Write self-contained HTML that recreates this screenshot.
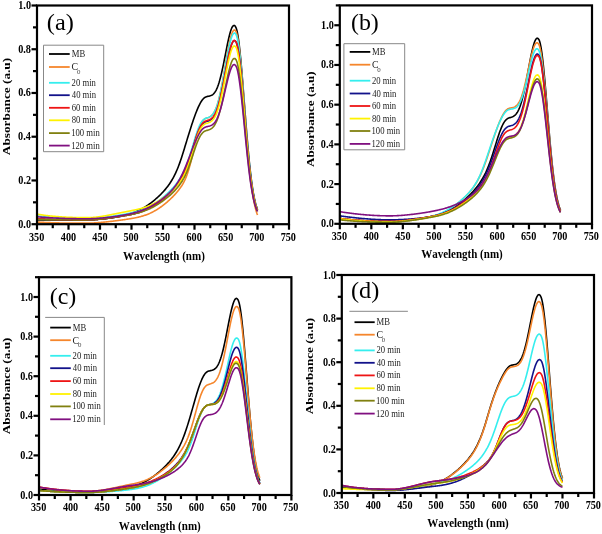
<!DOCTYPE html>
<html><head><meta charset="utf-8"><style>html,body{margin:0;padding:0;background:#fff;}body{width:602px;height:534px;overflow:hidden;}</style></head><body>
<svg width="602" height="534" viewBox="0 0 602 534" style="display:block;filter:blur(0.3px);font-family:'Liberation Serif',serif;font-kerning:none">
<rect width="602" height="534" fill="#fff"/>
<path d="M37,219.83 37.63,219.83 38.26,219.83 38.89,219.83 39.52,219.83 40.15,219.83 40.78,219.83 41.41,219.83 42.04,219.83 42.67,219.84 43.3,219.84 43.93,219.84 44.56,219.84 45.19,219.84 45.82,219.84 46.45,219.84 47.08,219.84 47.71,219.84 48.34,219.84 48.97,219.84 49.6,219.84 50.23,219.84 50.86,219.85 51.49,219.85 52.12,219.85 52.75,219.85 53.38,219.85 54.01,219.85 54.64,219.85 55.27,219.85 55.9,219.85 56.53,219.85 57.16,219.85 57.79,219.85 58.42,219.85 59.05,219.85 59.68,219.85 60.31,219.85 60.94,219.85 61.57,219.85 62.2,219.85 62.83,219.85 63.46,219.85 64.09,219.85 64.72,219.85 65.35,219.85 65.98,219.85 66.61,219.85 67.24,219.85 67.87,219.85 68.5,219.85 69.13,219.85 69.76,219.85 70.39,219.85 71.02,219.85 71.65,219.85 72.28,219.85 72.91,219.85 73.54,219.85 74.17,219.85 74.8,219.85 75.43,219.85 76.06,219.85 76.69,219.85 77.32,219.85 77.95,219.85 78.58,219.85 79.21,219.85 79.84,219.85 80.47,219.85 81.1,219.84 81.73,219.84 82.36,219.84 82.99,219.84 83.62,219.84 84.25,219.84 84.88,219.84 85.51,219.83 86.14,219.83 86.77,219.83 87.4,219.83 88.03,219.82 88.66,219.81 89.29,219.8 89.92,219.79 90.55,219.77 91.18,219.75 91.81,219.73 92.44,219.7 93.07,219.68 93.7,219.65 94.33,219.61 94.96,219.58 95.59,219.54 96.22,219.5 96.85,219.45 97.48,219.41 98.11,219.36 98.74,219.31 99.37,219.25 100,219.2 100.63,219.14 101.26,219.08 101.89,219.02 102.52,218.96 103.15,218.89 103.78,218.82 104.41,218.75 105.04,218.68 105.67,218.6 106.3,218.53 106.93,218.45 107.56,218.37 108.19,218.29 108.82,218.2 109.45,218.11 110.08,218.02 110.71,217.93 111.34,217.84 111.97,217.74 112.6,217.65 113.23,217.54 113.86,217.44 114.49,217.34 115.12,217.23 115.75,217.12 116.38,217 117.01,216.89 117.64,216.77 118.27,216.65 118.9,216.52 119.53,216.4 120.16,216.27 120.79,216.13 121.42,216 122.05,215.85 122.68,215.71 123.31,215.56 123.94,215.41 124.57,215.26 125.2,215.1 125.83,214.93 126.46,214.77 127.09,214.6 127.72,214.42 128.35,214.24 128.98,214.05 129.61,213.86 130.24,213.67 130.87,213.47 131.5,213.26 132.13,213.05 132.76,212.84 133.39,212.61 134.02,212.38 134.65,212.14 135.28,211.89 135.91,211.64 136.54,211.37 137.17,211.1 137.8,210.82 138.43,210.53 139.06,210.24 139.69,209.93 140.32,209.62 140.95,209.29 141.58,208.96 142.21,208.62 142.84,208.26 143.47,207.9 144.1,207.53 144.73,207.15 145.36,206.76 145.99,206.36 146.62,205.95 147.25,205.54 147.88,205.11 148.51,204.67 149.14,204.23 149.77,203.77 150.4,203.31 151.03,202.83 151.66,202.35 152.29,201.85 152.92,201.35 153.55,200.84 154.18,200.32 154.81,199.79 155.44,199.25 156.07,198.71 156.7,198.15 157.33,197.58 157.96,197 158.59,196.42 159.22,195.82 159.85,195.21 160.48,194.59 161.11,193.96 161.74,193.31 162.37,192.65 163,191.98 163.63,191.29 164.26,190.59 164.89,189.87 165.52,189.12 166.15,188.36 166.78,187.58 167.41,186.77 168.04,185.93 168.67,185.07 169.3,184.18 169.93,183.25 170.56,182.29 171.19,181.3 171.82,180.26 172.45,179.18 173.08,178.06 173.71,176.89 174.34,175.67 174.97,174.39 175.6,173.07 176.23,171.68 176.86,170.24 177.49,168.74 178.12,167.18 178.75,165.55 179.38,163.86 180.01,162.11 180.64,160.3 181.27,158.42 181.9,156.48 182.53,154.49 183.16,152.48 183.79,150.45 184.42,148.4 185.05,146.34 185.68,144.27 186.31,142.19 186.94,140.12 187.57,138.06 188.2,136 188.83,133.96 189.46,131.93 190.09,129.93 190.72,127.95 191.35,126 191.98,124.07 192.61,122.18 193.24,120.33 193.87,118.51 194.5,116.74 195.13,115.01 195.76,113.33 196.39,111.7 197.02,110.13 197.65,108.63 198.28,107.19 198.91,105.82 199.54,104.53 200.17,103.33 200.8,102.21 201.43,101.18 202.06,100.25 202.69,99.42 203.32,98.7 203.95,98.09 204.58,97.59 205.21,97.2 205.84,96.92 206.47,96.71 207.1,96.54 207.73,96.39 208.36,96.26 208.99,96.13 209.62,95.98 210.25,95.81 210.88,95.6 211.51,95.32 212.14,94.98 212.77,94.55 213.4,94.01 214.03,93.35 214.66,92.57 215.29,91.64 215.92,90.55 216.55,89.3 217.18,87.87 217.81,86.27 218.44,84.48 219.07,82.5 219.7,80.35 220.33,78.02 220.96,75.51 221.59,72.85 222.22,70.04 222.85,67.11 223.48,64.06 224.11,60.93 224.74,57.75 225.37,54.53 226,51.32 226.63,48.14 227.26,45.02 227.89,42.02 228.52,39.15 229.15,36.46 229.78,33.99 230.41,31.76 231.04,29.82 231.67,28.2 232.3,26.92 232.93,26.02 233.56,25.51 234.19,25.42 234.82,25.76 235.45,26.55 236.08,27.79 236.71,29.67 237.34,32.37 237.97,35.86 238.6,40.12 239.23,45.09 239.86,50.72 240.49,56.95 241.12,63.69 241.75,70.88 242.38,78.41 243.01,86.22 243.64,94.21 244.27,102.29 244.9,110.38 245.53,118.41 246.16,126.3 246.79,133.99 247.42,141.43 248.05,148.56 248.68,155.34 249.31,161.74 249.94,167.75 250.57,173.34 251.2,178.52 251.83,183.27 252.46,187.61 253.09,191.55 253.72,195.1 254.35,198.28 254.98,201.12 255.61,203.63 256.24,205.84 256.87,207.78 257.5,209.47" fill="none" stroke="#000000" stroke-width="1.6" stroke-linejoin="round"/>
<path d="M37,222.01 37.63,222.05 38.26,222.09 38.89,222.13 39.52,222.17 40.15,222.21 40.78,222.24 41.41,222.28 42.04,222.31 42.67,222.34 43.3,222.38 43.93,222.41 44.56,222.44 45.19,222.47 45.82,222.5 46.45,222.52 47.08,222.55 47.71,222.58 48.34,222.6 48.97,222.63 49.6,222.65 50.23,222.67 50.86,222.69 51.49,222.72 52.12,222.74 52.75,222.76 53.38,222.78 54.01,222.79 54.64,222.81 55.27,222.83 55.9,222.85 56.53,222.86 57.16,222.88 57.79,222.89 58.42,222.9 59.05,222.92 59.68,222.93 60.31,222.94 60.94,222.95 61.57,222.97 62.2,222.98 62.83,222.99 63.46,223 64.09,223.01 64.72,223.01 65.35,223.02 65.98,223.03 66.61,223.04 67.24,223.04 67.87,223.05 68.5,223.06 69.13,223.06 69.76,223.07 70.39,223.07 71.02,223.08 71.65,223.08 72.28,223.08 72.91,223.09 73.54,223.09 74.17,223.09 74.8,223.1 75.43,223.1 76.06,223.1 76.69,223.1 77.32,223.1 77.95,223.11 78.58,223.11 79.21,223.11 79.84,223.11 80.47,223.11 81.1,223.11 81.73,223.11 82.36,223.11 82.99,223.11 83.62,223.11 84.25,223.11 84.88,223.11 85.51,223.11 86.14,223.11 86.77,223.11 87.4,223.11 88.03,223.1 88.66,223.1 89.29,223.09 89.92,223.08 90.55,223.06 91.18,223.04 91.81,223.02 92.44,223 93.07,222.97 93.7,222.94 94.33,222.91 94.96,222.87 95.59,222.84 96.22,222.8 96.85,222.76 97.48,222.71 98.11,222.67 98.74,222.62 99.37,222.57 100,222.52 100.63,222.47 101.26,222.41 101.89,222.35 102.52,222.3 103.15,222.24 103.78,222.17 104.41,222.11 105.04,222.05 105.67,221.98 106.3,221.92 106.93,221.85 107.56,221.78 108.19,221.71 108.82,221.64 109.45,221.57 110.08,221.49 110.71,221.42 111.34,221.35 111.97,221.27 112.6,221.2 113.23,221.12 113.86,221.04 114.49,220.96 115.12,220.88 115.75,220.8 116.38,220.72 117.01,220.64 117.64,220.56 118.27,220.48 118.9,220.39 119.53,220.31 120.16,220.22 120.79,220.14 121.42,220.05 122.05,219.97 122.68,219.88 123.31,219.79 123.94,219.7 124.57,219.61 125.2,219.51 125.83,219.42 126.46,219.33 127.09,219.23 127.72,219.13 128.35,219.03 128.98,218.93 129.61,218.83 130.24,218.73 130.87,218.62 131.5,218.51 132.13,218.4 132.76,218.29 133.39,218.18 134.02,218.06 134.65,217.94 135.28,217.81 135.91,217.69 136.54,217.55 137.17,217.42 137.8,217.27 138.43,217.13 139.06,216.98 139.69,216.82 140.32,216.66 140.95,216.49 141.58,216.31 142.21,216.13 142.84,215.94 143.47,215.75 144.1,215.55 144.73,215.34 145.36,215.12 145.99,214.89 146.62,214.66 147.25,214.42 147.88,214.17 148.51,213.91 149.14,213.64 149.77,213.37 150.4,213.08 151.03,212.79 151.66,212.48 152.29,212.17 152.92,211.85 153.55,211.52 154.18,211.17 154.81,210.82 155.44,210.46 156.07,210.09 156.7,209.71 157.33,209.32 157.96,208.92 158.59,208.51 159.22,208.09 159.85,207.66 160.48,207.22 161.11,206.77 161.74,206.31 162.37,205.84 163,205.37 163.63,204.88 164.26,204.39 164.89,203.88 165.52,203.37 166.15,202.84 166.78,202.31 167.41,201.77 168.04,201.22 168.67,200.65 169.3,200.08 169.93,199.5 170.56,198.91 171.19,198.3 171.82,197.69 172.45,197.06 173.08,196.42 173.71,195.76 174.34,195.09 174.97,194.41 175.6,193.71 176.23,192.99 176.86,192.25 177.49,191.5 178.12,190.72 178.75,189.91 179.38,189.08 180.01,188.23 180.64,187.35 181.27,186.43 181.9,185.49 182.53,184.49 183.16,183.41 183.79,182.25 184.42,181 185.05,179.66 185.68,178.21 186.31,176.65 186.94,174.99 187.57,173.2 188.2,171.29 188.83,169.27 189.46,167.12 190.09,164.85 190.72,162.47 191.35,159.99 191.98,157.42 192.61,154.77 193.24,152.06 193.87,149.32 194.5,146.57 195.13,143.84 195.76,141.15 196.39,138.54 197.02,136.03 197.65,133.65 198.28,131.42 198.91,129.35 199.54,127.47 200.17,125.77 200.8,124.27 201.43,122.97 202.06,121.85 202.69,120.91 203.32,120.14 203.95,119.51 204.58,119.02 205.21,118.65 205.84,118.37 206.47,118.13 207.1,117.91 207.73,117.69 208.36,117.45 208.99,117.19 209.62,116.88 210.25,116.52 210.88,116.1 211.51,115.59 212.14,114.98 212.77,114.26 213.4,113.41 214.03,112.42 214.66,111.28 215.29,109.97 215.92,108.48 216.55,106.81 217.18,104.95 217.81,102.89 218.44,100.64 219.07,98.19 219.7,95.54 220.33,92.7 220.96,89.69 221.59,86.51 222.22,83.18 222.85,79.71 223.48,76.14 224.11,72.49 224.74,68.77 225.37,65.04 226,61.3 226.63,57.62 227.26,54.01 227.89,50.51 228.52,47.17 229.15,44.03 229.78,41.11 230.41,38.46 231.04,36.12 231.67,34.11 232.3,32.47 232.93,31.23 233.56,30.4 234.19,30.02 234.82,30.09 235.45,30.64 236.08,31.66 236.71,33.36 237.34,35.9 237.97,39.27 238.6,43.44 239.23,48.36 239.86,53.96 240.49,60.19 241.12,66.96 241.75,74.19 242.38,81.79 243.01,89.68 243.64,97.77 244.27,105.96 244.9,114.17 245.53,122.32 246.16,130.34 246.79,138.16 247.42,145.72 248.05,152.97 248.68,159.87 249.31,166.39 249.94,172.51 250.57,178.21 251.2,183.48 251.83,188.32 252.46,192.74 253.09,196.75 253.72,200.37 254.35,203.61 254.98,206.5 255.61,209.06 256.24,211.31 256.87,213.28 257.5,215.01" fill="none" stroke="#F5862C" stroke-width="1.6" stroke-linejoin="round"/>
<path d="M37,215.89 37.63,215.96 38.26,216.04 38.89,216.11 39.52,216.18 40.15,216.25 40.78,216.32 41.41,216.38 42.04,216.45 42.67,216.51 43.3,216.58 43.93,216.64 44.56,216.7 45.19,216.76 45.82,216.82 46.45,216.87 47.08,216.93 47.71,216.99 48.34,217.04 48.97,217.09 49.6,217.14 50.23,217.2 50.86,217.24 51.49,217.29 52.12,217.34 52.75,217.39 53.38,217.43 54.01,217.48 54.64,217.52 55.27,217.56 55.9,217.6 56.53,217.64 57.16,217.68 57.79,217.72 58.42,217.76 59.05,217.79 59.68,217.83 60.31,217.86 60.94,217.89 61.57,217.93 62.2,217.96 62.83,217.99 63.46,218.02 64.09,218.05 64.72,218.07 65.35,218.1 65.98,218.13 66.61,218.15 67.24,218.17 67.87,218.2 68.5,218.22 69.13,218.24 69.76,218.26 70.39,218.28 71.02,218.3 71.65,218.32 72.28,218.33 72.91,218.35 73.54,218.37 74.17,218.38 74.8,218.39 75.43,218.41 76.06,218.42 76.69,218.43 77.32,218.44 77.95,218.45 78.58,218.46 79.21,218.47 79.84,218.48 80.47,218.48 81.1,218.49 81.73,218.5 82.36,218.5 82.99,218.51 83.62,218.51 84.25,218.51 84.88,218.51 85.51,218.51 86.14,218.51 86.77,218.51 87.4,218.51 88.03,218.51 88.66,218.5 89.29,218.49 89.92,218.48 90.55,218.46 91.18,218.44 91.81,218.41 92.44,218.38 93.07,218.35 93.7,218.32 94.33,218.28 94.96,218.24 95.59,218.19 96.22,218.15 96.85,218.1 97.48,218.05 98.11,217.99 98.74,217.93 99.37,217.88 100,217.81 100.63,217.75 101.26,217.68 101.89,217.62 102.52,217.55 103.15,217.48 103.78,217.4 104.41,217.33 105.04,217.25 105.67,217.17 106.3,217.09 106.93,217.01 107.56,216.93 108.19,216.84 108.82,216.76 109.45,216.67 110.08,216.58 110.71,216.49 111.34,216.4 111.97,216.31 112.6,216.22 113.23,216.12 113.86,216.03 114.49,215.93 115.12,215.83 115.75,215.73 116.38,215.63 117.01,215.53 117.64,215.43 118.27,215.33 118.9,215.22 119.53,215.12 120.16,215.01 120.79,214.9 121.42,214.79 122.05,214.68 122.68,214.57 123.31,214.46 123.94,214.34 124.57,214.22 125.2,214.11 125.83,213.99 126.46,213.87 127.09,213.74 127.72,213.62 128.35,213.49 128.98,213.36 129.61,213.23 130.24,213.1 130.87,212.96 131.5,212.83 132.13,212.69 132.76,212.54 133.39,212.4 134.02,212.24 134.65,212.09 135.28,211.92 135.91,211.76 136.54,211.58 137.17,211.41 137.8,211.22 138.43,211.03 139.06,210.84 139.69,210.63 140.32,210.42 140.95,210.21 141.58,209.98 142.21,209.75 142.84,209.52 143.47,209.27 144.1,209.02 144.73,208.75 145.36,208.48 145.99,208.21 146.62,207.92 147.25,207.62 147.88,207.32 148.51,207.01 149.14,206.68 149.77,206.35 150.4,206.01 151.03,205.67 151.66,205.31 152.29,204.94 152.92,204.56 153.55,204.18 154.18,203.79 154.81,203.38 155.44,202.97 156.07,202.55 156.7,202.12 157.33,201.68 157.96,201.24 158.59,200.78 159.22,200.32 159.85,199.84 160.48,199.36 161.11,198.87 161.74,198.37 162.37,197.86 163,197.35 163.63,196.82 164.26,196.29 164.89,195.75 165.52,195.2 166.15,194.64 166.78,194.07 167.41,193.48 168.04,192.89 168.67,192.29 169.3,191.68 169.93,191.05 170.56,190.41 171.19,189.75 171.82,189.08 172.45,188.4 173.08,187.7 173.71,186.97 174.34,186.23 174.97,185.47 175.6,184.68 176.23,183.87 176.86,183.03 177.49,182.16 178.12,181.27 178.75,180.34 179.38,179.38 180.01,178.38 180.64,177.35 181.27,176.28 181.9,175.17 182.53,174.01 183.16,172.78 183.79,171.49 184.42,170.13 185.05,168.69 185.68,167.18 186.31,165.6 186.94,163.95 187.57,162.22 188.2,160.42 188.83,158.55 189.46,156.62 190.09,154.63 190.72,152.59 191.35,150.51 191.98,148.4 192.61,146.28 193.24,144.14 193.87,142.02 194.5,139.92 195.13,137.85 195.76,135.84 196.39,133.9 197.02,132.04 197.65,130.28 198.28,128.63 198.91,127.08 199.54,125.67 200.17,124.38 200.8,123.22 201.43,122.19 202.06,121.3 202.69,120.53 203.32,119.88 203.95,119.34 204.58,118.9 205.21,118.56 205.84,118.3 206.47,118.07 207.1,117.86 207.73,117.64 208.36,117.41 208.99,117.15 209.62,116.85 210.25,116.5 210.88,116.08 211.51,115.58 212.14,114.99 212.77,114.29 213.4,113.46 214.03,112.5 214.66,111.39 215.29,110.12 215.92,108.68 216.55,107.07 217.18,105.27 217.81,103.28 218.44,101.1 219.07,98.74 219.7,96.18 220.33,93.45 220.96,90.54 221.59,87.48 222.22,84.27 222.85,80.94 223.48,77.5 224.11,73.99 224.74,70.41 225.37,66.82 226,63.23 226.63,59.68 227.26,56.21 227.89,52.85 228.52,49.64 229.15,46.61 229.78,43.8 230.41,41.25 231.04,38.99 231.67,37.06 232.3,35.47 232.93,34.27 233.56,33.46 234.19,33.08 234.82,33.14 235.45,33.65 236.08,34.62 236.71,36.22 237.34,38.64 237.97,41.86 238.6,45.84 239.23,50.53 239.86,55.88 240.49,61.82 241.12,68.29 241.75,75.2 242.38,82.47 243.01,90 243.64,97.73 244.27,105.56 244.9,113.4 245.53,121.19 246.16,128.86 246.79,136.33 247.42,143.56 248.05,150.49 248.68,157.09 249.31,163.32 249.94,169.17 250.57,174.61 251.2,179.65 251.83,184.28 252.46,188.51 253.09,192.34 253.72,195.8 254.35,198.89 254.98,201.65 255.61,204.1 256.24,206.25 256.87,208.14 257.5,209.79" fill="none" stroke="#35EEEE" stroke-width="1.6" stroke-linejoin="round"/>
<path d="M37,218.73 37.63,218.77 38.26,218.81 38.89,218.85 39.52,218.89 40.15,218.93 40.78,218.96 41.41,219 42.04,219.03 42.67,219.07 43.3,219.1 43.93,219.13 44.56,219.16 45.19,219.19 45.82,219.22 46.45,219.25 47.08,219.27 47.71,219.3 48.34,219.32 48.97,219.35 49.6,219.37 50.23,219.39 50.86,219.42 51.49,219.44 52.12,219.46 52.75,219.48 53.38,219.5 54.01,219.52 54.64,219.53 55.27,219.55 55.9,219.57 56.53,219.58 57.16,219.6 57.79,219.61 58.42,219.63 59.05,219.64 59.68,219.65 60.31,219.67 60.94,219.68 61.57,219.69 62.2,219.7 62.83,219.71 63.46,219.72 64.09,219.73 64.72,219.74 65.35,219.75 65.98,219.75 66.61,219.76 67.24,219.77 67.87,219.77 68.5,219.78 69.13,219.79 69.76,219.79 70.39,219.8 71.02,219.8 71.65,219.8 72.28,219.81 72.91,219.81 73.54,219.81 74.17,219.82 74.8,219.82 75.43,219.82 76.06,219.82 76.69,219.83 77.32,219.83 77.95,219.83 78.58,219.83 79.21,219.83 79.84,219.83 80.47,219.83 81.1,219.83 81.73,219.83 82.36,219.83 82.99,219.83 83.62,219.83 84.25,219.83 84.88,219.83 85.51,219.83 86.14,219.83 86.77,219.83 87.4,219.83 88.03,219.82 88.66,219.82 89.29,219.81 89.92,219.79 90.55,219.77 91.18,219.75 91.81,219.73 92.44,219.7 93.07,219.67 93.7,219.63 94.33,219.6 94.96,219.56 95.59,219.52 96.22,219.47 96.85,219.42 97.48,219.37 98.11,219.32 98.74,219.26 99.37,219.21 100,219.15 100.63,219.09 101.26,219.02 101.89,218.96 102.52,218.89 103.15,218.82 103.78,218.75 104.41,218.68 105.04,218.6 105.67,218.53 106.3,218.45 106.93,218.37 107.56,218.29 108.19,218.21 108.82,218.13 109.45,218.04 110.08,217.96 110.71,217.87 111.34,217.78 111.97,217.69 112.6,217.6 113.23,217.51 113.86,217.42 114.49,217.33 115.12,217.23 115.75,217.14 116.38,217.04 117.01,216.94 117.64,216.85 118.27,216.75 118.9,216.65 119.53,216.54 120.16,216.44 120.79,216.34 121.42,216.23 122.05,216.13 122.68,216.02 123.31,215.91 123.94,215.8 124.57,215.69 125.2,215.58 125.83,215.46 126.46,215.35 127.09,215.23 127.72,215.11 128.35,214.99 128.98,214.87 129.61,214.74 130.24,214.62 130.87,214.49 131.5,214.36 132.13,214.22 132.76,214.09 133.39,213.94 134.02,213.8 134.65,213.64 135.28,213.49 135.91,213.32 136.54,213.15 137.17,212.98 137.8,212.8 138.43,212.61 139.06,212.42 139.69,212.22 140.32,212.01 140.95,211.79 141.58,211.57 142.21,211.34 142.84,211.11 143.47,210.86 144.1,210.61 144.73,210.35 145.36,210.08 145.99,209.8 146.62,209.51 147.25,209.22 147.88,208.91 148.51,208.6 149.14,208.28 149.77,207.95 150.4,207.61 151.03,207.26 151.66,206.9 152.29,206.54 152.92,206.16 153.55,205.78 154.18,205.39 154.81,204.99 155.44,204.58 156.07,204.16 156.7,203.73 157.33,203.29 157.96,202.85 158.59,202.39 159.22,201.93 159.85,201.46 160.48,200.98 161.11,200.5 161.74,200 162.37,199.5 163,198.99 163.63,198.47 164.26,197.94 164.89,197.4 165.52,196.85 166.15,196.3 166.78,195.73 167.41,195.16 168.04,194.58 168.67,193.98 169.3,193.38 169.93,192.76 170.56,192.13 171.19,191.48 171.82,190.83 172.45,190.15 173.08,189.46 173.71,188.75 174.34,188.03 174.97,187.28 175.6,186.51 176.23,185.72 176.86,184.9 177.49,184.06 178.12,183.18 178.75,182.28 179.38,181.35 180.01,180.38 180.64,179.38 181.27,178.34 181.9,177.26 182.53,176.13 183.16,174.94 183.79,173.69 184.42,172.37 185.05,170.97 185.68,169.51 186.31,167.97 186.94,166.36 187.57,164.68 188.2,162.93 188.83,161.11 189.46,159.23 190.09,157.29 190.72,155.3 191.35,153.27 191.98,151.21 192.61,149.13 193.24,147.05 193.87,144.97 194.5,142.91 195.13,140.89 195.76,138.93 196.39,137.03 197.02,135.21 197.65,133.48 198.28,131.86 198.91,130.35 199.54,128.96 200.17,127.7 200.8,126.57 201.43,125.57 202.06,124.69 202.69,123.94 203.32,123.31 203.95,122.79 204.58,122.36 205.21,122.03 205.84,121.78 206.47,121.57 207.1,121.36 207.73,121.15 208.36,120.93 208.99,120.69 209.62,120.41 210.25,120.08 210.88,119.68 211.51,119.21 212.14,118.65 212.77,117.99 213.4,117.2 214.03,116.29 214.66,115.24 215.29,114.03 215.92,112.66 216.55,111.13 217.18,109.41 217.81,107.52 218.44,105.45 219.07,103.19 219.7,100.75 220.33,98.15 220.96,95.37 221.59,92.45 222.22,89.39 222.85,86.2 223.48,82.92 224.11,79.56 224.74,76.15 225.37,72.71 226,69.28 226.63,65.89 227.26,62.58 227.89,59.37 228.52,56.3 229.15,53.4 229.78,50.72 230.41,48.29 231.04,46.13 231.67,44.29 232.3,42.78 232.93,41.63 233.56,40.87 234.19,40.52 234.82,40.58 235.45,41.08 236.08,42.01 236.71,43.56 237.34,45.89 237.97,48.99 238.6,52.81 239.23,57.31 239.86,62.45 240.49,68.17 241.12,74.37 241.75,81.01 242.38,87.98 243.01,95.22 243.64,102.64 244.27,110.15 244.9,117.68 245.53,125.16 246.16,132.52 246.79,139.69 247.42,146.62 248.05,153.28 248.68,159.61 249.31,165.59 249.94,171.2 250.57,176.43 251.2,181.27 251.83,185.71 252.46,189.76 253.09,193.44 253.72,196.76 254.35,199.73 254.98,202.38 255.61,204.73 256.24,206.8 256.87,208.61 257.5,210.19" fill="none" stroke="#12128A" stroke-width="1.6" stroke-linejoin="round"/>
<path d="M37,218.73 37.63,218.77 38.26,218.81 38.89,218.85 39.52,218.89 40.15,218.93 40.78,218.96 41.41,219 42.04,219.03 42.67,219.07 43.3,219.1 43.93,219.13 44.56,219.16 45.19,219.19 45.82,219.22 46.45,219.25 47.08,219.27 47.71,219.3 48.34,219.32 48.97,219.35 49.6,219.37 50.23,219.39 50.86,219.42 51.49,219.44 52.12,219.46 52.75,219.48 53.38,219.5 54.01,219.52 54.64,219.53 55.27,219.55 55.9,219.57 56.53,219.58 57.16,219.6 57.79,219.61 58.42,219.63 59.05,219.64 59.68,219.65 60.31,219.67 60.94,219.68 61.57,219.69 62.2,219.7 62.83,219.71 63.46,219.72 64.09,219.73 64.72,219.74 65.35,219.75 65.98,219.75 66.61,219.76 67.24,219.77 67.87,219.77 68.5,219.78 69.13,219.79 69.76,219.79 70.39,219.8 71.02,219.8 71.65,219.8 72.28,219.81 72.91,219.81 73.54,219.81 74.17,219.82 74.8,219.82 75.43,219.82 76.06,219.82 76.69,219.83 77.32,219.83 77.95,219.83 78.58,219.83 79.21,219.83 79.84,219.83 80.47,219.83 81.1,219.83 81.73,219.83 82.36,219.83 82.99,219.83 83.62,219.83 84.25,219.83 84.88,219.83 85.51,219.83 86.14,219.83 86.77,219.83 87.4,219.83 88.03,219.82 88.66,219.82 89.29,219.81 89.92,219.79 90.55,219.77 91.18,219.75 91.81,219.73 92.44,219.7 93.07,219.67 93.7,219.63 94.33,219.6 94.96,219.56 95.59,219.51 96.22,219.47 96.85,219.42 97.48,219.37 98.11,219.32 98.74,219.26 99.37,219.2 100,219.14 100.63,219.08 101.26,219.02 101.89,218.95 102.52,218.89 103.15,218.82 103.78,218.74 104.41,218.67 105.04,218.6 105.67,218.52 106.3,218.44 106.93,218.36 107.56,218.28 108.19,218.2 108.82,218.12 109.45,218.03 110.08,217.95 110.71,217.86 111.34,217.77 111.97,217.68 112.6,217.59 113.23,217.5 113.86,217.41 114.49,217.32 115.12,217.22 115.75,217.13 116.38,217.03 117.01,216.93 117.64,216.84 118.27,216.74 118.9,216.64 119.53,216.53 120.16,216.43 120.79,216.33 121.42,216.22 122.05,216.12 122.68,216.01 123.31,215.9 123.94,215.79 124.57,215.68 125.2,215.57 125.83,215.46 126.46,215.34 127.09,215.22 127.72,215.11 128.35,214.99 128.98,214.86 129.61,214.74 130.24,214.62 130.87,214.49 131.5,214.36 132.13,214.23 132.76,214.09 133.39,213.95 134.02,213.8 134.65,213.65 135.28,213.49 135.91,213.33 136.54,213.16 137.17,212.99 137.8,212.81 138.43,212.62 139.06,212.43 139.69,212.23 140.32,212.03 140.95,211.81 141.58,211.59 142.21,211.37 142.84,211.13 143.47,210.89 144.1,210.63 144.73,210.38 145.36,210.11 145.99,209.83 146.62,209.55 147.25,209.25 147.88,208.95 148.51,208.64 149.14,208.32 149.77,207.99 150.4,207.66 151.03,207.31 151.66,206.96 152.29,206.59 152.92,206.22 153.55,205.84 154.18,205.45 154.81,205.05 155.44,204.64 156.07,204.22 156.7,203.79 157.33,203.36 157.96,202.92 158.59,202.47 159.22,202.01 159.85,201.54 160.48,201.06 161.11,200.57 161.74,200.08 162.37,199.58 163,199.07 163.63,198.55 164.26,198.02 164.89,197.49 165.52,196.94 166.15,196.39 166.78,195.83 167.41,195.26 168.04,194.67 168.67,194.08 169.3,193.47 169.93,192.86 170.56,192.23 171.19,191.58 171.82,190.93 172.45,190.25 173.08,189.56 173.71,188.86 174.34,188.13 174.97,187.38 175.6,186.61 176.23,185.82 176.86,185 177.49,184.15 178.12,183.28 178.75,182.38 179.38,181.44 180.01,180.47 180.64,179.46 181.27,178.42 181.9,177.34 182.53,176.21 183.16,175.01 183.79,173.75 184.42,172.41 185.05,171.01 185.68,169.53 186.31,167.98 186.94,166.35 187.57,164.65 188.2,162.87 188.83,161.03 189.46,159.12 190.09,157.15 190.72,155.13 191.35,153.07 191.98,150.97 192.61,148.85 193.24,146.73 193.87,144.61 194.5,142.51 195.13,140.45 195.76,138.44 196.39,136.5 197.02,134.64 197.65,132.88 198.28,131.22 198.91,129.68 199.54,128.27 200.17,126.98 200.8,125.82 201.43,124.8 202.06,123.91 202.69,123.14 203.32,122.5 203.95,121.97 204.58,121.54 205.21,121.21 205.84,120.95 206.47,120.74 207.1,120.54 207.73,120.33 208.36,120.12 208.99,119.88 209.62,119.61 210.25,119.29 210.88,118.9 211.51,118.44 212.14,117.9 212.77,117.24 213.4,116.48 214.03,115.58 214.66,114.55 215.29,113.36 215.92,112.01 216.55,110.49 217.18,108.8 217.81,106.93 218.44,104.88 219.07,102.65 219.7,100.24 220.33,97.65 220.96,94.91 221.59,92.01 222.22,88.97 222.85,85.81 223.48,82.55 224.11,79.22 224.74,75.83 225.37,72.42 226,69.02 226.63,65.65 227.26,62.36 227.89,59.17 228.52,56.13 229.15,53.26 229.78,50.6 230.41,48.18 231.04,46.05 231.67,44.22 232.3,42.73 232.93,41.6 233.56,40.85 234.19,40.51 234.82,40.59 235.45,41.1 236.08,42.05 236.71,43.61 237.34,45.95 237.97,49.04 238.6,52.87 239.23,57.38 239.86,62.53 240.49,68.24 241.12,74.45 241.75,81.08 242.38,88.06 243.01,95.29 243.64,102.71 244.27,110.22 244.9,117.74 245.53,125.22 246.16,132.57 246.79,139.74 247.42,146.67 248.05,153.32 248.68,159.65 249.31,165.63 249.94,171.24 250.57,176.46 251.2,181.29 251.83,185.73 252.46,189.78 253.09,193.46 253.72,196.78 254.35,199.75 254.98,202.39 255.61,204.74 256.24,206.8 256.87,208.61 257.5,210.19" fill="none" stroke="#EE1515" stroke-width="1.6" stroke-linejoin="round"/>
<path d="M37,214.14 37.63,214.24 38.26,214.34 38.89,214.44 39.52,214.54 40.15,214.64 40.78,214.73 41.41,214.82 42.04,214.91 42.67,215 43.3,215.09 43.93,215.17 44.56,215.25 45.19,215.34 45.82,215.42 46.45,215.49 47.08,215.57 47.71,215.64 48.34,215.72 48.97,215.79 49.6,215.86 50.23,215.93 50.86,215.99 51.49,216.06 52.12,216.12 52.75,216.18 53.38,216.24 54.01,216.3 54.64,216.36 55.27,216.42 55.9,216.47 56.53,216.52 57.16,216.57 57.79,216.62 58.42,216.67 59.05,216.72 59.68,216.77 60.31,216.81 60.94,216.85 61.57,216.89 62.2,216.94 62.83,216.97 63.46,217.01 64.09,217.05 64.72,217.08 65.35,217.12 65.98,217.15 66.61,217.18 67.24,217.21 67.87,217.24 68.5,217.27 69.13,217.3 69.76,217.32 70.39,217.35 71.02,217.37 71.65,217.39 72.28,217.42 72.91,217.44 73.54,217.45 74.17,217.47 74.8,217.49 75.43,217.51 76.06,217.52 76.69,217.54 77.32,217.55 77.95,217.56 78.58,217.57 79.21,217.58 79.84,217.59 80.47,217.6 81.1,217.61 81.73,217.62 82.36,217.62 82.99,217.63 83.62,217.63 84.25,217.63 84.88,217.64 85.51,217.64 86.14,217.64 86.77,217.64 87.4,217.64 88.03,217.63 88.66,217.63 89.29,217.61 89.92,217.59 90.55,217.56 91.18,217.53 91.81,217.49 92.44,217.45 93.07,217.41 93.7,217.35 94.33,217.3 94.96,217.24 95.59,217.18 96.22,217.11 96.85,217.04 97.48,216.96 98.11,216.88 98.74,216.8 99.37,216.72 100,216.63 100.63,216.54 101.26,216.44 101.89,216.35 102.52,216.25 103.15,216.14 103.78,216.04 104.41,215.93 105.04,215.82 105.67,215.71 106.3,215.6 106.93,215.49 107.56,215.37 108.19,215.26 108.82,215.14 109.45,215.02 110.08,214.9 110.71,214.78 111.34,214.66 111.97,214.53 112.6,214.41 113.23,214.28 113.86,214.16 114.49,214.03 115.12,213.91 115.75,213.78 116.38,213.65 117.01,213.53 117.64,213.4 118.27,213.27 118.9,213.14 119.53,213.02 120.16,212.89 120.79,212.76 121.42,212.64 122.05,212.51 122.68,212.38 123.31,212.26 123.94,212.13 124.57,212.01 125.2,211.88 125.83,211.75 126.46,211.63 127.09,211.5 127.72,211.38 128.35,211.26 128.98,211.13 129.61,211.01 130.24,210.89 130.87,210.76 131.5,210.64 132.13,210.52 132.76,210.39 133.39,210.27 134.02,210.14 134.65,210 135.28,209.87 135.91,209.73 136.54,209.59 137.17,209.45 137.8,209.3 138.43,209.15 139.06,208.99 139.69,208.83 140.32,208.66 140.95,208.49 141.58,208.31 142.21,208.13 142.84,207.94 143.47,207.75 144.1,207.55 144.73,207.34 145.36,207.13 145.99,206.91 146.62,206.69 147.25,206.45 147.88,206.21 148.51,205.96 149.14,205.71 149.77,205.45 150.4,205.18 151.03,204.9 151.66,204.61 152.29,204.32 152.92,204.02 153.55,203.71 154.18,203.39 154.81,203.06 155.44,202.73 156.07,202.39 156.7,202.04 157.33,201.68 157.96,201.32 158.59,200.94 159.22,200.56 159.85,200.17 160.48,199.77 161.11,199.37 161.74,198.96 162.37,198.54 163,198.11 163.63,197.67 164.26,197.22 164.89,196.77 165.52,196.31 166.15,195.84 166.78,195.36 167.41,194.87 168.04,194.37 168.67,193.86 169.3,193.33 169.93,192.8 170.56,192.25 171.19,191.7 171.82,191.12 172.45,190.53 173.08,189.93 173.71,189.31 174.34,188.67 174.97,188 175.6,187.32 176.23,186.62 176.86,185.89 177.49,185.13 178.12,184.35 178.75,183.53 179.38,182.69 180.01,181.81 180.64,180.89 181.27,179.94 181.9,178.95 182.53,177.91 183.16,176.81 183.79,175.64 184.42,174.39 185.05,173.07 185.68,171.67 186.31,170.2 186.94,168.64 187.57,167 188.2,165.29 188.83,163.5 189.46,161.64 190.09,159.71 190.72,157.72 191.35,155.69 191.98,153.61 192.61,151.51 193.24,149.39 193.87,147.27 194.5,145.16 195.13,143.09 195.76,141.07 196.39,139.12 197.02,137.25 197.65,135.47 198.28,133.81 198.91,132.26 199.54,130.84 200.17,129.54 200.8,128.39 201.43,127.37 202.06,126.48 202.69,125.72 203.32,125.08 203.95,124.56 204.58,124.14 205.21,123.81 205.84,123.56 206.47,123.36 207.1,123.16 207.73,122.97 208.36,122.76 208.99,122.53 209.62,122.27 210.25,121.97 210.88,121.6 211.51,121.16 212.14,120.63 212.77,120.01 213.4,119.27 214.03,118.41 214.66,117.42 215.29,116.28 215.92,114.98 216.55,113.52 217.18,111.89 217.81,110.09 218.44,108.11 219.07,105.95 219.7,103.63 220.33,101.14 220.96,98.48 221.59,95.69 222.22,92.75 222.85,89.71 223.48,86.56 224.11,83.34 224.74,80.07 225.37,76.77 226,73.49 226.63,70.23 227.26,67.05 227.89,63.98 228.52,61.03 229.15,58.26 229.78,55.69 230.41,53.36 231.04,51.3 231.67,49.54 232.3,48.1 232.93,47.01 233.56,46.3 234.19,45.98 234.82,46.06 235.45,46.56 236.08,47.48 236.71,49 237.34,51.27 237.97,54.28 238.6,57.99 239.23,62.37 239.86,67.36 240.49,72.9 241.12,78.92 241.75,85.35 242.38,92.11 243.01,99.12 243.64,106.31 244.27,113.59 244.9,120.89 245.53,128.13 246.16,135.26 246.79,142.21 247.42,148.92 248.05,155.37 248.68,161.5 249.31,167.3 249.94,172.73 250.57,177.79 251.2,182.48 251.83,186.78 252.46,190.71 253.09,194.27 253.72,197.48 254.35,200.36 254.98,202.93 255.61,205.2 256.24,207.2 256.87,208.96 257.5,210.49" fill="none" stroke="#FFF200" stroke-width="1.6" stroke-linejoin="round"/>
<path d="M37,219.39 37.63,219.41 38.26,219.42 38.89,219.44 39.52,219.45 40.15,219.47 40.78,219.48 41.41,219.5 42.04,219.51 42.67,219.52 43.3,219.54 43.93,219.55 44.56,219.56 45.19,219.57 45.82,219.59 46.45,219.6 47.08,219.61 47.71,219.62 48.34,219.63 48.97,219.64 49.6,219.65 50.23,219.66 50.86,219.67 51.49,219.68 52.12,219.68 52.75,219.69 53.38,219.7 54.01,219.71 54.64,219.71 55.27,219.72 55.9,219.73 56.53,219.73 57.16,219.74 57.79,219.75 58.42,219.75 59.05,219.76 59.68,219.76 60.31,219.77 60.94,219.77 61.57,219.78 62.2,219.78 62.83,219.79 63.46,219.79 64.09,219.79 64.72,219.8 65.35,219.8 65.98,219.8 66.61,219.81 67.24,219.81 67.87,219.81 68.5,219.81 69.13,219.82 69.76,219.82 70.39,219.82 71.02,219.82 71.65,219.82 72.28,219.82 72.91,219.83 73.54,219.83 74.17,219.83 74.8,219.83 75.43,219.83 76.06,219.83 76.69,219.83 77.32,219.83 77.95,219.83 78.58,219.83 79.21,219.83 79.84,219.83 80.47,219.83 81.1,219.83 81.73,219.83 82.36,219.83 82.99,219.83 83.62,219.83 84.25,219.83 84.88,219.83 85.51,219.83 86.14,219.83 86.77,219.83 87.4,219.83 88.03,219.82 88.66,219.82 89.29,219.8 89.92,219.79 90.55,219.77 91.18,219.75 91.81,219.72 92.44,219.69 93.07,219.66 93.7,219.62 94.33,219.58 94.96,219.54 95.59,219.5 96.22,219.45 96.85,219.4 97.48,219.34 98.11,219.29 98.74,219.23 99.37,219.17 100,219.1 100.63,219.04 101.26,218.97 101.89,218.9 102.52,218.83 103.15,218.76 103.78,218.68 104.41,218.61 105.04,218.53 105.67,218.45 106.3,218.37 106.93,218.28 107.56,218.2 108.19,218.11 108.82,218.03 109.45,217.94 110.08,217.85 110.71,217.76 111.34,217.67 111.97,217.58 112.6,217.49 113.23,217.39 113.86,217.3 114.49,217.2 115.12,217.11 115.75,217.01 116.38,216.91 117.01,216.82 117.64,216.72 118.27,216.62 118.9,216.52 119.53,216.42 120.16,216.32 120.79,216.21 121.42,216.11 122.05,216.01 122.68,215.9 123.31,215.8 123.94,215.69 124.57,215.59 125.2,215.48 125.83,215.37 126.46,215.26 127.09,215.15 127.72,215.04 128.35,214.93 128.98,214.82 129.61,214.71 130.24,214.59 130.87,214.48 131.5,214.36 132.13,214.24 132.76,214.12 133.39,213.99 134.02,213.86 134.65,213.72 135.28,213.58 135.91,213.44 136.54,213.29 137.17,213.14 137.8,212.98 138.43,212.81 139.06,212.64 139.69,212.47 140.32,212.29 140.95,212.1 141.58,211.9 142.21,211.7 142.84,211.5 143.47,211.28 144.1,211.06 144.73,210.83 145.36,210.6 145.99,210.35 146.62,210.1 147.25,209.84 147.88,209.58 148.51,209.3 149.14,209.02 149.77,208.73 150.4,208.44 151.03,208.13 151.66,207.82 152.29,207.5 152.92,207.17 153.55,206.83 154.18,206.49 154.81,206.14 155.44,205.78 156.07,205.41 156.7,205.03 157.33,204.65 157.96,204.26 158.59,203.86 159.22,203.45 159.85,203.04 160.48,202.62 161.11,202.19 161.74,201.75 162.37,201.31 163,200.86 163.63,200.4 164.26,199.94 164.89,199.46 165.52,198.98 166.15,198.49 166.78,197.99 167.41,197.48 168.04,196.97 168.67,196.44 169.3,195.9 169.93,195.35 170.56,194.79 171.19,194.22 171.82,193.64 172.45,193.04 173.08,192.42 173.71,191.79 174.34,191.15 174.97,190.48 175.6,189.79 176.23,189.08 176.86,188.35 177.49,187.6 178.12,186.82 178.75,186.01 179.38,185.17 180.01,184.3 180.64,183.4 181.27,182.46 181.9,181.49 182.53,180.48 183.16,179.4 183.79,178.27 184.42,177.07 185.05,175.81 185.68,174.48 186.31,173.08 186.94,171.62 187.57,170.09 188.2,168.49 188.83,166.83 189.46,165.12 190.09,163.34 190.72,161.53 191.35,159.67 191.98,157.78 192.61,155.88 193.24,153.96 193.87,152.06 194.5,150.17 195.13,148.31 195.76,146.5 196.39,144.76 197.02,143.08 197.65,141.5 198.28,140 198.91,138.62 199.54,137.34 200.17,136.18 200.8,135.14 201.43,134.22 202.06,133.41 202.69,132.73 203.32,132.14 203.95,131.67 204.58,131.28 205.21,130.98 205.84,130.75 206.47,130.56 207.1,130.38 207.73,130.2 208.36,130 208.99,129.79 209.62,129.55 210.25,129.26 210.88,128.91 211.51,128.5 212.14,128.01 212.77,127.42 213.4,126.74 214.03,125.93 214.66,125 215.29,123.93 215.92,122.72 216.55,121.36 217.18,119.84 217.81,118.16 218.44,116.31 219.07,114.31 219.7,112.14 220.33,109.82 220.96,107.35 221.59,104.74 222.22,102.01 222.85,99.17 223.48,96.24 224.11,93.24 224.74,90.2 225.37,87.13 226,84.07 226.63,81.04 227.26,78.08 227.89,75.22 228.52,72.48 229.15,69.9 229.78,67.51 230.41,65.34 231.04,63.41 231.67,61.77 232.3,60.43 232.93,59.42 233.56,58.75 234.19,58.44 234.82,58.52 235.45,58.98 236.08,59.83 236.71,61.23 237.34,63.34 237.97,66.13 238.6,69.57 239.23,73.64 239.86,78.26 240.49,83.41 241.12,89 241.75,94.96 242.38,101.24 243.01,107.75 243.64,114.43 244.27,121.18 244.9,127.96 245.53,134.69 246.16,141.3 246.79,147.75 247.42,153.99 248.05,159.97 248.68,165.67 249.31,171.05 249.94,176.1 250.57,180.8 251.2,185.15 251.83,189.14 252.46,192.79 253.09,196.1 253.72,199.08 254.35,201.76 254.98,204.14 255.61,206.25 256.24,208.11 256.87,209.74 257.5,211.16" fill="none" stroke="#808010" stroke-width="1.6" stroke-linejoin="round"/>
<path d="M37,216.76 37.63,216.82 38.26,216.88 38.89,216.93 39.52,216.98 40.15,217.04 40.78,217.09 41.41,217.14 42.04,217.19 42.67,217.24 43.3,217.28 43.93,217.33 44.56,217.38 45.19,217.42 45.82,217.47 46.45,217.51 47.08,217.55 47.71,217.59 48.34,217.63 48.97,217.67 49.6,217.71 50.23,217.75 50.86,217.79 51.49,217.83 52.12,217.86 52.75,217.9 53.38,217.93 54.01,217.96 54.64,218 55.27,218.03 55.9,218.06 56.53,218.09 57.16,218.12 57.79,218.15 58.42,218.17 59.05,218.2 59.68,218.23 60.31,218.25 60.94,218.28 61.57,218.3 62.2,218.33 62.83,218.35 63.46,218.37 64.09,218.39 64.72,218.41 65.35,218.43 65.98,218.45 66.61,218.47 67.24,218.49 67.87,218.5 68.5,218.52 69.13,218.54 69.76,218.55 70.39,218.57 71.02,218.58 71.65,218.59 72.28,218.61 72.91,218.62 73.54,218.63 74.17,218.64 74.8,218.65 75.43,218.66 76.06,218.67 76.69,218.68 77.32,218.69 77.95,218.69 78.58,218.7 79.21,218.71 79.84,218.71 80.47,218.72 81.1,218.72 81.73,218.72 82.36,218.73 82.99,218.73 83.62,218.73 84.25,218.73 84.88,218.73 85.51,218.74 86.14,218.73 86.77,218.73 87.4,218.73 88.03,218.73 88.66,218.72 89.29,218.71 89.92,218.7 90.55,218.69 91.18,218.67 91.81,218.65 92.44,218.62 93.07,218.6 93.7,218.57 94.33,218.54 94.96,218.51 95.59,218.47 96.22,218.43 96.85,218.39 97.48,218.35 98.11,218.31 98.74,218.26 99.37,218.21 100,218.16 100.63,218.11 101.26,218.06 101.89,218 102.52,217.94 103.15,217.88 103.78,217.82 104.41,217.76 105.04,217.69 105.67,217.63 106.3,217.56 106.93,217.49 107.56,217.42 108.19,217.35 108.82,217.28 109.45,217.2 110.08,217.13 110.71,217.05 111.34,216.97 111.97,216.89 112.6,216.81 113.23,216.72 113.86,216.64 114.49,216.55 115.12,216.46 115.75,216.37 116.38,216.28 117.01,216.19 117.64,216.09 118.27,216 118.9,215.9 119.53,215.8 120.16,215.7 120.79,215.59 121.42,215.49 122.05,215.38 122.68,215.27 123.31,215.16 123.94,215.04 124.57,214.93 125.2,214.81 125.83,214.69 126.46,214.57 127.09,214.44 127.72,214.31 128.35,214.18 128.98,214.05 129.61,213.91 130.24,213.77 130.87,213.63 131.5,213.48 132.13,213.33 132.76,213.18 133.39,213.02 134.02,212.86 134.65,212.7 135.28,212.52 135.91,212.35 136.54,212.16 137.17,211.98 137.8,211.78 138.43,211.58 139.06,211.38 139.69,211.17 140.32,210.95 140.95,210.72 141.58,210.49 142.21,210.26 142.84,210.01 143.47,209.76 144.1,209.5 144.73,209.24 145.36,208.97 145.99,208.69 146.62,208.4 147.25,208.11 147.88,207.81 148.51,207.5 149.14,207.19 149.77,206.86 150.4,206.53 151.03,206.2 151.66,205.85 152.29,205.5 152.92,205.14 153.55,204.78 154.18,204.41 154.81,204.03 155.44,203.64 156.07,203.25 156.7,202.84 157.33,202.44 157.96,202.02 158.59,201.6 159.22,201.17 159.85,200.73 160.48,200.29 161.11,199.83 161.74,199.37 162.37,198.9 163,198.43 163.63,197.94 164.26,197.44 164.89,196.93 165.52,196.41 166.15,195.88 166.78,195.34 167.41,194.78 168.04,194.2 168.67,193.62 169.3,193.01 169.93,192.38 170.56,191.74 171.19,191.07 171.82,190.38 172.45,189.67 173.08,188.93 173.71,188.16 174.34,187.36 174.97,186.53 175.6,185.66 176.23,184.76 176.86,183.82 177.49,182.84 178.12,181.83 178.75,180.77 179.38,179.66 180.01,178.52 180.64,177.33 181.27,176.09 181.9,174.81 182.53,173.48 183.16,172.11 183.79,170.71 184.42,169.27 185.05,167.79 185.68,166.28 186.31,164.73 186.94,163.16 187.57,161.57 188.2,159.95 188.83,158.32 189.46,156.68 190.09,155.03 190.72,153.37 191.35,151.72 191.98,150.07 192.61,148.44 193.24,146.82 193.87,145.23 194.5,143.67 195.13,142.15 195.76,140.67 196.39,139.24 197.02,137.87 197.65,136.56 198.28,135.32 198.91,134.15 199.54,133.06 200.17,132.05 200.8,131.13 201.43,130.29 202.06,129.55 202.69,128.89 203.32,128.33 203.95,127.86 204.58,127.47 205.21,127.17 205.84,126.95 206.47,126.77 207.1,126.62 207.73,126.48 208.36,126.34 208.99,126.19 209.62,126.02 210.25,125.82 210.88,125.59 211.51,125.29 212.14,124.93 212.77,124.49 213.4,123.97 214.03,123.34 214.66,122.6 215.29,121.73 215.92,120.74 216.55,119.61 217.18,118.33 217.81,116.91 218.44,115.33 219.07,113.6 219.7,111.73 220.33,109.71 220.96,107.55 221.59,105.26 222.22,102.85 222.85,100.34 223.48,97.75 224.11,95.09 224.74,92.38 225.37,89.65 226,86.92 226.63,84.22 227.26,81.58 227.89,79.03 228.52,76.59 229.15,74.3 229.78,72.19 230.41,70.28 231.04,68.6 231.67,67.19 232.3,66.05 232.93,65.22 233.56,64.71 234.19,64.55 234.82,64.74 235.45,65.29 236.08,66.21 236.71,67.64 237.34,69.74 237.97,72.49 238.6,75.85 239.23,79.8 239.86,84.28 240.49,89.24 241.12,94.62 241.75,100.36 242.38,106.39 243.01,112.64 243.64,119.03 244.27,125.51 244.9,132 245.53,138.43 246.16,144.76 246.79,150.94 247.42,156.9 248.05,162.62 248.68,168.06 249.31,173.21 249.94,178.03 250.57,182.52 251.2,186.67 251.83,190.49 252.46,193.98 253.09,197.14 253.72,199.99 254.35,202.54 254.98,204.82 255.61,206.83 256.24,208.61 256.87,210.17 257.5,211.53" fill="none" stroke="#801080" stroke-width="1.6" stroke-linejoin="round"/>
<line x1="43.5" y1="45.2" x2="103.7" y2="45.2" stroke="#888" stroke-width="1"/>
<line x1="103.7" y1="45.2" x2="103.7" y2="151.7" stroke="#888" stroke-width="1"/>
<line x1="43.5" y1="151.7" x2="103.7" y2="151.7" stroke="#888" stroke-width="1"/>
<line x1="43.5" y1="45.2" x2="43.5" y2="151.7" stroke="#888" stroke-width="1"/>
<line x1="49" y1="54" x2="69.7" y2="54" stroke="#000000" stroke-width="1.8"/>
<text transform="translate(71.75,57) scale(0.9200,1)" font-size="9.400" font-weight="normal" fill="#222">MB</text>
<line x1="49" y1="67" x2="69.7" y2="67" stroke="#F5862C" stroke-width="1.8"/>
<text transform="translate(71.6,70.3) scale(0.9618,1)" font-size="10.200" font-weight="normal" fill="#222">C</text>
<text transform="translate(77.04,73.84) scale(1.1543,1)" font-size="5.928" font-weight="normal" fill="#444">0</text>
<line x1="49" y1="82.8" x2="69.7" y2="82.8" stroke="#35EEEE" stroke-width="1.8"/>
<text transform="translate(71.62,85.8) scale(0.9200,1)" font-size="9.400" font-weight="normal" fill="#222">20 min</text>
<line x1="49" y1="95.2" x2="69.7" y2="95.2" stroke="#12128A" stroke-width="1.8"/>
<text transform="translate(71.83,98.2) scale(0.9200,1)" font-size="9.400" font-weight="normal" fill="#222">40 min</text>
<line x1="49" y1="107.8" x2="69.7" y2="107.8" stroke="#EE1515" stroke-width="1.8"/>
<text transform="translate(71.63,110.8) scale(0.9200,1)" font-size="9.400" font-weight="normal" fill="#222">60 min</text>
<line x1="49" y1="120.3" x2="69.7" y2="120.3" stroke="#FFF200" stroke-width="1.8"/>
<text transform="translate(71.67,123.3) scale(0.9200,1)" font-size="9.400" font-weight="normal" fill="#222">80 min</text>
<line x1="49" y1="133.1" x2="69.7" y2="133.1" stroke="#808010" stroke-width="1.8"/>
<text transform="translate(71.24,136.1) scale(0.9200,1)" font-size="9.400" font-weight="normal" fill="#222">100 min</text>
<line x1="49" y1="145.6" x2="69.7" y2="145.6" stroke="#801080" stroke-width="1.8"/>
<text transform="translate(71.24,148.6) scale(0.9200,1)" font-size="9.400" font-weight="normal" fill="#222">120 min</text>
<rect x="37" y="5.5" width="252" height="218.7" fill="none" stroke="#000" stroke-width="2.2"/>
<line x1="37" y1="224.2" x2="37" y2="229.7" stroke="#000" stroke-width="2.2"/>
<text transform="translate(28.96,240.5) scale(0.8300,1)" font-size="12.300" font-weight="bold" fill="#000">350</text>
<line x1="52.75" y1="224.2" x2="52.75" y2="228.2" stroke="#000" stroke-width="2.2"/>
<line x1="68.5" y1="224.2" x2="68.5" y2="229.7" stroke="#000" stroke-width="2.2"/>
<text transform="translate(60.83,240.5) scale(0.8300,1)" font-size="12.300" font-weight="bold" fill="#000">400</text>
<line x1="84.25" y1="224.2" x2="84.25" y2="228.2" stroke="#000" stroke-width="2.2"/>
<line x1="100" y1="224.2" x2="100" y2="229.7" stroke="#000" stroke-width="2.2"/>
<text transform="translate(92.33,240.5) scale(0.8300,1)" font-size="12.300" font-weight="bold" fill="#000">450</text>
<line x1="115.75" y1="224.2" x2="115.75" y2="228.2" stroke="#000" stroke-width="2.2"/>
<line x1="131.5" y1="224.2" x2="131.5" y2="229.7" stroke="#000" stroke-width="2.2"/>
<text transform="translate(123.42,240.5) scale(0.8300,1)" font-size="12.300" font-weight="bold" fill="#000">500</text>
<line x1="147.25" y1="224.2" x2="147.25" y2="228.2" stroke="#000" stroke-width="2.2"/>
<line x1="163" y1="224.2" x2="163" y2="229.7" stroke="#000" stroke-width="2.2"/>
<text transform="translate(154.92,240.5) scale(0.8300,1)" font-size="12.300" font-weight="bold" fill="#000">550</text>
<line x1="178.75" y1="224.2" x2="178.75" y2="228.2" stroke="#000" stroke-width="2.2"/>
<line x1="194.5" y1="224.2" x2="194.5" y2="229.7" stroke="#000" stroke-width="2.2"/>
<text transform="translate(186.51,240.5) scale(0.8300,1)" font-size="12.300" font-weight="bold" fill="#000">600</text>
<line x1="210.25" y1="224.2" x2="210.25" y2="228.2" stroke="#000" stroke-width="2.2"/>
<line x1="226" y1="224.2" x2="226" y2="229.7" stroke="#000" stroke-width="2.2"/>
<text transform="translate(218.01,240.5) scale(0.8300,1)" font-size="12.300" font-weight="bold" fill="#000">650</text>
<line x1="241.75" y1="224.2" x2="241.75" y2="228.2" stroke="#000" stroke-width="2.2"/>
<line x1="257.5" y1="224.2" x2="257.5" y2="229.7" stroke="#000" stroke-width="2.2"/>
<text transform="translate(249.16,240.5) scale(0.8300,1)" font-size="12.300" font-weight="bold" fill="#000">700</text>
<line x1="273.25" y1="224.2" x2="273.25" y2="228.2" stroke="#000" stroke-width="2.2"/>
<line x1="289" y1="224.2" x2="289" y2="229.7" stroke="#000" stroke-width="2.2"/>
<text transform="translate(280.66,240.5) scale(0.8300,1)" font-size="12.300" font-weight="bold" fill="#000">750</text>
<line x1="31.5" y1="224.2" x2="37" y2="224.2" stroke="#000" stroke-width="2.2"/>
<text transform="translate(18.23,227.7) scale(0.8300,1)" font-size="12.300" font-weight="bold" fill="#000">0.0</text>
<line x1="33" y1="202.33" x2="37" y2="202.33" stroke="#000" stroke-width="2.2"/>
<line x1="31.5" y1="180.46" x2="37" y2="180.46" stroke="#000" stroke-width="2.2"/>
<text transform="translate(18.28,183.96) scale(0.8300,1)" font-size="12.300" font-weight="bold" fill="#000">0.2</text>
<line x1="33" y1="158.59" x2="37" y2="158.59" stroke="#000" stroke-width="2.2"/>
<line x1="31.5" y1="136.72" x2="37" y2="136.72" stroke="#000" stroke-width="2.2"/>
<text transform="translate(18.03,140.22) scale(0.8300,1)" font-size="12.300" font-weight="bold" fill="#000">0.4</text>
<line x1="33" y1="114.85" x2="37" y2="114.85" stroke="#000" stroke-width="2.2"/>
<line x1="31.5" y1="92.98" x2="37" y2="92.98" stroke="#000" stroke-width="2.2"/>
<text transform="translate(18.14,96.48) scale(0.8300,1)" font-size="12.300" font-weight="bold" fill="#000">0.6</text>
<line x1="33" y1="71.11" x2="37" y2="71.11" stroke="#000" stroke-width="2.2"/>
<line x1="31.5" y1="49.24" x2="37" y2="49.24" stroke="#000" stroke-width="2.2"/>
<text transform="translate(18.18,52.74) scale(0.8300,1)" font-size="12.300" font-weight="bold" fill="#000">0.8</text>
<line x1="33" y1="27.37" x2="37" y2="27.37" stroke="#000" stroke-width="2.2"/>
<line x1="31.5" y1="5.5" x2="37" y2="5.5" stroke="#000" stroke-width="2.2"/>
<text transform="translate(18.23,9) scale(0.8300,1)" font-size="12.300" font-weight="bold" fill="#000">1.0</text>
<text transform="translate(46.83,30.32) scale(1.0421,1)" font-size="23.381" font-weight="normal" fill="#000">(a)</text>
<text transform="translate(123.04,260) scale(0.8709,1)" font-size="12.672" font-weight="bold" fill="#000">Wavelength (nm)</text>
<text transform="translate(9.9,155.13) rotate(-90) scale(1.0053,0.8000)" font-size="13.200" font-weight="bold" fill="#000">Absorbance (a.u)</text>
<path d="M339.8,218.44 340.43,218.52 341.06,218.6 341.69,218.67 342.32,218.75 342.95,218.82 343.58,218.9 344.21,218.97 344.84,219.04 345.47,219.11 346.11,219.18 346.74,219.24 347.37,219.31 348,219.38 348.63,219.44 349.26,219.5 349.89,219.57 350.52,219.63 351.15,219.69 351.78,219.74 352.41,219.8 353.04,219.86 353.67,219.91 354.3,219.97 354.93,220.02 355.56,220.07 356.19,220.12 356.82,220.17 357.45,220.22 358.08,220.27 358.72,220.32 359.35,220.36 359.98,220.41 360.61,220.45 361.24,220.5 361.87,220.54 362.5,220.58 363.13,220.62 363.76,220.66 364.39,220.69 365.02,220.73 365.65,220.77 366.28,220.8 366.91,220.84 367.54,220.87 368.17,220.9 368.8,220.93 369.43,220.96 370.06,220.99 370.69,221.02 371.32,221.04 371.96,221.07 372.59,221.1 373.22,221.12 373.85,221.14 374.48,221.16 375.11,221.19 375.74,221.21 376.37,221.23 377,221.24 377.63,221.26 378.26,221.28 378.89,221.29 379.52,221.31 380.15,221.32 380.78,221.33 381.41,221.35 382.04,221.36 382.67,221.37 383.3,221.38 383.94,221.39 384.57,221.39 385.2,221.4 385.83,221.4 386.46,221.41 387.09,221.41 387.72,221.42 388.35,221.42 388.98,221.42 389.61,221.42 390.24,221.42 390.87,221.41 391.5,221.41 392.13,221.4 392.76,221.38 393.39,221.37 394.02,221.35 394.65,221.32 395.28,221.3 395.91,221.27 396.55,221.23 397.18,221.2 397.81,221.16 398.44,221.12 399.07,221.08 399.7,221.03 400.33,220.98 400.96,220.93 401.59,220.88 402.22,220.82 402.85,220.77 403.48,220.71 404.11,220.65 404.74,220.58 405.37,220.52 406,220.45 406.63,220.38 407.26,220.31 407.89,220.24 408.52,220.17 409.15,220.09 409.79,220.02 410.42,219.94 411.05,219.86 411.68,219.78 412.31,219.69 412.94,219.61 413.57,219.52 414.2,219.44 414.83,219.35 415.46,219.26 416.09,219.17 416.72,219.08 417.35,218.99 417.98,218.89 418.61,218.79 419.24,218.7 419.87,218.6 420.5,218.5 421.13,218.4 421.76,218.3 422.4,218.19 423.03,218.09 423.66,217.98 424.29,217.87 424.92,217.76 425.55,217.65 426.18,217.53 426.81,217.42 427.44,217.3 428.07,217.18 428.7,217.06 429.33,216.93 429.96,216.81 430.59,216.68 431.22,216.55 431.85,216.42 432.48,216.28 433.11,216.14 433.74,216 434.38,215.86 435.01,215.71 435.64,215.56 436.27,215.4 436.9,215.23 437.53,215.06 438.16,214.88 438.79,214.69 439.42,214.5 440.05,214.3 440.68,214.09 441.31,213.88 441.94,213.65 442.57,213.42 443.2,213.18 443.83,212.94 444.46,212.68 445.09,212.42 445.72,212.14 446.35,211.86 446.99,211.57 447.62,211.27 448.25,210.96 448.88,210.64 449.51,210.31 450.14,209.98 450.77,209.63 451.4,209.28 452.03,208.91 452.66,208.54 453.29,208.15 453.92,207.76 454.55,207.35 455.18,206.94 455.81,206.52 456.44,206.09 457.07,205.65 457.7,205.2 458.33,204.74 458.96,204.28 459.6,203.8 460.23,203.31 460.86,202.82 461.49,202.32 462.12,201.81 462.75,201.29 463.38,200.76 464.01,200.23 464.64,199.68 465.27,199.13 465.9,198.57 466.53,198 467.16,197.42 467.79,196.83 468.42,196.23 469.05,195.62 469.68,195 470.31,194.37 470.94,193.73 471.57,193.07 472.21,192.41 472.84,191.73 473.47,191.03 474.1,190.32 474.73,189.59 475.36,188.84 475.99,188.08 476.62,187.29 477.25,186.47 477.88,185.64 478.51,184.78 479.14,183.89 479.77,182.97 480.4,182.01 481.03,181.03 481.66,180.01 482.29,178.95 482.92,177.86 483.55,176.72 484.18,175.55 484.81,174.33 485.45,173.06 486.08,171.73 486.71,170.34 487.34,168.88 487.97,167.36 488.6,165.78 489.23,164.14 489.86,162.43 490.49,160.66 491.12,158.83 491.75,156.95 492.38,155.02 493.01,153.05 493.64,151.05 494.27,149.02 494.9,146.97 495.53,144.91 496.16,142.86 496.79,140.83 497.43,138.83 498.06,136.86 498.69,134.95 499.32,133.11 499.95,131.35 500.58,129.67 501.21,128.09 501.84,126.62 502.47,125.25 503.1,124.01 503.73,122.89 504.36,121.89 504.99,121.01 505.62,120.25 506.25,119.61 506.88,119.07 507.51,118.64 508.14,118.3 508.77,118.04 509.4,117.83 510.03,117.63 510.67,117.43 511.3,117.22 511.93,117 512.56,116.73 513.19,116.43 513.82,116.06 514.45,115.62 515.08,115.09 515.71,114.46 516.34,113.71 516.97,112.83 517.6,111.82 518.23,110.65 518.86,109.33 519.49,107.83 520.12,106.16 520.75,104.31 521.38,102.27 522.01,100.06 522.64,97.66 523.28,95.09 523.91,92.36 524.54,89.47 525.17,86.45 525.8,83.3 526.43,80.05 527.06,76.72 527.69,73.34 528.32,69.93 528.95,66.53 529.58,63.17 530.21,59.88 530.84,56.7 531.47,53.66 532.1,50.8 532.73,48.15 533.36,45.74 533.99,43.62 534.62,41.8 535.25,40.32 535.89,39.21 536.52,38.49 537.15,38.17 537.78,38.28 538.41,38.82 539.04,39.8 539.67,41.4 540.3,43.79 540.93,46.94 541.56,50.83 542.19,55.41 542.82,60.62 543.45,66.41 544.08,72.71 544.71,79.43 545.34,86.49 545.97,93.82 546.6,101.32 547.23,108.92 547.87,116.54 548.5,124.11 549.13,131.55 549.76,138.8 550.39,145.81 551.02,152.54 551.65,158.94 552.28,164.99 552.91,170.67 553.54,175.95 554.17,180.84 554.8,185.33 555.43,189.43 556.06,193.15 556.69,196.5 557.32,199.51 557.95,202.19 558.58,204.56 559.21,206.65 559.84,208.48 560.48,210.08" fill="none" stroke="#000000" stroke-width="1.6" stroke-linejoin="round"/>
<path d="M339.8,218.44 340.43,218.52 341.06,218.6 341.69,218.69 342.32,218.77 342.95,218.85 343.58,218.92 344.21,219 344.84,219.08 345.47,219.15 346.11,219.23 346.74,219.3 347.37,219.37 348,219.44 348.63,219.51 349.26,219.58 349.89,219.65 350.52,219.72 351.15,219.78 351.78,219.85 352.41,219.91 353.04,219.97 353.67,220.04 354.3,220.1 354.93,220.16 355.56,220.22 356.19,220.27 356.82,220.33 357.45,220.39 358.08,220.44 358.72,220.5 359.35,220.55 359.98,220.6 360.61,220.65 361.24,220.7 361.87,220.75 362.5,220.8 363.13,220.84 363.76,220.89 364.39,220.93 365.02,220.98 365.65,221.02 366.28,221.06 366.91,221.1 367.54,221.14 368.17,221.18 368.8,221.21 369.43,221.25 370.06,221.28 370.69,221.32 371.32,221.35 371.96,221.38 372.59,221.41 373.22,221.44 373.85,221.47 374.48,221.5 375.11,221.53 375.74,221.55 376.37,221.57 377,221.6 377.63,221.62 378.26,221.64 378.89,221.66 379.52,221.68 380.15,221.7 380.78,221.71 381.41,221.73 382.04,221.74 382.67,221.75 383.3,221.77 383.94,221.78 384.57,221.79 385.2,221.79 385.83,221.8 386.46,221.81 387.09,221.81 387.72,221.81 388.35,221.82 388.98,221.82 389.61,221.82 390.24,221.81 390.87,221.81 391.5,221.8 392.13,221.79 392.76,221.78 393.39,221.76 394.02,221.75 394.65,221.72 395.28,221.7 395.91,221.67 396.55,221.64 397.18,221.61 397.81,221.58 398.44,221.54 399.07,221.5 399.7,221.46 400.33,221.42 400.96,221.37 401.59,221.32 402.22,221.27 402.85,221.22 403.48,221.17 404.11,221.11 404.74,221.05 405.37,220.99 406,220.93 406.63,220.86 407.26,220.8 407.89,220.73 408.52,220.66 409.15,220.59 409.79,220.51 410.42,220.44 411.05,220.36 411.68,220.28 412.31,220.2 412.94,220.12 413.57,220.03 414.2,219.95 414.83,219.86 415.46,219.77 416.09,219.68 416.72,219.58 417.35,219.49 417.98,219.39 418.61,219.29 419.24,219.18 419.87,219.08 420.5,218.97 421.13,218.86 421.76,218.75 422.4,218.63 423.03,218.51 423.66,218.39 424.29,218.27 424.92,218.15 425.55,218.02 426.18,217.89 426.81,217.75 427.44,217.61 428.07,217.47 428.7,217.33 429.33,217.18 429.96,217.03 430.59,216.87 431.22,216.71 431.85,216.55 432.48,216.38 433.11,216.21 433.74,216.04 434.38,215.86 435.01,215.67 435.64,215.48 436.27,215.28 436.9,215.07 437.53,214.86 438.16,214.64 438.79,214.41 439.42,214.17 440.05,213.92 440.68,213.66 441.31,213.4 441.94,213.13 442.57,212.85 443.2,212.55 443.83,212.25 444.46,211.95 445.09,211.63 445.72,211.3 446.35,210.97 446.99,210.62 447.62,210.27 448.25,209.9 448.88,209.53 449.51,209.15 450.14,208.75 450.77,208.35 451.4,207.94 452.03,207.52 452.66,207.1 453.29,206.66 453.92,206.21 454.55,205.76 455.18,205.29 455.81,204.82 456.44,204.34 457.07,203.85 457.7,203.35 458.33,202.84 458.96,202.33 459.6,201.8 460.23,201.27 460.86,200.72 461.49,200.17 462.12,199.61 462.75,199.04 463.38,198.46 464.01,197.87 464.64,197.26 465.27,196.65 465.9,196.02 466.53,195.38 467.16,194.73 467.79,194.06 468.42,193.38 469.05,192.68 469.68,191.96 470.31,191.22 470.94,190.46 471.57,189.67 472.21,188.86 472.84,188.03 473.47,187.16 474.1,186.26 474.73,185.33 475.36,184.37 475.99,183.37 476.62,182.32 477.25,181.24 477.88,180.11 478.51,178.94 479.14,177.71 479.77,176.44 480.4,175.11 481.03,173.73 481.66,172.3 482.29,170.8 482.92,169.26 483.55,167.65 484.18,165.99 484.81,164.28 485.45,162.52 486.08,160.72 486.71,158.9 487.34,157.05 487.97,155.18 488.6,153.29 489.23,151.39 489.86,149.47 490.49,147.56 491.12,145.64 491.75,143.72 492.38,141.81 493.01,139.91 493.64,138.03 494.27,136.16 494.9,134.32 495.53,132.51 496.16,130.72 496.79,128.97 497.43,127.26 498.06,125.59 498.69,123.98 499.32,122.41 499.95,120.9 500.58,119.46 501.21,118.08 501.84,116.78 502.47,115.55 503.1,114.41 503.73,113.36 504.36,112.39 504.99,111.53 505.62,110.76 506.25,110.09 506.88,109.53 507.51,109.07 508.14,108.72 508.77,108.46 509.4,108.27 510.03,108.11 510.67,107.97 511.3,107.85 511.93,107.72 512.56,107.59 513.19,107.42 513.82,107.22 514.45,106.96 515.08,106.64 515.71,106.24 516.34,105.74 516.97,105.13 517.6,104.4 518.23,103.54 518.86,102.53 519.49,101.38 520.12,100.06 520.75,98.58 521.38,96.94 522.01,95.13 522.64,93.14 523.28,91 523.91,88.7 524.54,86.26 525.17,83.68 525.8,80.99 526.43,78.2 527.06,75.33 527.69,72.41 528.32,69.46 528.95,66.52 529.58,63.6 530.21,60.75 530.84,57.99 531.47,55.37 532.1,52.9 532.73,50.63 533.36,48.59 533.99,46.81 534.62,45.32 535.25,44.14 535.89,43.31 536.52,42.83 537.15,42.74 537.78,43.04 538.41,43.75 539.04,44.88 539.67,46.58 540.3,49.03 540.93,52.21 541.56,56.08 542.19,60.61 542.82,65.73 543.45,71.4 544.08,77.55 544.71,84.09 545.34,90.96 545.97,98.07 546.6,105.35 547.23,112.71 547.87,120.09 548.5,127.41 549.13,134.6 549.76,141.61 550.39,148.38 551.02,154.88 551.65,161.06 552.28,166.89 552.91,172.37 553.54,177.47 554.17,182.18 554.8,186.52 555.43,190.47 556.06,194.06 556.69,197.3 557.32,200.19 557.95,202.78 558.58,205.07 559.21,207.09 559.84,208.85 560.48,210.4" fill="none" stroke="#F5862C" stroke-width="1.6" stroke-linejoin="round"/>
<path d="M339.8,218.84 340.43,218.91 341.06,218.99 341.69,219.07 342.32,219.14 342.95,219.21 343.58,219.29 344.21,219.36 344.84,219.43 345.47,219.5 346.11,219.56 346.74,219.63 347.37,219.7 348,219.76 348.63,219.83 349.26,219.89 349.89,219.95 350.52,220.01 351.15,220.07 351.78,220.13 352.41,220.19 353.04,220.24 353.67,220.3 354.3,220.35 354.93,220.41 355.56,220.46 356.19,220.51 356.82,220.56 357.45,220.61 358.08,220.66 358.72,220.7 359.35,220.75 359.98,220.8 360.61,220.84 361.24,220.88 361.87,220.93 362.5,220.97 363.13,221.01 363.76,221.05 364.39,221.08 365.02,221.12 365.65,221.16 366.28,221.19 366.91,221.23 367.54,221.26 368.17,221.29 368.8,221.32 369.43,221.35 370.06,221.38 370.69,221.41 371.32,221.44 371.96,221.47 372.59,221.49 373.22,221.52 373.85,221.54 374.48,221.56 375.11,221.59 375.74,221.61 376.37,221.63 377,221.64 377.63,221.66 378.26,221.68 378.89,221.7 379.52,221.71 380.15,221.72 380.78,221.74 381.41,221.75 382.04,221.76 382.67,221.77 383.3,221.78 383.94,221.79 384.57,221.8 385.2,221.8 385.83,221.81 386.46,221.81 387.09,221.81 387.72,221.82 388.35,221.82 388.98,221.82 389.61,221.82 390.24,221.81 390.87,221.81 391.5,221.8 392.13,221.79 392.76,221.78 393.39,221.76 394.02,221.74 394.65,221.71 395.28,221.69 395.91,221.66 396.55,221.63 397.18,221.59 397.81,221.55 398.44,221.51 399.07,221.47 399.7,221.42 400.33,221.37 400.96,221.32 401.59,221.27 402.22,221.21 402.85,221.16 403.48,221.1 404.11,221.03 404.74,220.97 405.37,220.9 406,220.83 406.63,220.76 407.26,220.69 407.89,220.62 408.52,220.54 409.15,220.46 409.79,220.38 410.42,220.3 411.05,220.21 411.68,220.13 412.31,220.04 412.94,219.95 413.57,219.85 414.2,219.76 414.83,219.66 415.46,219.56 416.09,219.46 416.72,219.36 417.35,219.26 417.98,219.15 418.61,219.04 419.24,218.93 419.87,218.82 420.5,218.7 421.13,218.59 421.76,218.47 422.4,218.34 423.03,218.22 423.66,218.09 424.29,217.96 424.92,217.83 425.55,217.69 426.18,217.55 426.81,217.41 427.44,217.27 428.07,217.12 428.7,216.97 429.33,216.82 429.96,216.66 430.59,216.5 431.22,216.34 431.85,216.17 432.48,216 433.11,215.82 433.74,215.64 434.38,215.46 435.01,215.27 435.64,215.08 436.27,214.88 436.9,214.67 437.53,214.45 438.16,214.23 438.79,213.99 439.42,213.75 440.05,213.5 440.68,213.25 441.31,212.98 441.94,212.71 442.57,212.43 443.2,212.14 443.83,211.84 444.46,211.53 445.09,211.22 445.72,210.89 446.35,210.56 446.99,210.22 447.62,209.87 448.25,209.51 448.88,209.14 449.51,208.76 450.14,208.37 450.77,207.98 451.4,207.58 452.03,207.16 452.66,206.74 453.29,206.31 453.92,205.87 454.55,205.43 455.18,204.97 455.81,204.51 456.44,204.04 457.07,203.56 457.7,203.07 458.33,202.57 458.96,202.07 459.6,201.55 460.23,201.03 460.86,200.5 461.49,199.96 462.12,199.41 462.75,198.84 463.38,198.27 464.01,197.69 464.64,197.09 465.27,196.49 465.9,195.87 466.53,195.23 467.16,194.58 467.79,193.92 468.42,193.23 469.05,192.53 469.68,191.8 470.31,191.05 470.94,190.28 471.57,189.49 472.21,188.66 472.84,187.8 473.47,186.92 474.1,185.99 474.73,185.03 475.36,184.04 475.99,183 476.62,181.91 477.25,180.78 477.88,179.61 478.51,178.38 479.14,177.1 479.77,175.77 480.4,174.38 481.03,172.94 481.66,171.43 482.29,169.88 482.92,168.26 483.55,166.59 484.18,164.86 484.81,163.07 485.45,161.25 486.08,159.4 486.71,157.54 487.34,155.67 487.97,153.79 488.6,151.91 489.23,150.03 489.86,148.16 490.49,146.3 491.12,144.45 491.75,142.61 492.38,140.8 493.01,139.01 493.64,137.24 494.27,135.5 494.9,133.79 495.53,132.1 496.16,130.46 496.79,128.85 497.43,127.27 498.06,125.74 498.69,124.25 499.32,122.81 499.95,121.42 500.58,120.08 501.21,118.8 501.84,117.58 502.47,116.43 503.1,115.36 503.73,114.35 504.36,113.44 504.99,112.6 505.62,111.86 506.25,111.21 506.88,110.66 507.51,110.21 508.14,109.87 508.77,109.62 509.4,109.44 510.03,109.29 510.67,109.17 511.3,109.07 511.93,108.97 512.56,108.86 513.19,108.73 513.82,108.57 514.45,108.36 515.08,108.08 515.71,107.74 516.34,107.3 516.97,106.77 517.6,106.12 518.23,105.35 518.86,104.44 519.49,103.39 520.12,102.18 520.75,100.83 521.38,99.31 522.01,97.63 522.64,95.79 523.28,93.8 523.91,91.65 524.54,89.37 525.17,86.96 525.8,84.44 526.43,81.83 527.06,79.14 527.69,76.39 528.32,73.62 528.95,70.86 529.58,68.12 530.21,65.44 530.84,62.85 531.47,60.38 532.1,58.07 532.73,55.95 533.36,54.04 533.99,52.38 534.62,51 535.25,49.91 535.89,49.16 536.52,48.75 537.15,48.71 537.78,49.04 538.41,49.77 539.04,50.89 539.67,52.57 540.3,54.96 540.93,58.05 541.56,61.81 542.19,66.2 542.82,71.16 543.45,76.65 544.08,82.59 544.71,88.91 545.34,95.54 545.97,102.41 546.6,109.43 547.23,116.54 547.87,123.65 548.5,130.71 549.13,137.65 549.76,144.41 550.39,150.94 551.02,157.2 551.65,163.16 552.28,168.79 552.91,174.07 553.54,178.98 554.17,183.53 554.8,187.71 555.43,191.52 556.06,194.98 556.69,198.1 557.32,200.89 557.95,203.38 558.58,205.59 559.21,207.54 559.84,209.24 560.48,210.73" fill="none" stroke="#35EEEE" stroke-width="1.6" stroke-linejoin="round"/>
<path d="M339.8,215.86 340.43,215.94 341.06,216.03 341.69,216.12 342.32,216.2 342.95,216.28 343.58,216.37 344.21,216.45 344.84,216.53 345.47,216.61 346.11,216.69 346.74,216.77 347.37,216.85 348,216.93 348.63,217.01 349.26,217.09 349.89,217.16 350.52,217.24 351.15,217.31 351.78,217.39 352.41,217.46 353.04,217.53 353.67,217.6 354.3,217.67 354.93,217.74 355.56,217.81 356.19,217.88 356.82,217.94 357.45,218.01 358.08,218.07 358.72,218.14 359.35,218.2 359.98,218.26 360.61,218.32 361.24,218.38 361.87,218.44 362.5,218.5 363.13,218.56 363.76,218.61 364.39,218.67 365.02,218.72 365.65,218.77 366.28,218.82 366.91,218.87 367.54,218.92 368.17,218.97 368.8,219.02 369.43,219.06 370.06,219.11 370.69,219.15 371.32,219.19 371.96,219.23 372.59,219.27 373.22,219.31 373.85,219.35 374.48,219.39 375.11,219.42 375.74,219.45 376.37,219.49 377,219.52 377.63,219.55 378.26,219.57 378.89,219.6 379.52,219.63 380.15,219.65 380.78,219.67 381.41,219.69 382.04,219.71 382.67,219.73 383.3,219.75 383.94,219.76 384.57,219.78 385.2,219.79 385.83,219.8 386.46,219.81 387.09,219.82 387.72,219.82 388.35,219.83 388.98,219.83 389.61,219.83 390.24,219.83 390.87,219.83 391.5,219.82 392.13,219.82 392.76,219.81 393.39,219.8 394.02,219.79 394.65,219.78 395.28,219.76 395.91,219.75 396.55,219.73 397.18,219.71 397.81,219.69 398.44,219.67 399.07,219.65 399.7,219.62 400.33,219.6 400.96,219.57 401.59,219.54 402.22,219.51 402.85,219.48 403.48,219.45 404.11,219.42 404.74,219.38 405.37,219.35 406,219.31 406.63,219.27 407.26,219.23 407.89,219.19 408.52,219.15 409.15,219.11 409.79,219.06 410.42,219.02 411.05,218.97 411.68,218.92 412.31,218.87 412.94,218.82 413.57,218.77 414.2,218.71 414.83,218.66 415.46,218.6 416.09,218.54 416.72,218.48 417.35,218.42 417.98,218.36 418.61,218.3 419.24,218.23 419.87,218.16 420.5,218.09 421.13,218.02 421.76,217.94 422.4,217.87 423.03,217.79 423.66,217.7 424.29,217.62 424.92,217.53 425.55,217.44 426.18,217.35 426.81,217.26 427.44,217.16 428.07,217.06 428.7,216.96 429.33,216.85 429.96,216.74 430.59,216.62 431.22,216.51 431.85,216.38 432.48,216.26 433.11,216.13 433.74,216 434.38,215.86 435.01,215.72 435.64,215.57 436.27,215.41 436.9,215.25 437.53,215.09 438.16,214.92 438.79,214.74 439.42,214.55 440.05,214.36 440.68,214.16 441.31,213.96 441.94,213.74 442.57,213.52 443.2,213.3 443.83,213.06 444.46,212.82 445.09,212.57 445.72,212.31 446.35,212.04 446.99,211.77 447.62,211.48 448.25,211.19 448.88,210.89 449.51,210.58 450.14,210.26 450.77,209.94 451.4,209.6 452.03,209.26 452.66,208.91 453.29,208.55 453.92,208.18 454.55,207.8 455.18,207.42 455.81,207.02 456.44,206.62 457.07,206.21 457.7,205.79 458.33,205.37 458.96,204.93 459.6,204.49 460.23,204.04 460.86,203.58 461.49,203.12 462.12,202.64 462.75,202.16 463.38,201.67 464.01,201.17 464.64,200.67 465.27,200.16 465.9,199.64 466.53,199.11 467.16,198.57 467.79,198.02 468.42,197.47 469.05,196.9 469.68,196.32 470.31,195.74 470.94,195.14 471.57,194.53 472.21,193.9 472.84,193.26 473.47,192.61 474.1,191.94 474.73,191.25 475.36,190.55 475.99,189.82 476.62,189.07 477.25,188.3 477.88,187.51 478.51,186.68 479.14,185.83 479.77,184.95 480.4,184.04 481.03,183.09 481.66,182.11 482.29,181.1 482.92,180.05 483.55,178.95 484.18,177.82 484.81,176.65 485.45,175.43 486.08,174.16 486.71,172.84 487.34,171.47 487.97,170.05 488.6,168.57 489.23,167.05 489.86,165.48 490.49,163.86 491.12,162.2 491.75,160.51 492.38,158.77 493.01,157.02 493.64,155.24 494.27,153.44 494.9,151.64 495.53,149.84 496.16,148.05 496.79,146.28 497.43,144.54 498.06,142.83 498.69,141.18 499.32,139.58 499.95,138.06 500.58,136.6 501.21,135.23 501.84,133.95 502.47,132.76 503.1,131.67 503.73,130.68 504.36,129.8 504.99,129.01 505.62,128.34 506.25,127.76 506.88,127.27 507.51,126.88 508.14,126.57 508.77,126.34 509.4,126.14 510.03,125.96 510.67,125.78 511.3,125.6 511.93,125.4 512.56,125.16 513.19,124.89 513.82,124.56 514.45,124.17 515.08,123.69 515.71,123.13 516.34,122.46 516.97,121.67 517.6,120.76 518.23,119.71 518.86,118.51 519.49,117.16 520.12,115.65 520.75,113.98 521.38,112.14 522.01,110.13 522.64,107.97 523.28,105.64 523.91,103.16 524.54,100.55 525.17,97.8 525.8,94.95 526.43,92 527.06,88.98 527.69,85.92 528.32,82.83 528.95,79.74 529.58,76.69 530.21,73.71 530.84,70.82 531.47,68.06 532.1,65.47 532.73,63.06 533.36,60.88 533.99,58.96 534.62,57.32 535.25,55.98 535.89,54.98 536.52,54.33 537.15,54.05 537.78,54.16 538.41,54.66 539.04,55.57 539.67,57.03 540.3,59.22 540.93,62.1 541.56,65.65 542.19,69.83 542.82,74.6 543.45,79.88 544.08,85.62 544.71,91.76 545.34,98.2 545.97,104.89 546.6,111.73 547.23,118.67 547.87,125.62 548.5,132.52 549.13,139.3 549.76,145.92 550.39,152.32 551.02,158.45 551.65,164.29 552.28,169.81 552.91,174.99 553.54,179.81 554.17,184.27 554.8,188.36 555.43,192.1 556.06,195.49 556.69,198.55 557.32,201.3 557.95,203.74 558.58,205.9 559.21,207.81 559.84,209.48 560.48,210.94" fill="none" stroke="#12128A" stroke-width="1.6" stroke-linejoin="round"/>
<path d="M339.8,218.44 340.43,218.52 341.06,218.6 341.69,218.68 342.32,218.76 342.95,218.83 343.58,218.91 344.21,218.98 344.84,219.05 345.47,219.13 346.11,219.2 346.74,219.26 347.37,219.33 348,219.4 348.63,219.46 349.26,219.53 349.89,219.59 350.52,219.65 351.15,219.71 351.78,219.77 352.41,219.83 353.04,219.89 353.67,219.94 354.3,220 354.93,220.05 355.56,220.1 356.19,220.15 356.82,220.2 357.45,220.25 358.08,220.3 358.72,220.35 359.35,220.39 359.98,220.44 360.61,220.48 361.24,220.52 361.87,220.56 362.5,220.6 363.13,220.64 363.76,220.68 364.39,220.72 365.02,220.76 365.65,220.79 366.28,220.82 366.91,220.86 367.54,220.89 368.17,220.92 368.8,220.95 369.43,220.98 370.06,221.01 370.69,221.03 371.32,221.06 371.96,221.09 372.59,221.11 373.22,221.13 373.85,221.15 374.48,221.18 375.11,221.2 375.74,221.22 376.37,221.23 377,221.25 377.63,221.27 378.26,221.28 378.89,221.3 379.52,221.31 380.15,221.33 380.78,221.34 381.41,221.35 382.04,221.36 382.67,221.37 383.3,221.38 383.94,221.39 384.57,221.39 385.2,221.4 385.83,221.4 386.46,221.41 387.09,221.41 387.72,221.42 388.35,221.42 388.98,221.42 389.61,221.42 390.24,221.42 390.87,221.41 391.5,221.41 392.13,221.4 392.76,221.38 393.39,221.36 394.02,221.34 394.65,221.31 395.28,221.29 395.91,221.25 396.55,221.22 397.18,221.18 397.81,221.14 398.44,221.09 399.07,221.05 399.7,221 400.33,220.95 400.96,220.89 401.59,220.83 402.22,220.77 402.85,220.71 403.48,220.65 404.11,220.58 404.74,220.51 405.37,220.44 406,220.37 406.63,220.3 407.26,220.22 407.89,220.15 408.52,220.07 409.15,219.99 409.79,219.91 410.42,219.82 411.05,219.74 411.68,219.65 412.31,219.57 412.94,219.48 413.57,219.39 414.2,219.3 414.83,219.21 415.46,219.11 416.09,219.02 416.72,218.92 417.35,218.83 417.98,218.73 418.61,218.64 419.24,218.54 419.87,218.44 420.5,218.34 421.13,218.24 421.76,218.13 422.4,218.03 423.03,217.93 423.66,217.82 424.29,217.72 424.92,217.61 425.55,217.5 426.18,217.39 426.81,217.28 427.44,217.17 428.07,217.06 428.7,216.94 429.33,216.83 429.96,216.71 430.59,216.6 431.22,216.48 431.85,216.36 432.48,216.23 433.11,216.11 433.74,215.99 434.38,215.86 435.01,215.73 435.64,215.59 436.27,215.45 436.9,215.31 437.53,215.16 438.16,215 438.79,214.84 439.42,214.67 440.05,214.49 440.68,214.31 441.31,214.12 441.94,213.93 442.57,213.73 443.2,213.52 443.83,213.3 444.46,213.08 445.09,212.85 445.72,212.61 446.35,212.36 446.99,212.11 447.62,211.85 448.25,211.58 448.88,211.3 449.51,211.01 450.14,210.72 450.77,210.41 451.4,210.1 452.03,209.78 452.66,209.45 453.29,209.12 453.92,208.77 454.55,208.42 455.18,208.05 455.81,207.68 456.44,207.3 457.07,206.92 457.7,206.52 458.33,206.12 458.96,205.7 459.6,205.28 460.23,204.86 460.86,204.42 461.49,203.98 462.12,203.53 462.75,203.07 463.38,202.6 464.01,202.13 464.64,201.64 465.27,201.16 465.9,200.66 466.53,200.15 467.16,199.64 467.79,199.12 468.42,198.59 469.05,198.06 469.68,197.51 470.31,196.95 470.94,196.39 471.57,195.82 472.21,195.23 472.84,194.63 473.47,194.02 474.1,193.4 474.73,192.77 475.36,192.11 475.99,191.45 476.62,190.76 477.25,190.06 477.88,189.34 478.51,188.59 479.14,187.82 479.77,187.03 480.4,186.22 481.03,185.37 481.66,184.5 482.29,183.6 482.92,182.66 483.55,181.69 484.18,180.69 484.81,179.66 485.45,178.57 486.08,177.44 486.71,176.25 487.34,175.01 487.97,173.7 488.6,172.34 489.23,170.92 489.86,169.45 490.49,167.91 491.12,166.33 491.75,164.69 492.38,163 493.01,161.28 493.64,159.52 494.27,157.74 494.9,155.93 495.53,154.12 496.16,152.31 496.79,150.51 497.43,148.74 498.06,147 498.69,145.31 499.32,143.68 499.95,142.12 500.58,140.63 501.21,139.24 501.84,137.94 502.47,136.74 503.1,135.65 503.73,134.67 504.36,133.79 504.99,133.03 505.62,132.36 506.25,131.8 506.88,131.34 507.51,130.96 508.14,130.66 508.77,130.43 509.4,130.23 510.03,130.04 510.67,129.85 511.3,129.64 511.93,129.42 512.56,129.15 513.19,128.85 513.82,128.48 514.45,128.04 515.08,127.52 515.71,126.9 516.34,126.17 516.97,125.33 517.6,124.35 518.23,123.23 518.86,121.97 519.49,120.55 520.12,118.97 520.75,117.22 521.38,115.3 522.01,113.22 522.64,110.97 523.28,108.57 523.91,106.01 524.54,103.32 525.17,100.5 525.8,97.56 526.43,94.54 527.06,91.44 527.69,88.3 528.32,85.14 528.95,81.98 529.58,78.86 530.21,75.8 530.84,72.85 531.47,70.02 532.1,67.36 532.73,64.89 533.36,62.64 533.99,60.66 534.62,58.95 535.25,57.56 535.89,56.5 536.52,55.79 537.15,55.46 537.78,55.51 538.41,55.96 539.04,56.81 539.67,58.22 540.3,60.35 540.93,63.18 541.56,66.68 542.19,70.81 542.82,75.53 543.45,80.76 544.08,86.45 544.71,92.53 545.34,98.93 545.97,105.56 546.6,112.36 547.23,119.25 547.87,126.16 548.5,133.01 549.13,139.76 549.76,146.34 550.39,152.7 551.02,158.8 551.65,164.61 552.28,170.09 552.91,175.24 553.54,180.03 554.17,184.47 554.8,188.54 555.43,192.26 556.06,195.64 556.69,198.68 557.32,201.4 557.95,203.83 558.58,205.99 559.21,207.88 559.84,209.54 560.48,210.99" fill="none" stroke="#EE1515" stroke-width="1.6" stroke-linejoin="round"/>
<path d="M339.8,218.84 340.43,218.92 341.06,219 341.69,219.08 342.32,219.15 342.95,219.23 343.58,219.3 344.21,219.38 344.84,219.45 345.47,219.52 346.11,219.59 346.74,219.66 347.37,219.73 348,219.79 348.63,219.86 349.26,219.92 349.89,219.99 350.52,220.05 351.15,220.11 351.78,220.17 352.41,220.23 353.04,220.28 353.67,220.34 354.3,220.39 354.93,220.45 355.56,220.5 356.19,220.55 356.82,220.6 357.45,220.65 358.08,220.7 358.72,220.74 359.35,220.79 359.98,220.83 360.61,220.88 361.24,220.92 361.87,220.96 362.5,221 363.13,221.04 363.76,221.08 364.39,221.12 365.02,221.15 365.65,221.19 366.28,221.22 366.91,221.25 367.54,221.29 368.17,221.32 368.8,221.35 369.43,221.38 370.06,221.4 370.69,221.43 371.32,221.46 371.96,221.48 372.59,221.51 373.22,221.53 373.85,221.55 374.48,221.57 375.11,221.59 375.74,221.61 376.37,221.63 377,221.65 377.63,221.67 378.26,221.68 378.89,221.7 379.52,221.71 380.15,221.72 380.78,221.74 381.41,221.75 382.04,221.76 382.67,221.77 383.3,221.78 383.94,221.78 384.57,221.79 385.2,221.8 385.83,221.8 386.46,221.81 387.09,221.81 387.72,221.81 388.35,221.81 388.98,221.82 389.61,221.82 390.24,221.81 390.87,221.81 391.5,221.8 392.13,221.79 392.76,221.78 393.39,221.76 394.02,221.74 394.65,221.71 395.28,221.68 395.91,221.65 396.55,221.62 397.18,221.58 397.81,221.54 398.44,221.49 399.07,221.44 399.7,221.39 400.33,221.34 400.96,221.29 401.59,221.23 402.22,221.17 402.85,221.11 403.48,221.04 404.11,220.98 404.74,220.91 405.37,220.84 406,220.77 406.63,220.69 407.26,220.62 407.89,220.54 408.52,220.46 409.15,220.38 409.79,220.3 410.42,220.22 411.05,220.13 411.68,220.05 412.31,219.96 412.94,219.87 413.57,219.78 414.2,219.69 414.83,219.6 415.46,219.5 416.09,219.41 416.72,219.32 417.35,219.22 417.98,219.12 418.61,219.02 419.24,218.93 419.87,218.83 420.5,218.73 421.13,218.62 421.76,218.52 422.4,218.42 423.03,218.31 423.66,218.21 424.29,218.1 424.92,217.99 425.55,217.89 426.18,217.78 426.81,217.67 427.44,217.56 428.07,217.44 428.7,217.33 429.33,217.22 429.96,217.1 430.59,216.98 431.22,216.87 431.85,216.75 432.48,216.63 433.11,216.5 433.74,216.38 434.38,216.26 435.01,216.13 435.64,215.99 436.27,215.86 436.9,215.71 437.53,215.57 438.16,215.41 438.79,215.25 439.42,215.09 440.05,214.92 440.68,214.74 441.31,214.56 441.94,214.37 442.57,214.17 443.2,213.97 443.83,213.76 444.46,213.54 445.09,213.32 445.72,213.09 446.35,212.85 446.99,212.61 447.62,212.35 448.25,212.09 448.88,211.83 449.51,211.55 450.14,211.27 450.77,210.98 451.4,210.69 452.03,210.38 452.66,210.07 453.29,209.75 453.92,209.43 454.55,209.09 455.18,208.75 455.81,208.41 456.44,208.05 457.07,207.69 457.7,207.32 458.33,206.94 458.96,206.56 459.6,206.17 460.23,205.77 460.86,205.37 461.49,204.96 462.12,204.54 462.75,204.12 463.38,203.68 464.01,203.25 464.64,202.8 465.27,202.35 465.9,201.89 466.53,201.42 467.16,200.95 467.79,200.47 468.42,199.98 469.05,199.48 469.68,198.97 470.31,198.45 470.94,197.92 471.57,197.38 472.21,196.82 472.84,196.26 473.47,195.68 474.1,195.08 474.73,194.47 475.36,193.84 475.99,193.2 476.62,192.53 477.25,191.84 477.88,191.13 478.51,190.39 479.14,189.63 479.77,188.84 480.4,188.02 481.03,187.18 481.66,186.3 482.29,185.38 482.92,184.44 483.55,183.46 484.18,182.44 484.81,181.39 485.45,180.3 486.08,179.16 486.71,177.98 487.34,176.76 487.97,175.5 488.6,174.2 489.23,172.85 489.86,171.47 490.49,170.05 491.12,168.6 491.75,167.12 492.38,165.61 493.01,164.08 493.64,162.54 494.27,160.99 494.9,159.43 495.53,157.88 496.16,156.34 496.79,154.82 497.43,153.33 498.06,151.87 498.69,150.45 499.32,149.08 499.95,147.77 500.58,146.52 501.21,145.34 501.84,144.24 502.47,143.21 503.1,142.27 503.73,141.42 504.36,140.65 504.99,139.97 505.62,139.38 506.25,138.88 506.88,138.46 507.51,138.11 508.14,137.84 508.77,137.64 509.4,137.47 510.03,137.31 510.67,137.16 511.3,137 511.93,136.82 512.56,136.63 513.19,136.39 513.82,136.11 514.45,135.77 515.08,135.37 515.71,134.88 516.34,134.3 516.97,133.62 517.6,132.83 518.23,131.93 518.86,130.89 519.49,129.72 520.12,128.41 520.75,126.96 521.38,125.37 522.01,123.63 522.64,121.75 523.28,119.73 523.91,117.57 524.54,115.3 525.17,112.92 525.8,110.43 526.43,107.87 527.06,105.25 527.69,102.58 528.32,99.89 528.95,97.21 529.58,94.56 530.21,91.96 530.84,89.45 531.47,87.05 532.1,84.8 532.73,82.71 533.36,80.81 533.99,79.14 534.62,77.71 535.25,76.56 535.89,75.69 536.52,75.13 537.15,74.9 537.78,75 538.41,75.44 539.04,76.24 539.67,77.53 540.3,79.44 540.93,81.97 541.56,85.08 542.19,88.73 542.82,92.9 543.45,97.52 544.08,102.54 544.71,107.9 545.34,113.54 545.97,119.38 546.6,125.36 547.23,131.42 547.87,137.5 548.5,143.53 549.13,149.46 549.76,155.24 550.39,160.83 551.02,166.2 551.65,171.3 552.28,176.12 552.91,180.64 553.54,184.85 554.17,188.75 554.8,192.33 555.43,195.6 556.06,198.56 556.69,201.24 557.32,203.63 557.95,205.77 558.58,207.66 559.21,209.32 559.84,210.78 560.48,212.06" fill="none" stroke="#FFF200" stroke-width="1.6" stroke-linejoin="round"/>
<path d="M339.8,219.83 340.43,219.9 341.06,219.97 341.69,220.04 342.32,220.1 342.95,220.17 343.58,220.23 344.21,220.3 344.84,220.36 345.47,220.42 346.11,220.48 346.74,220.54 347.37,220.59 348,220.65 348.63,220.7 349.26,220.76 349.89,220.81 350.52,220.86 351.15,220.91 351.78,220.96 352.41,221.01 353.04,221.05 353.67,221.1 354.3,221.14 354.93,221.19 355.56,221.23 356.19,221.27 356.82,221.31 357.45,221.35 358.08,221.39 358.72,221.42 359.35,221.46 359.98,221.5 360.61,221.53 361.24,221.56 361.87,221.59 362.5,221.63 363.13,221.66 363.76,221.69 364.39,221.71 365.02,221.74 365.65,221.77 366.28,221.79 366.91,221.82 367.54,221.84 368.17,221.87 368.8,221.89 369.43,221.91 370.06,221.93 370.69,221.95 371.32,221.97 371.96,221.99 372.59,222 373.22,222.02 373.85,222.04 374.48,222.05 375.11,222.07 375.74,222.08 376.37,222.09 377,222.11 377.63,222.12 378.26,222.13 378.89,222.14 379.52,222.15 380.15,222.16 380.78,222.16 381.41,222.17 382.04,222.18 382.67,222.18 383.3,222.19 383.94,222.2 384.57,222.2 385.2,222.2 385.83,222.21 386.46,222.21 387.09,222.21 387.72,222.21 388.35,222.21 388.98,222.21 389.61,222.21 390.24,222.21 390.87,222.21 391.5,222.2 392.13,222.19 392.76,222.17 393.39,222.16 394.02,222.13 394.65,222.11 395.28,222.08 395.91,222.04 396.55,222.01 397.18,221.97 397.81,221.92 398.44,221.88 399.07,221.83 399.7,221.78 400.33,221.73 400.96,221.67 401.59,221.61 402.22,221.55 402.85,221.48 403.48,221.42 404.11,221.35 404.74,221.28 405.37,221.21 406,221.13 406.63,221.06 407.26,220.98 407.89,220.9 408.52,220.82 409.15,220.74 409.79,220.66 410.42,220.57 411.05,220.48 411.68,220.4 412.31,220.31 412.94,220.22 413.57,220.13 414.2,220.03 414.83,219.94 415.46,219.85 416.09,219.75 416.72,219.66 417.35,219.56 417.98,219.46 418.61,219.36 419.24,219.26 419.87,219.16 420.5,219.06 421.13,218.96 421.76,218.86 422.4,218.76 423.03,218.65 423.66,218.55 424.29,218.44 424.92,218.34 425.55,218.23 426.18,218.12 426.81,218.02 427.44,217.91 428.07,217.8 428.7,217.69 429.33,217.58 429.96,217.46 430.59,217.35 431.22,217.24 431.85,217.12 432.48,217.01 433.11,216.89 433.74,216.77 434.38,216.65 435.01,216.53 435.64,216.4 436.27,216.27 436.9,216.14 437.53,215.99 438.16,215.85 438.79,215.7 439.42,215.54 440.05,215.37 440.68,215.2 441.31,215.03 441.94,214.84 442.57,214.66 443.2,214.46 443.83,214.26 444.46,214.05 445.09,213.84 445.72,213.61 446.35,213.38 446.99,213.15 447.62,212.9 448.25,212.65 448.88,212.4 449.51,212.13 450.14,211.86 450.77,211.58 451.4,211.29 452.03,211 452.66,210.7 453.29,210.39 453.92,210.07 454.55,209.75 455.18,209.42 455.81,209.08 456.44,208.74 457.07,208.39 457.7,208.03 458.33,207.67 458.96,207.29 459.6,206.91 460.23,206.53 460.86,206.14 461.49,205.74 462.12,205.33 462.75,204.92 463.38,204.5 464.01,204.07 464.64,203.64 465.27,203.2 465.9,202.75 466.53,202.3 467.16,201.84 467.79,201.37 468.42,200.89 469.05,200.41 469.68,199.91 470.31,199.41 470.94,198.89 471.57,198.36 472.21,197.82 472.84,197.27 473.47,196.71 474.1,196.13 474.73,195.53 475.36,194.92 475.99,194.29 476.62,193.64 477.25,192.97 477.88,192.28 478.51,191.56 479.14,190.82 479.77,190.05 480.4,189.25 481.03,188.43 481.66,187.57 482.29,186.68 482.92,185.75 483.55,184.79 484.18,183.8 484.81,182.77 485.45,181.69 486.08,180.58 486.71,179.41 487.34,178.21 487.97,176.95 488.6,175.66 489.23,174.31 489.86,172.93 490.49,171.51 491.12,170.05 491.75,168.55 492.38,167.03 493.01,165.48 493.64,163.91 494.27,162.33 494.9,160.75 495.53,159.16 496.16,157.59 496.79,156.03 497.43,154.49 498.06,152.99 498.69,151.54 499.32,150.13 499.95,148.78 500.58,147.5 501.21,146.29 501.84,145.16 502.47,144.11 503.1,143.14 503.73,142.27 504.36,141.49 504.99,140.8 505.62,140.2 506.25,139.69 506.88,139.26 507.51,138.92 508.14,138.65 508.77,138.45 509.4,138.28 510.03,138.14 510.67,137.99 511.3,137.85 511.93,137.69 512.56,137.51 513.19,137.3 513.82,137.04 514.45,136.74 515.08,136.36 515.71,135.91 516.34,135.38 516.97,134.75 517.6,134.01 518.23,133.16 518.86,132.19 519.49,131.09 520.12,129.85 520.75,128.48 521.38,126.97 522.01,125.32 522.64,123.53 523.28,121.61 523.91,119.56 524.54,117.39 525.17,115.12 525.8,112.75 526.43,110.3 527.06,107.79 527.69,105.24 528.32,102.67 528.95,100.11 529.58,97.57 530.21,95.09 530.84,92.69 531.47,90.39 532.1,88.24 532.73,86.24 533.36,84.43 533.99,82.84 534.62,81.49 535.25,80.39 535.89,79.58 536.52,79.06 537.15,78.86 537.78,78.98 538.41,79.44 539.04,80.23 539.67,81.5 540.3,83.38 540.93,85.85 541.56,88.88 542.19,92.45 542.82,96.5 543.45,101 544.08,105.89 544.71,111.1 545.34,116.58 545.97,122.26 546.6,128.07 547.23,133.96 547.87,139.86 548.5,145.72 549.13,151.48 549.76,157.1 550.39,162.53 551.02,167.74 551.65,172.7 552.28,177.38 552.91,181.77 553.54,185.86 554.17,189.64 554.8,193.12 555.43,196.29 556.06,199.17 556.69,201.77 557.32,204.1 557.95,206.17 558.58,208 559.21,209.62 559.84,211.04 560.48,212.28" fill="none" stroke="#808010" stroke-width="1.6" stroke-linejoin="round"/>
<path d="M339.8,211.69 340.43,211.79 341.06,211.89 341.69,211.98 342.32,212.08 342.95,212.17 343.58,212.27 344.21,212.36 344.84,212.45 345.47,212.54 346.11,212.63 346.74,212.72 347.37,212.8 348,212.89 348.63,212.98 349.26,213.06 349.89,213.14 350.52,213.22 351.15,213.3 351.78,213.38 352.41,213.46 353.04,213.54 353.67,213.61 354.3,213.69 354.93,213.76 355.56,213.83 356.19,213.9 356.82,213.97 357.45,214.04 358.08,214.11 358.72,214.18 359.35,214.24 359.98,214.31 360.61,214.37 361.24,214.43 361.87,214.49 362.5,214.55 363.13,214.61 363.76,214.67 364.39,214.72 365.02,214.78 365.65,214.83 366.28,214.88 366.91,214.93 367.54,214.98 368.17,215.03 368.8,215.07 369.43,215.12 370.06,215.16 370.69,215.21 371.32,215.25 371.96,215.29 372.59,215.33 373.22,215.36 373.85,215.4 374.48,215.44 375.11,215.47 375.74,215.5 376.37,215.53 377,215.56 377.63,215.59 378.26,215.62 378.89,215.64 379.52,215.67 380.15,215.69 380.78,215.71 381.41,215.73 382.04,215.75 382.67,215.77 383.3,215.78 383.94,215.8 384.57,215.81 385.2,215.82 385.83,215.83 386.46,215.84 387.09,215.85 387.72,215.85 388.35,215.86 388.98,215.86 389.61,215.86 390.24,215.86 390.87,215.86 391.5,215.85 392.13,215.84 392.76,215.83 393.39,215.81 394.02,215.79 394.65,215.77 395.28,215.75 395.91,215.72 396.55,215.7 397.18,215.66 397.81,215.63 398.44,215.6 399.07,215.56 399.7,215.52 400.33,215.48 400.96,215.43 401.59,215.38 402.22,215.34 402.85,215.29 403.48,215.23 404.11,215.18 404.74,215.12 405.37,215.07 406,215.01 406.63,214.95 407.26,214.88 407.89,214.82 408.52,214.76 409.15,214.69 409.79,214.62 410.42,214.55 411.05,214.48 411.68,214.41 412.31,214.34 412.94,214.26 413.57,214.18 414.2,214.11 414.83,214.03 415.46,213.95 416.09,213.87 416.72,213.79 417.35,213.7 417.98,213.62 418.61,213.53 419.24,213.44 419.87,213.36 420.5,213.27 421.13,213.18 421.76,213.08 422.4,212.99 423.03,212.89 423.66,212.8 424.29,212.7 424.92,212.6 425.55,212.5 426.18,212.4 426.81,212.29 427.44,212.19 428.07,212.08 428.7,211.97 429.33,211.86 429.96,211.74 430.59,211.63 431.22,211.51 431.85,211.39 432.48,211.27 433.11,211.15 433.74,211.02 434.38,210.89 435.01,210.76 435.64,210.63 436.27,210.5 436.9,210.36 437.53,210.23 438.16,210.09 438.79,209.94 439.42,209.8 440.05,209.65 440.68,209.49 441.31,209.34 441.94,209.18 442.57,209.01 443.2,208.85 443.83,208.67 444.46,208.5 445.09,208.31 445.72,208.13 446.35,207.94 446.99,207.74 447.62,207.54 448.25,207.34 448.88,207.13 449.51,206.91 450.14,206.69 450.77,206.46 451.4,206.23 452.03,205.99 452.66,205.75 453.29,205.5 453.92,205.24 454.55,204.98 455.18,204.72 455.81,204.44 456.44,204.17 457.07,203.88 457.7,203.59 458.33,203.3 458.96,203 459.6,202.69 460.23,202.38 460.86,202.06 461.49,201.73 462.12,201.4 462.75,201.07 463.38,200.72 464.01,200.37 464.64,200.01 465.27,199.65 465.9,199.27 466.53,198.89 467.16,198.5 467.79,198.1 468.42,197.69 469.05,197.27 469.68,196.84 470.31,196.39 470.94,195.93 471.57,195.46 472.21,194.97 472.84,194.47 473.47,193.95 474.1,193.4 474.73,192.84 475.36,192.25 475.99,191.64 476.62,191.01 477.25,190.35 477.88,189.65 478.51,188.93 479.14,188.18 479.77,187.39 480.4,186.56 481.03,185.7 481.66,184.8 482.29,183.86 482.92,182.88 483.55,181.86 484.18,180.8 484.81,179.69 485.45,178.54 486.08,177.36 486.71,176.13 487.34,174.87 487.97,173.58 488.6,172.25 489.23,170.88 489.86,169.49 490.49,168.08 491.12,166.64 491.75,165.18 492.38,163.7 493.01,162.22 493.64,160.73 494.27,159.23 494.9,157.74 495.53,156.26 496.16,154.79 496.79,153.34 497.43,151.92 498.06,150.53 498.69,149.18 499.32,147.87 499.95,146.62 500.58,145.42 501.21,144.29 501.84,143.22 502.47,142.23 503.1,141.31 503.73,140.47 504.36,139.71 504.99,139.03 505.62,138.44 506.25,137.93 506.88,137.5 507.51,137.15 508.14,136.88 508.77,136.69 509.4,136.53 510.03,136.4 510.67,136.27 511.3,136.15 511.93,136.02 512.56,135.88 513.19,135.71 513.82,135.5 514.45,135.25 515.08,134.94 515.71,134.56 516.34,134.09 516.97,133.54 517.6,132.89 518.23,132.14 518.86,131.26 519.49,130.27 520.12,129.15 520.75,127.89 521.38,126.5 522.01,124.98 522.64,123.32 523.28,121.54 523.91,119.63 524.54,117.61 525.17,115.49 525.8,113.27 526.43,110.97 527.06,108.62 527.69,106.22 528.32,103.81 528.95,101.39 529.58,99.01 530.21,96.67 530.84,94.41 531.47,92.26 532.1,90.24 532.73,88.37 533.36,86.68 533.99,85.2 534.62,83.95 535.25,82.95 535.89,82.22 536.52,81.78 537.15,81.64 537.78,81.82 538.41,82.31 539.04,83.14 539.67,84.42 540.3,86.3 540.93,88.74 541.56,91.74 542.19,95.25 542.82,99.24 543.45,103.66 544.08,108.45 544.71,113.56 545.34,118.92 545.97,124.48 546.6,130.17 547.23,135.93 547.87,141.7 548.5,147.43 549.13,153.06 549.76,158.55 550.39,163.86 551.02,168.94 551.65,173.79 552.28,178.36 552.91,182.65 553.54,186.65 554.17,190.34 554.8,193.74 555.43,196.83 556.06,199.65 556.69,202.18 557.32,204.45 557.95,206.48 558.58,208.27 559.21,209.85 559.84,211.24 560.48,212.45" fill="none" stroke="#801080" stroke-width="1.6" stroke-linejoin="round"/>
<line x1="343.9" y1="43.7" x2="404.7" y2="43.7" stroke="#888" stroke-width="1"/>
<line x1="404.7" y1="43.7" x2="404.7" y2="149.8" stroke="#888" stroke-width="1"/>
<line x1="343.9" y1="149.8" x2="404.7" y2="149.8" stroke="#888" stroke-width="1"/>
<line x1="343.9" y1="43.7" x2="343.9" y2="149.8" stroke="#888" stroke-width="1"/>
<line x1="349.7" y1="51.9" x2="370.3" y2="51.9" stroke="#000000" stroke-width="1.8"/>
<text transform="translate(372.05,54.9) scale(0.9200,1)" font-size="9.400" font-weight="normal" fill="#222">MB</text>
<line x1="349.7" y1="64.7" x2="370.3" y2="64.7" stroke="#F5862C" stroke-width="1.8"/>
<text transform="translate(371.9,68) scale(0.9618,1)" font-size="10.200" font-weight="normal" fill="#222">C</text>
<text transform="translate(377.34,71.54) scale(1.1543,1)" font-size="5.928" font-weight="normal" fill="#444">0</text>
<line x1="349.7" y1="80.7" x2="370.3" y2="80.7" stroke="#35EEEE" stroke-width="1.8"/>
<text transform="translate(371.92,83.7) scale(0.9200,1)" font-size="9.400" font-weight="normal" fill="#222">20 min</text>
<line x1="349.7" y1="93.5" x2="370.3" y2="93.5" stroke="#12128A" stroke-width="1.8"/>
<text transform="translate(372.13,96.5) scale(0.9200,1)" font-size="9.400" font-weight="normal" fill="#222">40 min</text>
<line x1="349.7" y1="106" x2="370.3" y2="106" stroke="#EE1515" stroke-width="1.8"/>
<text transform="translate(371.93,109) scale(0.9200,1)" font-size="9.400" font-weight="normal" fill="#222">60 min</text>
<line x1="349.7" y1="118.6" x2="370.3" y2="118.6" stroke="#FFF200" stroke-width="1.8"/>
<text transform="translate(371.97,121.6) scale(0.9200,1)" font-size="9.400" font-weight="normal" fill="#222">80 min</text>
<line x1="349.7" y1="131" x2="370.3" y2="131" stroke="#808010" stroke-width="1.8"/>
<text transform="translate(371.54,134) scale(0.9200,1)" font-size="9.400" font-weight="normal" fill="#222">100 min</text>
<line x1="349.7" y1="143.9" x2="370.3" y2="143.9" stroke="#801080" stroke-width="1.8"/>
<text transform="translate(371.54,146.9) scale(0.9200,1)" font-size="9.400" font-weight="normal" fill="#222">120 min</text>
<rect x="339.8" y="5.4" width="252.2" height="218.4" fill="none" stroke="#000" stroke-width="2.2"/>
<line x1="339.8" y1="223.8" x2="339.8" y2="229.3" stroke="#000" stroke-width="2.2"/>
<text transform="translate(331.76,240.1) scale(0.8300,1)" font-size="12.300" font-weight="bold" fill="#000">350</text>
<line x1="355.56" y1="223.8" x2="355.56" y2="227.8" stroke="#000" stroke-width="2.2"/>
<line x1="371.32" y1="223.8" x2="371.32" y2="229.3" stroke="#000" stroke-width="2.2"/>
<text transform="translate(363.65,240.1) scale(0.8300,1)" font-size="12.300" font-weight="bold" fill="#000">400</text>
<line x1="387.09" y1="223.8" x2="387.09" y2="227.8" stroke="#000" stroke-width="2.2"/>
<line x1="402.85" y1="223.8" x2="402.85" y2="229.3" stroke="#000" stroke-width="2.2"/>
<text transform="translate(395.18,240.1) scale(0.8300,1)" font-size="12.300" font-weight="bold" fill="#000">450</text>
<line x1="418.61" y1="223.8" x2="418.61" y2="227.8" stroke="#000" stroke-width="2.2"/>
<line x1="434.38" y1="223.8" x2="434.38" y2="229.3" stroke="#000" stroke-width="2.2"/>
<text transform="translate(426.3,240.1) scale(0.8300,1)" font-size="12.300" font-weight="bold" fill="#000">500</text>
<line x1="450.14" y1="223.8" x2="450.14" y2="227.8" stroke="#000" stroke-width="2.2"/>
<line x1="465.9" y1="223.8" x2="465.9" y2="229.3" stroke="#000" stroke-width="2.2"/>
<text transform="translate(457.82,240.1) scale(0.8300,1)" font-size="12.300" font-weight="bold" fill="#000">550</text>
<line x1="481.66" y1="223.8" x2="481.66" y2="227.8" stroke="#000" stroke-width="2.2"/>
<line x1="497.43" y1="223.8" x2="497.43" y2="229.3" stroke="#000" stroke-width="2.2"/>
<text transform="translate(489.44,240.1) scale(0.8300,1)" font-size="12.300" font-weight="bold" fill="#000">600</text>
<line x1="513.19" y1="223.8" x2="513.19" y2="227.8" stroke="#000" stroke-width="2.2"/>
<line x1="528.95" y1="223.8" x2="528.95" y2="229.3" stroke="#000" stroke-width="2.2"/>
<text transform="translate(520.96,240.1) scale(0.8300,1)" font-size="12.300" font-weight="bold" fill="#000">650</text>
<line x1="544.71" y1="223.8" x2="544.71" y2="227.8" stroke="#000" stroke-width="2.2"/>
<line x1="560.48" y1="223.8" x2="560.48" y2="229.3" stroke="#000" stroke-width="2.2"/>
<text transform="translate(552.14,240.1) scale(0.8300,1)" font-size="12.300" font-weight="bold" fill="#000">700</text>
<line x1="576.24" y1="223.8" x2="576.24" y2="227.8" stroke="#000" stroke-width="2.2"/>
<line x1="592" y1="223.8" x2="592" y2="229.3" stroke="#000" stroke-width="2.2"/>
<text transform="translate(583.66,240.1) scale(0.8300,1)" font-size="12.300" font-weight="bold" fill="#000">750</text>
<line x1="334.3" y1="223.8" x2="339.8" y2="223.8" stroke="#000" stroke-width="2.2"/>
<text transform="translate(321.03,227.3) scale(0.8300,1)" font-size="12.300" font-weight="bold" fill="#000">0.0</text>
<line x1="335.8" y1="203.95" x2="339.8" y2="203.95" stroke="#000" stroke-width="2.2"/>
<line x1="334.3" y1="184.09" x2="339.8" y2="184.09" stroke="#000" stroke-width="2.2"/>
<text transform="translate(321.08,187.59) scale(0.8300,1)" font-size="12.300" font-weight="bold" fill="#000">0.2</text>
<line x1="335.8" y1="164.24" x2="339.8" y2="164.24" stroke="#000" stroke-width="2.2"/>
<line x1="334.3" y1="144.38" x2="339.8" y2="144.38" stroke="#000" stroke-width="2.2"/>
<text transform="translate(320.83,147.88) scale(0.8300,1)" font-size="12.300" font-weight="bold" fill="#000">0.4</text>
<line x1="335.8" y1="124.53" x2="339.8" y2="124.53" stroke="#000" stroke-width="2.2"/>
<line x1="334.3" y1="104.67" x2="339.8" y2="104.67" stroke="#000" stroke-width="2.2"/>
<text transform="translate(320.94,108.17) scale(0.8300,1)" font-size="12.300" font-weight="bold" fill="#000">0.6</text>
<line x1="335.8" y1="84.82" x2="339.8" y2="84.82" stroke="#000" stroke-width="2.2"/>
<line x1="334.3" y1="64.96" x2="339.8" y2="64.96" stroke="#000" stroke-width="2.2"/>
<text transform="translate(320.98,68.46) scale(0.8300,1)" font-size="12.300" font-weight="bold" fill="#000">0.8</text>
<line x1="335.8" y1="45.11" x2="339.8" y2="45.11" stroke="#000" stroke-width="2.2"/>
<line x1="334.3" y1="25.25" x2="339.8" y2="25.25" stroke="#000" stroke-width="2.2"/>
<text transform="translate(321.03,28.75) scale(0.8300,1)" font-size="12.300" font-weight="bold" fill="#000">1.0</text>
<line x1="335.8" y1="5.4" x2="339.8" y2="5.4" stroke="#000" stroke-width="2.2"/>
<text transform="translate(350.95,29.88) scale(1.0140,1)" font-size="23.601" font-weight="normal" fill="#000">(b)</text>
<text transform="translate(421.14,258.3) scale(0.8687,1)" font-size="12.672" font-weight="bold" fill="#000">Wavelength (nm)</text>
<text transform="translate(313.9,167.03) rotate(-90) scale(0.9897,0.8000)" font-size="13.200" font-weight="bold" fill="#000">Absorbance (a.u)</text>
<path d="M39,489.06 39.63,489.14 40.26,489.21 40.89,489.29 41.52,489.36 42.16,489.43 42.79,489.5 43.42,489.57 44.05,489.64 44.68,489.71 45.31,489.78 45.94,489.84 46.57,489.91 47.2,489.97 47.83,490.04 48.46,490.1 49.1,490.16 49.73,490.22 50.36,490.28 50.99,490.34 51.62,490.39 52.25,490.45 52.88,490.5 53.51,490.56 54.14,490.61 54.77,490.66 55.41,490.71 56.04,490.76 56.67,490.81 57.3,490.86 57.93,490.91 58.56,490.95 59.19,491 59.82,491.04 60.45,491.09 61.08,491.13 61.72,491.17 62.35,491.21 62.98,491.25 63.61,491.29 64.24,491.32 64.87,491.36 65.5,491.4 66.13,491.43 66.76,491.46 67.39,491.5 68.03,491.53 68.66,491.56 69.29,491.59 69.92,491.62 70.55,491.64 71.18,491.67 71.81,491.7 72.44,491.72 73.07,491.75 73.7,491.77 74.34,491.79 74.97,491.81 75.6,491.83 76.23,491.85 76.86,491.87 77.49,491.89 78.12,491.9 78.75,491.92 79.38,491.93 80.01,491.95 80.65,491.96 81.28,491.97 81.91,491.98 82.54,491.99 83.17,492 83.8,492.01 84.43,492.01 85.06,492.02 85.69,492.02 86.32,492.03 86.96,492.03 87.59,492.03 88.22,492.03 88.85,492.03 89.48,492.03 90.11,492.03 90.74,492.02 91.37,492.01 92,492 92.63,491.98 93.27,491.96 93.9,491.94 94.53,491.91 95.16,491.89 95.79,491.86 96.42,491.82 97.05,491.79 97.68,491.75 98.31,491.71 98.94,491.67 99.58,491.62 100.21,491.58 100.84,491.53 101.47,491.47 102.1,491.42 102.73,491.36 103.36,491.31 103.99,491.25 104.62,491.19 105.25,491.12 105.89,491.06 106.52,490.99 107.15,490.92 107.78,490.85 108.41,490.78 109.04,490.7 109.67,490.62 110.3,490.55 110.93,490.47 111.56,490.38 112.2,490.3 112.83,490.22 113.46,490.13 114.09,490.04 114.72,489.95 115.35,489.86 115.98,489.76 116.61,489.66 117.24,489.57 117.87,489.47 118.51,489.36 119.14,489.26 119.77,489.15 120.4,489.04 121.03,488.93 121.66,488.82 122.29,488.7 122.92,488.58 123.55,488.46 124.18,488.34 124.82,488.21 125.45,488.08 126.08,487.95 126.71,487.81 127.34,487.67 127.97,487.53 128.6,487.39 129.23,487.24 129.86,487.09 130.5,486.93 131.13,486.77 131.76,486.61 132.39,486.44 133.02,486.27 133.65,486.09 134.28,485.91 134.91,485.72 135.54,485.52 136.17,485.32 136.8,485.11 137.44,484.9 138.07,484.67 138.7,484.44 139.33,484.2 139.96,483.95 140.59,483.69 141.22,483.42 141.85,483.15 142.48,482.86 143.11,482.57 143.75,482.27 144.38,481.95 145.01,481.63 145.64,481.3 146.27,480.96 146.9,480.61 147.53,480.25 148.16,479.88 148.79,479.5 149.42,479.12 150.06,478.72 150.69,478.31 151.32,477.89 151.95,477.46 152.58,477.02 153.21,476.58 153.84,476.12 154.47,475.65 155.1,475.18 155.73,474.69 156.37,474.2 157,473.69 157.63,473.18 158.26,472.66 158.89,472.12 159.52,471.58 160.15,471.03 160.78,470.47 161.41,469.9 162.04,469.32 162.68,468.73 163.31,468.14 163.94,467.53 164.57,466.9 165.2,466.27 165.83,465.63 166.46,464.97 167.09,464.3 167.72,463.61 168.35,462.91 168.99,462.2 169.62,461.46 170.25,460.71 170.88,459.94 171.51,459.14 172.14,458.32 172.77,457.47 173.4,456.6 174.03,455.7 174.66,454.76 175.3,453.79 175.93,452.79 176.56,451.74 177.19,450.65 177.82,449.52 178.45,448.35 179.08,447.12 179.71,445.85 180.34,444.52 180.97,443.14 181.61,441.7 182.24,440.2 182.87,438.64 183.5,437.03 184.13,435.35 184.76,433.61 185.39,431.82 186.02,429.98 186.65,428.08 187.28,426.12 187.92,424.12 188.55,422.08 189.18,419.99 189.81,417.87 190.44,415.72 191.07,413.53 191.7,411.33 192.33,409.11 192.96,406.89 193.59,404.66 194.23,402.44 194.86,400.24 195.49,398.06 196.12,395.91 196.75,393.81 197.38,391.75 198.01,389.75 198.64,387.82 199.27,385.96 199.9,384.19 200.54,382.52 201.17,380.94 201.8,379.46 202.43,378.1 203.06,376.86 203.69,375.73 204.32,374.73 204.95,373.86 205.58,373.11 206.21,372.48 206.85,371.98 207.48,371.59 208.11,371.31 208.74,371.1 209.37,370.92 210,370.76 210.63,370.62 211.26,370.47 211.89,370.31 212.52,370.12 213.16,369.88 213.79,369.58 214.42,369.2 215.05,368.74 215.68,368.17 216.31,367.48 216.94,366.65 217.57,365.68 218.2,364.56 218.83,363.27 219.47,361.8 220.1,360.15 220.73,358.32 221.36,356.31 221.99,354.11 222.62,351.74 223.25,349.2 223.88,346.5 224.51,343.65 225.14,340.68 225.78,337.6 226.41,334.43 227.04,331.21 227.67,327.96 228.3,324.71 228.93,321.5 229.56,318.36 230.19,315.32 230.82,312.42 231.45,309.7 232.09,307.2 232.72,304.94 233.35,302.97 233.98,301.31 234.61,300 235.24,299.06 235.87,298.52 236.5,298.39 237.13,298.7 237.76,299.45 238.4,300.65 239.03,302.49 239.66,305.14 240.29,308.59 240.92,312.79 241.55,317.71 242.18,323.28 242.81,329.44 243.44,336.13 244.07,343.25 244.71,350.72 245.34,358.46 245.97,366.38 246.6,374.4 247.23,382.43 247.86,390.39 248.49,398.22 249.12,405.86 249.75,413.23 250.38,420.31 251.02,427.04 251.65,433.39 252.28,439.36 252.91,444.91 253.54,450.04 254.17,454.76 254.8,459.07 255.43,462.98 256.06,466.5 256.69,469.66 257.33,472.47 257.96,474.97 258.59,477.16 259.22,479.09 259.85,480.77" fill="none" stroke="#000000" stroke-width="1.6" stroke-linejoin="round"/>
<path d="M39,487.08 39.63,487.2 40.26,487.32 40.89,487.43 41.52,487.54 42.16,487.66 42.79,487.76 43.42,487.87 44.05,487.98 44.68,488.08 45.31,488.18 45.94,488.28 46.57,488.38 47.2,488.47 47.83,488.56 48.46,488.66 49.1,488.74 49.73,488.83 50.36,488.92 50.99,489 51.62,489.08 52.25,489.16 52.88,489.24 53.51,489.32 54.14,489.39 54.77,489.47 55.41,489.54 56.04,489.61 56.67,489.68 57.3,489.74 57.93,489.81 58.56,489.87 59.19,489.93 59.82,489.99 60.45,490.05 61.08,490.11 61.72,490.16 62.35,490.22 62.98,490.27 63.61,490.32 64.24,490.37 64.87,490.41 65.5,490.46 66.13,490.5 66.76,490.55 67.39,490.59 68.03,490.63 68.66,490.67 69.29,490.7 69.92,490.74 70.55,490.78 71.18,490.81 71.81,490.84 72.44,490.87 73.07,490.9 73.7,490.93 74.34,490.95 74.97,490.98 75.6,491 76.23,491.03 76.86,491.05 77.49,491.07 78.12,491.09 78.75,491.1 79.38,491.12 80.01,491.14 80.65,491.15 81.28,491.16 81.91,491.18 82.54,491.19 83.17,491.2 83.8,491.21 84.43,491.21 85.06,491.22 85.69,491.23 86.32,491.23 86.96,491.23 87.59,491.24 88.22,491.24 88.85,491.24 89.48,491.24 90.11,491.23 90.74,491.22 91.37,491.21 92,491.18 92.63,491.15 93.27,491.12 93.9,491.08 94.53,491.03 95.16,490.98 95.79,490.93 96.42,490.87 97.05,490.8 97.68,490.73 98.31,490.66 98.94,490.58 99.58,490.5 100.21,490.41 100.84,490.32 101.47,490.23 102.1,490.13 102.73,490.03 103.36,489.93 103.99,489.82 104.62,489.71 105.25,489.6 105.89,489.49 106.52,489.37 107.15,489.26 107.78,489.14 108.41,489.01 109.04,488.89 109.67,488.76 110.3,488.64 110.93,488.51 111.56,488.38 112.2,488.25 112.83,488.12 113.46,487.98 114.09,487.85 114.72,487.71 115.35,487.58 115.98,487.44 116.61,487.31 117.24,487.17 117.87,487.04 118.51,486.9 119.14,486.76 119.77,486.63 120.4,486.49 121.03,486.35 121.66,486.22 122.29,486.08 122.92,485.94 123.55,485.81 124.18,485.67 124.82,485.54 125.45,485.4 126.08,485.27 126.71,485.14 127.34,485 127.97,484.87 128.6,484.74 129.23,484.61 129.86,484.48 130.5,484.35 131.13,484.22 131.76,484.09 132.39,483.97 133.02,483.84 133.65,483.71 134.28,483.59 134.91,483.45 135.54,483.31 136.17,483.17 136.8,483.02 137.44,482.86 138.07,482.7 138.7,482.53 139.33,482.36 139.96,482.18 140.59,481.99 141.22,481.79 141.85,481.59 142.48,481.38 143.11,481.16 143.75,480.93 144.38,480.7 145.01,480.45 145.64,480.2 146.27,479.94 146.9,479.68 147.53,479.4 148.16,479.11 148.79,478.82 149.42,478.52 150.06,478.2 150.69,477.88 151.32,477.55 151.95,477.21 152.58,476.86 153.21,476.5 153.84,476.13 154.47,475.75 155.1,475.36 155.73,474.97 156.37,474.56 157,474.14 157.63,473.72 158.26,473.29 158.89,472.84 159.52,472.39 160.15,471.93 160.78,471.46 161.41,470.98 162.04,470.49 162.68,470 163.31,469.49 163.94,468.98 164.57,468.46 165.2,467.93 165.83,467.39 166.46,466.84 167.09,466.29 167.72,465.72 168.35,465.15 168.99,464.56 169.62,463.97 170.25,463.36 170.88,462.75 171.51,462.12 172.14,461.49 172.77,460.84 173.4,460.17 174.03,459.49 174.66,458.8 175.3,458.09 175.93,457.36 176.56,456.61 177.19,455.85 177.82,455.06 178.45,454.24 179.08,453.41 179.71,452.54 180.34,451.64 180.97,450.72 181.61,449.76 182.24,448.77 182.87,447.74 183.5,446.67 184.13,445.57 184.76,444.41 185.39,443.18 186.02,441.87 186.65,440.49 187.28,439.03 187.92,437.49 188.55,435.86 189.18,434.15 189.81,432.34 190.44,430.46 191.07,428.49 191.7,426.44 192.33,424.32 192.96,422.14 193.59,419.9 194.23,417.61 194.86,415.3 195.49,412.97 196.12,410.65 196.75,408.34 197.38,406.06 198.01,403.85 198.64,401.7 199.27,399.64 199.9,397.69 200.54,395.85 201.17,394.15 201.8,392.58 202.43,391.16 203.06,389.88 203.69,388.76 204.32,387.78 204.95,386.95 205.58,386.25 206.21,385.68 206.85,385.23 207.48,384.88 208.11,384.62 208.74,384.41 209.37,384.22 210,384.02 210.63,383.83 211.26,383.61 211.89,383.37 212.52,383.08 213.16,382.73 213.79,382.31 214.42,381.81 215.05,381.2 215.68,380.48 216.31,379.64 216.94,378.66 217.57,377.53 218.2,376.25 218.83,374.79 219.47,373.17 220.1,371.36 220.73,369.37 221.36,367.21 221.99,364.86 222.62,362.35 223.25,359.67 223.88,356.84 224.51,353.87 225.14,350.78 225.78,347.58 226.41,344.31 227.04,340.99 227.67,337.64 228.3,334.3 228.93,331 229.56,327.76 230.19,324.63 230.82,321.64 231.45,318.83 232.09,316.23 232.72,313.87 233.35,311.78 233.98,310.01 234.61,308.57 235.24,307.49 235.87,306.8 236.5,306.51 237.13,306.64 237.76,307.2 238.4,308.2 239.03,309.81 239.66,312.2 240.29,315.36 240.92,319.24 241.55,323.81 242.18,329.01 242.81,334.78 243.44,341.05 244.07,347.74 244.71,354.78 245.34,362.07 245.97,369.54 246.6,377.11 247.23,384.7 247.86,392.22 248.49,399.63 249.12,406.85 249.75,413.83 250.38,420.52 251.02,426.89 251.65,432.91 252.28,438.56 252.91,443.81 253.54,448.68 254.17,453.15 254.8,457.23 255.43,460.93 256.06,464.26 256.69,467.26 257.33,469.92 257.96,472.28 258.59,474.36 259.22,476.18 259.85,477.77" fill="none" stroke="#F5862C" stroke-width="1.6" stroke-linejoin="round"/>
<path d="M39,490.45 39.63,490.5 40.26,490.55 40.89,490.59 41.52,490.64 42.16,490.69 42.79,490.74 43.42,490.78 44.05,490.83 44.68,490.87 45.31,490.92 45.94,490.96 46.57,491 47.2,491.05 47.83,491.09 48.46,491.13 49.1,491.17 49.73,491.21 50.36,491.25 50.99,491.29 51.62,491.32 52.25,491.36 52.88,491.4 53.51,491.43 54.14,491.47 54.77,491.5 55.41,491.54 56.04,491.57 56.67,491.6 57.3,491.63 57.93,491.66 58.56,491.7 59.19,491.73 59.82,491.76 60.45,491.78 61.08,491.81 61.72,491.84 62.35,491.87 62.98,491.89 63.61,491.92 64.24,491.94 64.87,491.97 65.5,491.99 66.13,492.01 66.76,492.04 67.39,492.06 68.03,492.08 68.66,492.1 69.29,492.12 69.92,492.14 70.55,492.16 71.18,492.18 71.81,492.19 72.44,492.21 73.07,492.23 73.7,492.24 74.34,492.26 74.97,492.27 75.6,492.29 76.23,492.3 76.86,492.31 77.49,492.32 78.12,492.33 78.75,492.35 79.38,492.35 80.01,492.36 80.65,492.37 81.28,492.38 81.91,492.39 82.54,492.39 83.17,492.4 83.8,492.41 84.43,492.41 85.06,492.42 85.69,492.42 86.32,492.42 86.96,492.42 87.59,492.43 88.22,492.43 88.85,492.43 89.48,492.43 90.11,492.42 90.74,492.42 91.37,492.41 92,492.41 92.63,492.4 93.27,492.39 93.9,492.37 94.53,492.36 95.16,492.34 95.79,492.32 96.42,492.3 97.05,492.28 97.68,492.26 98.31,492.24 98.94,492.21 99.58,492.18 100.21,492.16 100.84,492.13 101.47,492.1 102.1,492.06 102.73,492.03 103.36,492 103.99,491.96 104.62,491.93 105.25,491.89 105.89,491.85 106.52,491.81 107.15,491.77 107.78,491.73 108.41,491.69 109.04,491.64 109.67,491.6 110.3,491.55 110.93,491.51 111.56,491.46 112.2,491.41 112.83,491.36 113.46,491.31 114.09,491.26 114.72,491.21 115.35,491.16 115.98,491.1 116.61,491.05 117.24,491 117.87,490.94 118.51,490.88 119.14,490.82 119.77,490.76 120.4,490.7 121.03,490.64 121.66,490.58 122.29,490.51 122.92,490.45 123.55,490.38 124.18,490.31 124.82,490.24 125.45,490.17 126.08,490.1 126.71,490.02 127.34,489.94 127.97,489.87 128.6,489.78 129.23,489.7 129.86,489.62 130.5,489.53 131.13,489.44 131.76,489.35 132.39,489.26 133.02,489.16 133.65,489.06 134.28,488.96 134.91,488.85 135.54,488.74 136.17,488.62 136.8,488.5 137.44,488.37 138.07,488.23 138.7,488.09 139.33,487.95 139.96,487.8 140.59,487.64 141.22,487.47 141.85,487.3 142.48,487.13 143.11,486.94 143.75,486.75 144.38,486.55 145.01,486.35 145.64,486.13 146.27,485.91 146.9,485.68 147.53,485.45 148.16,485.21 148.79,484.95 149.42,484.69 150.06,484.43 150.69,484.15 151.32,483.87 151.95,483.58 152.58,483.28 153.21,482.97 153.84,482.65 154.47,482.33 155.1,482 155.73,481.66 156.37,481.31 157,480.95 157.63,480.58 158.26,480.21 158.89,479.83 159.52,479.44 160.15,479.05 160.78,478.64 161.41,478.23 162.04,477.81 162.68,477.38 163.31,476.95 163.94,476.51 164.57,476.06 165.2,475.6 165.83,475.14 166.46,474.67 167.09,474.19 167.72,473.71 168.35,473.21 168.99,472.71 169.62,472.21 170.25,471.69 170.88,471.17 171.51,470.63 172.14,470.09 172.77,469.54 173.4,468.98 174.03,468.4 174.66,467.82 175.3,467.22 175.93,466.61 176.56,465.99 177.19,465.35 177.82,464.69 178.45,464.02 179.08,463.32 179.71,462.61 180.34,461.88 180.97,461.12 181.61,460.33 182.24,459.53 182.87,458.69 183.5,457.82 184.13,456.92 184.76,455.98 185.39,454.98 186.02,453.92 186.65,452.79 187.28,451.59 187.92,450.32 188.55,448.97 189.18,447.54 189.81,446.04 190.44,444.45 191.07,442.8 191.7,441.06 192.33,439.26 192.96,437.4 193.59,435.48 194.23,433.52 194.86,431.52 195.49,429.51 196.12,427.49 196.75,425.48 197.38,423.5 198.01,421.56 198.64,419.69 199.27,417.89 199.9,416.18 200.54,414.58 201.17,413.09 201.8,411.73 202.43,410.5 203.06,409.4 203.69,408.43 204.32,407.59 204.95,406.88 205.58,406.28 206.21,405.8 206.85,405.42 207.48,405.12 208.11,404.9 208.74,404.72 209.37,404.56 210,404.39 210.63,404.22 211.26,404.03 211.89,403.81 212.52,403.56 213.16,403.25 213.79,402.89 214.42,402.45 215.05,401.92 215.68,401.3 216.31,400.57 216.94,399.72 217.57,398.75 218.2,397.64 218.83,396.39 219.47,394.99 220.1,393.44 220.73,391.74 221.36,389.88 221.99,387.88 222.62,385.72 223.25,383.43 223.88,381.01 224.51,378.47 225.14,375.83 225.78,373.11 226.41,370.31 227.04,367.48 227.67,364.62 228.3,361.77 228.93,358.95 229.56,356.19 230.19,353.52 230.82,350.97 231.45,348.56 232.09,346.34 232.72,344.32 233.35,342.54 233.98,341.02 234.61,339.79 235.24,338.86 235.87,338.26 236.5,338 237.13,338.09 237.76,338.55 238.4,339.39 239.03,340.74 239.66,342.75 240.29,345.41 240.92,348.69 241.55,352.55 242.18,356.95 242.81,361.82 243.44,367.13 244.07,372.79 244.71,378.74 245.34,384.91 245.97,391.23 246.6,397.63 247.23,404.05 247.86,410.42 248.49,416.69 249.12,422.8 249.75,428.7 250.38,434.37 251.02,439.76 251.65,444.86 252.28,449.64 252.91,454.09 253.54,458.2 254.17,461.98 254.8,465.44 255.43,468.57 256.06,471.4 256.69,473.93 257.33,476.18 257.96,478.18 258.59,479.94 259.22,481.48 259.85,482.83" fill="none" stroke="#35EEEE" stroke-width="1.6" stroke-linejoin="round"/>
<path d="M39,490.45 39.63,490.5 40.26,490.56 40.89,490.62 41.52,490.68 42.16,490.73 42.79,490.78 43.42,490.84 44.05,490.89 44.68,490.94 45.31,490.99 45.94,491.04 46.57,491.08 47.2,491.13 47.83,491.17 48.46,491.22 49.1,491.26 49.73,491.31 50.36,491.35 50.99,491.39 51.62,491.43 52.25,491.47 52.88,491.5 53.51,491.54 54.14,491.58 54.77,491.61 55.41,491.65 56.04,491.68 56.67,491.71 57.3,491.74 57.93,491.77 58.56,491.8 59.19,491.83 59.82,491.86 60.45,491.89 61.08,491.92 61.72,491.94 62.35,491.97 62.98,491.99 63.61,492.01 64.24,492.04 64.87,492.06 65.5,492.08 66.13,492.1 66.76,492.12 67.39,492.14 68.03,492.16 68.66,492.18 69.29,492.19 69.92,492.21 70.55,492.23 71.18,492.24 71.81,492.26 72.44,492.27 73.07,492.28 73.7,492.3 74.34,492.31 74.97,492.32 75.6,492.33 76.23,492.34 76.86,492.35 77.49,492.36 78.12,492.37 78.75,492.37 79.38,492.38 80.01,492.39 80.65,492.39 81.28,492.4 81.91,492.4 82.54,492.41 83.17,492.41 83.8,492.42 84.43,492.42 85.06,492.42 85.69,492.42 86.32,492.43 86.96,492.43 87.59,492.43 88.22,492.43 88.85,492.43 89.48,492.43 90.11,492.42 90.74,492.42 91.37,492.41 92,492.39 92.63,492.38 93.27,492.36 93.9,492.34 94.53,492.31 95.16,492.28 95.79,492.25 96.42,492.22 97.05,492.18 97.68,492.14 98.31,492.1 98.94,492.06 99.58,492.01 100.21,491.97 100.84,491.92 101.47,491.86 102.1,491.81 102.73,491.75 103.36,491.7 103.99,491.64 104.62,491.58 105.25,491.51 105.89,491.45 106.52,491.38 107.15,491.32 107.78,491.25 108.41,491.18 109.04,491.1 109.67,491.03 110.3,490.96 110.93,490.88 111.56,490.81 112.2,490.73 112.83,490.65 113.46,490.57 114.09,490.49 114.72,490.41 115.35,490.32 115.98,490.24 116.61,490.16 117.24,490.07 117.87,489.98 118.51,489.9 119.14,489.81 119.77,489.72 120.4,489.63 121.03,489.54 121.66,489.44 122.29,489.35 122.92,489.26 123.55,489.16 124.18,489.07 124.82,488.97 125.45,488.87 126.08,488.77 126.71,488.67 127.34,488.57 127.97,488.47 128.6,488.36 129.23,488.26 129.86,488.15 130.5,488.04 131.13,487.93 131.76,487.82 132.39,487.71 133.02,487.59 133.65,487.48 134.28,487.36 134.91,487.23 135.54,487.11 136.17,486.97 136.8,486.83 137.44,486.69 138.07,486.54 138.7,486.39 139.33,486.23 139.96,486.07 140.59,485.89 141.22,485.72 141.85,485.53 142.48,485.35 143.11,485.15 143.75,484.95 144.38,484.74 145.01,484.52 145.64,484.3 146.27,484.07 146.9,483.83 147.53,483.59 148.16,483.34 148.79,483.08 149.42,482.82 150.06,482.55 150.69,482.27 151.32,481.98 151.95,481.68 152.58,481.38 153.21,481.07 153.84,480.76 154.47,480.44 155.1,480.1 155.73,479.77 156.37,479.42 157,479.07 157.63,478.71 158.26,478.35 158.89,477.97 159.52,477.59 160.15,477.21 160.78,476.81 161.41,476.41 162.04,476 162.68,475.59 163.31,475.17 163.94,474.74 164.57,474.31 165.2,473.86 165.83,473.41 166.46,472.95 167.09,472.49 167.72,472.01 168.35,471.53 168.99,471.04 169.62,470.53 170.25,470.02 170.88,469.49 171.51,468.95 172.14,468.4 172.77,467.84 173.4,467.26 174.03,466.66 174.66,466.05 175.3,465.41 175.93,464.76 176.56,464.08 177.19,463.38 177.82,462.66 178.45,461.91 179.08,461.13 179.71,460.32 180.34,459.48 180.97,458.6 181.61,457.69 182.24,456.74 182.87,455.76 183.5,454.74 184.13,453.68 184.76,452.57 185.39,451.41 186.02,450.19 186.65,448.93 187.28,447.6 187.92,446.23 188.55,444.79 189.18,443.31 189.81,441.77 190.44,440.19 191.07,438.56 191.7,436.9 192.33,435.2 192.96,433.47 193.59,431.72 194.23,429.95 194.86,428.19 195.49,426.42 196.12,424.68 196.75,422.95 197.38,421.26 198.01,419.62 198.64,418.03 199.27,416.51 199.9,415.06 200.54,413.7 201.17,412.42 201.8,411.24 202.43,410.16 203.06,409.18 203.69,408.3 204.32,407.54 204.95,406.87 205.58,406.31 206.21,405.84 206.85,405.47 207.48,405.19 208.11,404.98 208.74,404.82 209.37,404.68 210,404.55 210.63,404.42 211.26,404.28 211.89,404.13 212.52,403.95 213.16,403.73 213.79,403.46 214.42,403.12 215.05,402.72 215.68,402.23 216.31,401.65 216.94,400.97 217.57,400.17 218.2,399.25 218.83,398.2 219.47,397.02 220.1,395.71 220.73,394.25 221.36,392.65 221.99,390.92 222.62,389.05 223.25,387.06 223.88,384.94 224.51,382.71 225.14,380.39 225.78,377.99 226.41,375.53 227.04,373.03 227.67,370.5 228.3,367.98 228.93,365.48 229.56,363.04 230.19,360.68 230.82,358.43 231.45,356.31 232.09,354.35 232.72,352.59 233.35,351.04 233.98,349.73 234.61,348.68 235.24,347.91 235.87,347.44 236.5,347.29 237.13,347.47 237.76,347.98 238.4,348.83 239.03,350.16 239.66,352.11 240.29,354.65 240.92,357.76 241.55,361.41 242.18,365.56 242.81,370.15 243.44,375.14 244.07,380.45 244.71,386.03 245.34,391.82 245.97,397.74 246.6,403.73 247.23,409.74 247.86,415.7 248.49,421.56 249.12,427.27 249.75,432.79 250.38,438.09 251.02,443.12 251.65,447.88 252.28,452.35 252.91,456.51 253.54,460.35 254.17,463.88 254.8,467.11 255.43,470.04 256.06,472.68 256.69,475.04 257.33,477.15 257.96,479.01 258.59,480.66 259.22,482.1 259.85,483.36" fill="none" stroke="#12128A" stroke-width="1.6" stroke-linejoin="round"/>
<path d="M39,487.08 39.63,487.18 40.26,487.28 40.89,487.38 41.52,487.48 42.16,487.58 42.79,487.68 43.42,487.77 44.05,487.87 44.68,487.96 45.31,488.05 45.94,488.14 46.57,488.23 47.2,488.32 47.83,488.4 48.46,488.49 49.1,488.57 49.73,488.65 50.36,488.73 50.99,488.81 51.62,488.89 52.25,488.97 52.88,489.05 53.51,489.12 54.14,489.19 54.77,489.27 55.41,489.34 56.04,489.41 56.67,489.48 57.3,489.54 57.93,489.61 58.56,489.67 59.19,489.74 59.82,489.8 60.45,489.86 61.08,489.92 61.72,489.98 62.35,490.03 62.98,490.09 63.61,490.14 64.24,490.2 64.87,490.25 65.5,490.3 66.13,490.35 66.76,490.4 67.39,490.44 68.03,490.49 68.66,490.53 69.29,490.57 69.92,490.62 70.55,490.66 71.18,490.69 71.81,490.73 72.44,490.77 73.07,490.8 73.7,490.84 74.34,490.87 74.97,490.9 75.6,490.93 76.23,490.96 76.86,490.98 77.49,491.01 78.12,491.03 78.75,491.06 79.38,491.08 80.01,491.1 80.65,491.12 81.28,491.14 81.91,491.15 82.54,491.17 83.17,491.18 83.8,491.19 84.43,491.2 85.06,491.21 85.69,491.22 86.32,491.23 86.96,491.23 87.59,491.24 88.22,491.24 88.85,491.24 89.48,491.24 90.11,491.23 90.74,491.23 91.37,491.22 92,491.2 92.63,491.19 93.27,491.17 93.9,491.14 94.53,491.11 95.16,491.08 95.79,491.05 96.42,491.01 97.05,490.98 97.68,490.93 98.31,490.89 98.94,490.84 99.58,490.79 100.21,490.74 100.84,490.69 101.47,490.63 102.1,490.57 102.73,490.51 103.36,490.45 103.99,490.39 104.62,490.32 105.25,490.25 105.89,490.18 106.52,490.11 107.15,490.04 107.78,489.97 108.41,489.89 109.04,489.82 109.67,489.74 110.3,489.66 110.93,489.58 111.56,489.5 112.2,489.41 112.83,489.33 113.46,489.24 114.09,489.16 114.72,489.07 115.35,488.98 115.98,488.9 116.61,488.81 117.24,488.72 117.87,488.63 118.51,488.53 119.14,488.44 119.77,488.35 120.4,488.25 121.03,488.16 121.66,488.06 122.29,487.97 122.92,487.87 123.55,487.77 124.18,487.67 124.82,487.57 125.45,487.47 126.08,487.37 126.71,487.27 127.34,487.17 127.97,487.07 128.6,486.96 129.23,486.86 129.86,486.75 130.5,486.64 131.13,486.53 131.76,486.42 132.39,486.31 133.02,486.2 133.65,486.09 134.28,485.98 134.91,485.86 135.54,485.74 136.17,485.61 136.8,485.48 137.44,485.35 138.07,485.21 138.7,485.07 139.33,484.92 139.96,484.77 140.59,484.62 141.22,484.45 141.85,484.29 142.48,484.12 143.11,483.94 143.75,483.76 144.38,483.57 145.01,483.38 145.64,483.18 146.27,482.98 146.9,482.77 147.53,482.55 148.16,482.33 148.79,482.1 149.42,481.86 150.06,481.62 150.69,481.37 151.32,481.12 151.95,480.86 152.58,480.59 153.21,480.32 153.84,480.04 154.47,479.75 155.1,479.46 155.73,479.16 156.37,478.86 157,478.55 157.63,478.23 158.26,477.91 158.89,477.58 159.52,477.24 160.15,476.9 160.78,476.55 161.41,476.19 162.04,475.83 162.68,475.46 163.31,475.08 163.94,474.7 164.57,474.31 165.2,473.91 165.83,473.51 166.46,473.1 167.09,472.67 167.72,472.24 168.35,471.8 168.99,471.35 169.62,470.88 170.25,470.41 170.88,469.92 171.51,469.41 172.14,468.89 172.77,468.36 173.4,467.8 174.03,467.23 174.66,466.64 175.3,466.02 175.93,465.38 176.56,464.71 177.19,464.02 177.82,463.3 178.45,462.54 179.08,461.76 179.71,460.93 180.34,460.08 180.97,459.18 181.61,458.24 182.24,457.27 182.87,456.25 183.5,455.18 184.13,454.07 184.76,452.92 185.39,451.71 186.02,450.45 186.65,449.14 187.28,447.77 187.92,446.35 188.55,444.88 189.18,443.36 189.81,441.8 190.44,440.19 191.07,438.54 191.7,436.86 192.33,435.15 192.96,433.42 193.59,431.67 194.23,429.91 194.86,428.15 195.49,426.4 196.12,424.66 196.75,422.95 197.38,421.28 198.01,419.65 198.64,418.07 199.27,416.56 199.9,415.12 200.54,413.76 201.17,412.48 201.8,411.29 202.43,410.2 203.06,409.21 203.69,408.33 204.32,407.55 204.95,406.87 205.58,406.3 206.21,405.82 206.85,405.45 207.48,405.17 208.11,404.97 208.74,404.83 209.37,404.71 210,404.62 210.63,404.53 211.26,404.45 211.89,404.37 212.52,404.26 213.16,404.13 213.79,403.96 214.42,403.75 215.05,403.47 215.68,403.13 216.31,402.7 216.94,402.19 217.57,401.58 218.2,400.86 218.83,400.03 219.47,399.08 220.1,398.01 220.73,396.81 221.36,395.49 221.99,394.05 222.62,392.48 223.25,390.79 223.88,389 224.51,387.1 225.14,385.12 225.78,383.06 226.41,380.95 227.04,378.79 227.67,376.61 228.3,374.44 228.93,372.29 229.56,370.18 230.19,368.14 230.82,366.21 231.45,364.39 232.09,362.72 232.72,361.22 233.35,359.91 233.98,358.82 234.61,357.97 235.24,357.37 235.87,357.05 236.5,357.01 237.13,357.27 237.76,357.83 238.4,358.71 239.03,360.02 239.66,361.89 240.29,364.31 240.92,367.26 241.55,370.69 242.18,374.58 242.81,378.87 243.44,383.52 244.07,388.48 244.71,393.67 245.34,399.05 245.97,404.55 246.6,410.12 247.23,415.69 247.86,421.22 248.49,426.66 249.12,431.95 249.75,437.07 250.38,441.98 251.02,446.64 251.65,451.05 252.28,455.19 252.91,459.04 253.54,462.6 254.17,465.87 254.8,468.86 255.43,471.57 256.06,474.02 256.69,476.21 257.33,478.16 257.96,479.89 258.59,481.41 259.22,482.75 259.85,483.91" fill="none" stroke="#EE1515" stroke-width="1.6" stroke-linejoin="round"/>
<path d="M39,490.45 39.63,490.51 40.26,490.56 40.89,490.62 41.52,490.68 42.16,490.73 42.79,490.79 43.42,490.84 44.05,490.89 44.68,490.94 45.31,490.99 45.94,491.04 46.57,491.09 47.2,491.13 47.83,491.18 48.46,491.22 49.1,491.27 49.73,491.31 50.36,491.35 50.99,491.39 51.62,491.43 52.25,491.47 52.88,491.51 53.51,491.55 54.14,491.58 54.77,491.62 55.41,491.65 56.04,491.69 56.67,491.72 57.3,491.75 57.93,491.78 58.56,491.81 59.19,491.84 59.82,491.87 60.45,491.9 61.08,491.92 61.72,491.95 62.35,491.97 62.98,492 63.61,492.02 64.24,492.04 64.87,492.07 65.5,492.09 66.13,492.11 66.76,492.13 67.39,492.15 68.03,492.16 68.66,492.18 69.29,492.2 69.92,492.21 70.55,492.23 71.18,492.25 71.81,492.26 72.44,492.27 73.07,492.29 73.7,492.3 74.34,492.31 74.97,492.32 75.6,492.33 76.23,492.34 76.86,492.35 77.49,492.36 78.12,492.37 78.75,492.38 79.38,492.38 80.01,492.39 80.65,492.4 81.28,492.4 81.91,492.41 82.54,492.41 83.17,492.41 83.8,492.42 84.43,492.42 85.06,492.42 85.69,492.42 86.32,492.43 86.96,492.43 87.59,492.43 88.22,492.43 88.85,492.43 89.48,492.43 90.11,492.42 90.74,492.42 91.37,492.41 92,492.39 92.63,492.38 93.27,492.36 93.9,492.33 94.53,492.31 95.16,492.28 95.79,492.25 96.42,492.21 97.05,492.18 97.68,492.14 98.31,492.1 98.94,492.05 99.58,492 100.21,491.96 100.84,491.9 101.47,491.85 102.1,491.8 102.73,491.74 103.36,491.68 103.99,491.62 104.62,491.56 105.25,491.49 105.89,491.43 106.52,491.36 107.15,491.29 107.78,491.22 108.41,491.15 109.04,491.07 109.67,491 110.3,490.93 110.93,490.85 111.56,490.77 112.2,490.69 112.83,490.61 113.46,490.53 114.09,490.45 114.72,490.37 115.35,490.28 115.98,490.2 116.61,490.11 117.24,490.03 117.87,489.94 118.51,489.85 119.14,489.76 119.77,489.67 120.4,489.58 121.03,489.49 121.66,489.4 122.29,489.3 122.92,489.21 123.55,489.12 124.18,489.02 124.82,488.92 125.45,488.83 126.08,488.73 126.71,488.63 127.34,488.53 127.97,488.43 128.6,488.33 129.23,488.23 129.86,488.12 130.5,488.02 131.13,487.91 131.76,487.8 132.39,487.7 133.02,487.59 133.65,487.48 134.28,487.36 134.91,487.25 135.54,487.12 136.17,487 136.8,486.87 137.44,486.73 138.07,486.59 138.7,486.45 139.33,486.3 139.96,486.15 140.59,485.99 141.22,485.82 141.85,485.65 142.48,485.47 143.11,485.29 143.75,485.11 144.38,484.91 145.01,484.71 145.64,484.51 146.27,484.29 146.9,484.08 147.53,483.85 148.16,483.62 148.79,483.38 149.42,483.14 150.06,482.89 150.69,482.64 151.32,482.37 151.95,482.1 152.58,481.83 153.21,481.55 153.84,481.26 154.47,480.96 155.1,480.66 155.73,480.36 156.37,480.04 157,479.72 157.63,479.4 158.26,479.06 158.89,478.73 159.52,478.38 160.15,478.03 160.78,477.67 161.41,477.31 162.04,476.94 162.68,476.56 163.31,476.17 163.94,475.78 164.57,475.38 165.2,474.98 165.83,474.56 166.46,474.14 167.09,473.71 167.72,473.26 168.35,472.81 168.99,472.35 169.62,471.87 170.25,471.38 170.88,470.88 171.51,470.36 172.14,469.82 172.77,469.27 173.4,468.7 174.03,468.11 174.66,467.49 175.3,466.86 175.93,466.19 176.56,465.5 177.19,464.78 177.82,464.03 178.45,463.25 179.08,462.43 179.71,461.57 180.34,460.68 180.97,459.75 181.61,458.77 182.24,457.76 182.87,456.7 183.5,455.59 184.13,454.44 184.76,453.23 185.39,451.98 186.02,450.68 186.65,449.32 187.28,447.92 187.92,446.46 188.55,444.96 189.18,443.41 189.81,441.82 190.44,440.19 191.07,438.52 191.7,436.82 192.33,435.1 192.96,433.36 193.59,431.61 194.23,429.85 194.86,428.09 195.49,426.34 196.12,424.61 196.75,422.91 197.38,421.24 198.01,419.62 198.64,418.05 199.27,416.54 199.9,415.1 200.54,413.74 201.17,412.47 201.8,411.28 202.43,410.19 203.06,409.19 203.69,408.3 204.32,407.52 204.95,406.83 205.58,406.26 206.21,405.78 206.85,405.4 207.48,405.12 208.11,404.93 208.74,404.8 209.37,404.69 210,404.62 210.63,404.55 211.26,404.5 211.89,404.45 212.52,404.38 213.16,404.29 213.79,404.17 214.42,404.01 215.05,403.79 215.68,403.52 216.31,403.17 216.94,402.74 217.57,402.21 218.2,401.59 218.83,400.86 219.47,400.02 220.1,399.07 220.73,398 221.36,396.81 221.99,395.5 222.62,394.07 223.25,392.53 223.88,390.89 224.51,389.15 225.14,387.33 225.78,385.43 226.41,383.48 227.04,381.49 227.67,379.48 228.3,377.47 228.93,375.48 229.56,373.53 230.19,371.65 230.82,369.86 231.45,368.19 232.09,366.65 232.72,365.28 233.35,364.09 233.98,363.11 234.61,362.35 235.24,361.83 235.87,361.57 236.5,361.59 237.13,361.89 237.76,362.48 238.4,363.36 239.03,364.67 239.66,366.51 240.29,368.87 240.92,371.73 241.55,375.06 242.18,378.83 242.81,382.98 243.44,387.48 244.07,392.26 244.71,397.27 245.34,402.46 245.97,407.76 246.6,413.13 247.23,418.5 247.86,423.83 248.49,429.06 249.12,434.16 249.75,439.09 250.38,443.81 251.02,448.3 251.65,452.55 252.28,456.53 252.91,460.23 253.54,463.66 254.17,466.81 254.8,469.69 255.43,472.3 256.06,474.65 256.69,476.75 257.33,478.63 257.96,480.3 258.59,481.76 259.22,483.05 259.85,484.17" fill="none" stroke="#FFF200" stroke-width="1.6" stroke-linejoin="round"/>
<path d="M39,490.45 39.63,490.51 40.26,490.56 40.89,490.62 41.52,490.68 42.16,490.73 42.79,490.79 43.42,490.84 44.05,490.89 44.68,490.94 45.31,490.99 45.94,491.04 46.57,491.09 47.2,491.14 47.83,491.18 48.46,491.23 49.1,491.27 49.73,491.31 50.36,491.35 50.99,491.39 51.62,491.43 52.25,491.47 52.88,491.51 53.51,491.55 54.14,491.58 54.77,491.62 55.41,491.65 56.04,491.69 56.67,491.72 57.3,491.75 57.93,491.78 58.56,491.81 59.19,491.84 59.82,491.87 60.45,491.9 61.08,491.92 61.72,491.95 62.35,491.97 62.98,492 63.61,492.02 64.24,492.04 64.87,492.07 65.5,492.09 66.13,492.11 66.76,492.13 67.39,492.15 68.03,492.16 68.66,492.18 69.29,492.2 69.92,492.22 70.55,492.23 71.18,492.25 71.81,492.26 72.44,492.27 73.07,492.29 73.7,492.3 74.34,492.31 74.97,492.32 75.6,492.33 76.23,492.34 76.86,492.35 77.49,492.36 78.12,492.37 78.75,492.38 79.38,492.38 80.01,492.39 80.65,492.4 81.28,492.4 81.91,492.41 82.54,492.41 83.17,492.41 83.8,492.42 84.43,492.42 85.06,492.42 85.69,492.42 86.32,492.43 86.96,492.43 87.59,492.43 88.22,492.43 88.85,492.43 89.48,492.43 90.11,492.42 90.74,492.42 91.37,492.41 92,492.39 92.63,492.38 93.27,492.36 93.9,492.33 94.53,492.31 95.16,492.28 95.79,492.25 96.42,492.21 97.05,492.18 97.68,492.14 98.31,492.09 98.94,492.05 99.58,492 100.21,491.95 100.84,491.9 101.47,491.85 102.1,491.79 102.73,491.74 103.36,491.68 103.99,491.62 104.62,491.55 105.25,491.49 105.89,491.42 106.52,491.36 107.15,491.29 107.78,491.22 108.41,491.14 109.04,491.07 109.67,491 110.3,490.92 110.93,490.84 111.56,490.77 112.2,490.69 112.83,490.61 113.46,490.52 114.09,490.44 114.72,490.36 115.35,490.28 115.98,490.19 116.61,490.11 117.24,490.02 117.87,489.93 118.51,489.84 119.14,489.75 119.77,489.66 120.4,489.57 121.03,489.48 121.66,489.39 122.29,489.3 122.92,489.2 123.55,489.11 124.18,489.01 124.82,488.92 125.45,488.82 126.08,488.72 126.71,488.62 127.34,488.52 127.97,488.42 128.6,488.32 129.23,488.22 129.86,488.12 130.5,488.01 131.13,487.91 131.76,487.8 132.39,487.69 133.02,487.59 133.65,487.48 134.28,487.36 134.91,487.25 135.54,487.13 136.17,487 136.8,486.87 137.44,486.74 138.07,486.6 138.7,486.46 139.33,486.31 139.96,486.16 140.59,486 141.22,485.84 141.85,485.67 142.48,485.49 143.11,485.31 143.75,485.13 144.38,484.94 145.01,484.74 145.64,484.53 146.27,484.32 146.9,484.11 147.53,483.89 148.16,483.66 148.79,483.42 149.42,483.18 150.06,482.94 150.69,482.68 151.32,482.42 151.95,482.16 152.58,481.89 153.21,481.61 153.84,481.32 154.47,481.03 155.1,480.74 155.73,480.43 156.37,480.12 157,479.81 157.63,479.48 158.26,479.16 158.89,478.82 159.52,478.48 160.15,478.13 160.78,477.78 161.41,477.42 162.04,477.05 162.68,476.68 163.31,476.3 163.94,475.91 164.57,475.52 165.2,475.11 165.83,474.7 166.46,474.28 167.09,473.85 167.72,473.42 168.35,472.97 168.99,472.5 169.62,472.03 170.25,471.54 170.88,471.04 171.51,470.53 172.14,469.99 172.77,469.44 173.4,468.87 174.03,468.28 174.66,467.67 175.3,467.03 175.93,466.36 176.56,465.67 177.19,464.95 177.82,464.19 178.45,463.41 179.08,462.58 179.71,461.72 180.34,460.82 180.97,459.88 181.61,458.9 182.24,457.88 182.87,456.8 183.5,455.69 184.13,454.52 184.76,453.31 185.39,452.05 186.02,450.73 186.65,449.37 187.28,447.95 187.92,446.49 188.55,444.98 189.18,443.42 189.81,441.82 190.44,440.19 191.07,438.52 191.7,436.81 192.33,435.09 192.96,433.35 193.59,431.59 194.23,429.83 194.86,428.07 195.49,426.33 196.12,424.6 196.75,422.9 197.38,421.23 198.01,419.61 198.64,418.04 199.27,416.54 199.9,415.1 200.54,413.74 201.17,412.46 201.8,411.27 202.43,410.18 203.06,409.19 203.69,408.29 204.32,407.5 204.95,406.82 205.58,406.24 206.21,405.76 206.85,405.38 207.48,405.1 208.11,404.91 208.74,404.78 209.37,404.68 210,404.61 210.63,404.56 211.26,404.51 211.89,404.47 212.52,404.42 213.16,404.34 213.79,404.24 214.42,404.1 215.05,403.9 215.68,403.65 216.31,403.33 216.94,402.92 217.57,402.43 218.2,401.84 218.83,401.15 219.47,400.35 220.1,399.44 220.73,398.41 221.36,397.26 221.99,396 222.62,394.62 223.25,393.14 223.88,391.55 224.51,389.86 225.14,388.1 225.78,386.26 226.41,384.37 227.04,382.43 227.67,380.48 228.3,378.53 228.93,376.59 229.56,374.7 230.19,372.87 230.82,371.14 231.45,369.51 232.09,368.02 232.72,366.69 233.35,365.54 233.98,364.6 234.61,363.87 235.24,363.38 235.87,363.15 236.5,363.18 237.13,363.5 237.76,364.09 238.4,364.98 239.03,366.28 239.66,368.11 240.29,370.45 240.92,373.29 241.55,376.58 242.18,380.31 242.81,384.41 243.44,388.85 244.07,393.58 244.71,398.53 245.34,403.65 245.97,408.88 246.6,414.18 247.23,419.48 247.86,424.73 248.49,429.9 249.12,434.93 249.75,439.79 250.38,444.45 251.02,448.88 251.65,453.07 252.28,457 252.91,460.65 253.54,464.03 254.17,467.14 254.8,469.97 255.43,472.55 256.06,474.87 256.69,476.95 257.33,478.8 257.96,480.44 258.59,481.89 259.22,483.16 259.85,484.26" fill="none" stroke="#808010" stroke-width="1.6" stroke-linejoin="round"/>
<path d="M39,487.08 39.63,487.2 40.26,487.31 40.89,487.42 41.52,487.53 42.16,487.64 42.79,487.74 43.42,487.85 44.05,487.95 44.68,488.05 45.31,488.15 45.94,488.24 46.57,488.34 47.2,488.43 47.83,488.52 48.46,488.61 49.1,488.7 49.73,488.79 50.36,488.87 50.99,488.95 51.62,489.04 52.25,489.12 52.88,489.19 53.51,489.27 54.14,489.34 54.77,489.42 55.41,489.49 56.04,489.56 56.67,489.63 57.3,489.69 57.93,489.76 58.56,489.82 59.19,489.88 59.82,489.94 60.45,490 61.08,490.06 61.72,490.11 62.35,490.17 62.98,490.22 63.61,490.27 64.24,490.32 64.87,490.37 65.5,490.42 66.13,490.46 66.76,490.51 67.39,490.55 68.03,490.59 68.66,490.63 69.29,490.67 69.92,490.71 70.55,490.74 71.18,490.78 71.81,490.81 72.44,490.84 73.07,490.87 73.7,490.9 74.34,490.93 74.97,490.96 75.6,490.98 76.23,491.01 76.86,491.03 77.49,491.05 78.12,491.07 78.75,491.09 79.38,491.11 80.01,491.12 80.65,491.14 81.28,491.15 81.91,491.17 82.54,491.18 83.17,491.19 83.8,491.2 84.43,491.21 85.06,491.22 85.69,491.22 86.32,491.23 86.96,491.23 87.59,491.24 88.22,491.24 88.85,491.24 89.48,491.24 90.11,491.23 90.74,491.23 91.37,491.21 92,491.19 92.63,491.16 93.27,491.13 93.9,491.1 94.53,491.06 95.16,491.01 95.79,490.96 96.42,490.91 97.05,490.85 97.68,490.79 98.31,490.73 98.94,490.66 99.58,490.58 100.21,490.51 100.84,490.43 101.47,490.35 102.1,490.26 102.73,490.17 103.36,490.08 103.99,489.99 104.62,489.9 105.25,489.8 105.89,489.7 106.52,489.6 107.15,489.49 107.78,489.39 108.41,489.28 109.04,489.18 109.67,489.07 110.3,488.96 110.93,488.85 111.56,488.73 112.2,488.62 112.83,488.51 113.46,488.39 114.09,488.28 114.72,488.17 115.35,488.05 115.98,487.94 116.61,487.82 117.24,487.71 117.87,487.6 118.51,487.48 119.14,487.37 119.77,487.26 120.4,487.15 121.03,487.04 121.66,486.93 122.29,486.82 122.92,486.71 123.55,486.6 124.18,486.5 124.82,486.39 125.45,486.29 126.08,486.19 126.71,486.09 127.34,485.99 127.97,485.89 128.6,485.8 129.23,485.7 129.86,485.61 130.5,485.52 131.13,485.43 131.76,485.35 132.39,485.26 133.02,485.18 133.65,485.1 134.28,485.02 134.91,484.94 135.54,484.86 136.17,484.77 136.8,484.69 137.44,484.6 138.07,484.51 138.7,484.42 139.33,484.32 139.96,484.23 140.59,484.13 141.22,484.02 141.85,483.92 142.48,483.81 143.11,483.7 143.75,483.58 144.38,483.46 145.01,483.33 145.64,483.21 146.27,483.07 146.9,482.93 147.53,482.79 148.16,482.65 148.79,482.5 149.42,482.34 150.06,482.18 150.69,482.01 151.32,481.84 151.95,481.66 152.58,481.48 153.21,481.29 153.84,481.1 154.47,480.9 155.1,480.69 155.73,480.48 156.37,480.27 157,480.05 157.63,479.82 158.26,479.58 158.89,479.35 159.52,479.1 160.15,478.85 160.78,478.59 161.41,478.33 162.04,478.06 162.68,477.79 163.31,477.51 163.94,477.22 164.57,476.93 165.2,476.63 165.83,476.33 166.46,476.02 167.09,475.7 167.72,475.38 168.35,475.05 168.99,474.71 169.62,474.37 170.25,474.02 170.88,473.66 171.51,473.29 172.14,472.91 172.77,472.53 173.4,472.13 174.03,471.72 174.66,471.31 175.3,470.87 175.93,470.43 176.56,469.97 177.19,469.49 177.82,469 178.45,468.49 179.08,467.96 179.71,467.41 180.34,466.84 180.97,466.24 181.61,465.62 182.24,464.97 182.87,464.29 183.5,463.59 184.13,462.85 184.76,462.07 185.39,461.23 186.02,460.32 186.65,459.36 187.28,458.32 187.92,457.21 188.55,456.03 189.18,454.77 189.81,453.43 190.44,452.01 191.07,450.52 191.7,448.95 192.33,447.31 192.96,445.6 193.59,443.83 194.23,442.02 194.86,440.17 195.49,438.29 196.12,436.39 196.75,434.51 197.38,432.64 198.01,430.81 198.64,429.03 199.27,427.33 199.9,425.7 200.54,424.18 201.17,422.76 201.8,421.46 202.43,420.28 203.06,419.23 203.69,418.31 204.32,417.51 204.95,416.84 205.58,416.28 206.21,415.83 206.85,415.48 207.48,415.22 208.11,415.04 208.74,414.9 209.37,414.79 210,414.68 210.63,414.59 211.26,414.49 211.89,414.38 212.52,414.25 213.16,414.08 213.79,413.88 214.42,413.63 215.05,413.32 215.68,412.95 216.31,412.49 216.94,411.95 217.57,411.31 218.2,410.58 218.83,409.73 219.47,408.78 220.1,407.7 220.73,406.51 221.36,405.21 221.99,403.78 222.62,402.24 223.25,400.59 223.88,398.84 224.51,397 225.14,395.08 225.78,393.08 226.41,391.04 227.04,388.95 227.67,386.85 228.3,384.75 228.93,382.67 229.56,380.64 230.19,378.68 230.82,376.8 231.45,375.05 232.09,373.42 232.72,371.96 233.35,370.68 233.98,369.61 234.61,368.76 235.24,368.14 235.87,367.78 236.5,367.69 237.13,367.87 237.76,368.34 238.4,369.11 239.03,370.27 239.66,371.97 240.29,374.16 240.92,376.85 241.55,380 242.18,383.56 242.81,387.51 243.44,391.79 244.07,396.35 244.71,401.13 245.34,406.09 245.97,411.16 246.6,416.3 247.23,421.44 247.86,426.55 248.49,431.56 249.12,436.45 249.75,441.18 250.38,445.71 251.02,450.03 251.65,454.1 252.28,457.92 252.91,461.48 253.54,464.77 254.17,467.79 254.8,470.56 255.43,473.06 256.06,475.32 256.69,477.34 257.33,479.14 257.96,480.74 258.59,482.15 259.22,483.38 259.85,484.46" fill="none" stroke="#801080" stroke-width="1.6" stroke-linejoin="round"/>
<line x1="45.2" y1="317.4" x2="104.3" y2="317.4" stroke="#888" stroke-width="1"/>
<line x1="104.3" y1="317.4" x2="104.3" y2="425" stroke="#888" stroke-width="1"/>
<line x1="50.2" y1="327.6" x2="70.8" y2="327.6" stroke="#000000" stroke-width="1.8"/>
<text transform="translate(72.75,330.6) scale(0.9200,1)" font-size="9.400" font-weight="normal" fill="#222">MB</text>
<line x1="50.2" y1="340.2" x2="70.8" y2="340.2" stroke="#F5862C" stroke-width="1.8"/>
<text transform="translate(72.6,343.5) scale(0.9618,1)" font-size="10.200" font-weight="normal" fill="#222">C</text>
<text transform="translate(78.04,347.04) scale(1.1543,1)" font-size="5.928" font-weight="normal" fill="#444">0</text>
<line x1="50.2" y1="355.8" x2="70.8" y2="355.8" stroke="#35EEEE" stroke-width="1.8"/>
<text transform="translate(72.62,358.8) scale(0.9200,1)" font-size="9.400" font-weight="normal" fill="#222">20 min</text>
<line x1="50.2" y1="368.2" x2="70.8" y2="368.2" stroke="#12128A" stroke-width="1.8"/>
<text transform="translate(72.83,371.2) scale(0.9200,1)" font-size="9.400" font-weight="normal" fill="#222">40 min</text>
<line x1="50.2" y1="381.1" x2="70.8" y2="381.1" stroke="#EE1515" stroke-width="1.8"/>
<text transform="translate(72.63,384.1) scale(0.9200,1)" font-size="9.400" font-weight="normal" fill="#222">60 min</text>
<line x1="50.2" y1="394" x2="70.8" y2="394" stroke="#FFF200" stroke-width="1.8"/>
<text transform="translate(72.67,397) scale(0.9200,1)" font-size="9.400" font-weight="normal" fill="#222">80 min</text>
<line x1="50.2" y1="406.4" x2="70.8" y2="406.4" stroke="#808010" stroke-width="1.8"/>
<text transform="translate(72.24,409.4) scale(0.9200,1)" font-size="9.400" font-weight="normal" fill="#222">100 min</text>
<line x1="50.2" y1="419.3" x2="70.8" y2="419.3" stroke="#801080" stroke-width="1.8"/>
<text transform="translate(72.24,422.3) scale(0.9200,1)" font-size="9.400" font-weight="normal" fill="#222">120 min</text>
<rect x="39" y="277.2" width="252.4" height="217.8" fill="none" stroke="#000" stroke-width="2.2"/>
<line x1="39" y1="495" x2="39" y2="500.5" stroke="#000" stroke-width="2.2"/>
<text transform="translate(30.96,511.3) scale(0.8300,1)" font-size="12.300" font-weight="bold" fill="#000">350</text>
<line x1="54.77" y1="495" x2="54.77" y2="499" stroke="#000" stroke-width="2.2"/>
<line x1="70.55" y1="495" x2="70.55" y2="500.5" stroke="#000" stroke-width="2.2"/>
<text transform="translate(62.88,511.3) scale(0.8300,1)" font-size="12.300" font-weight="bold" fill="#000">400</text>
<line x1="86.32" y1="495" x2="86.32" y2="499" stroke="#000" stroke-width="2.2"/>
<line x1="102.1" y1="495" x2="102.1" y2="500.5" stroke="#000" stroke-width="2.2"/>
<text transform="translate(94.43,511.3) scale(0.8300,1)" font-size="12.300" font-weight="bold" fill="#000">450</text>
<line x1="117.87" y1="495" x2="117.87" y2="499" stroke="#000" stroke-width="2.2"/>
<line x1="133.65" y1="495" x2="133.65" y2="500.5" stroke="#000" stroke-width="2.2"/>
<text transform="translate(125.57,511.3) scale(0.8300,1)" font-size="12.300" font-weight="bold" fill="#000">500</text>
<line x1="149.42" y1="495" x2="149.42" y2="499" stroke="#000" stroke-width="2.2"/>
<line x1="165.2" y1="495" x2="165.2" y2="500.5" stroke="#000" stroke-width="2.2"/>
<text transform="translate(157.12,511.3) scale(0.8300,1)" font-size="12.300" font-weight="bold" fill="#000">550</text>
<line x1="180.97" y1="495" x2="180.97" y2="499" stroke="#000" stroke-width="2.2"/>
<line x1="196.75" y1="495" x2="196.75" y2="500.5" stroke="#000" stroke-width="2.2"/>
<text transform="translate(188.76,511.3) scale(0.8300,1)" font-size="12.300" font-weight="bold" fill="#000">600</text>
<line x1="212.52" y1="495" x2="212.52" y2="499" stroke="#000" stroke-width="2.2"/>
<line x1="228.3" y1="495" x2="228.3" y2="500.5" stroke="#000" stroke-width="2.2"/>
<text transform="translate(220.31,511.3) scale(0.8300,1)" font-size="12.300" font-weight="bold" fill="#000">650</text>
<line x1="244.07" y1="495" x2="244.07" y2="499" stroke="#000" stroke-width="2.2"/>
<line x1="259.85" y1="495" x2="259.85" y2="500.5" stroke="#000" stroke-width="2.2"/>
<text transform="translate(251.51,511.3) scale(0.8300,1)" font-size="12.300" font-weight="bold" fill="#000">700</text>
<line x1="275.62" y1="495" x2="275.62" y2="499" stroke="#000" stroke-width="2.2"/>
<line x1="291.4" y1="495" x2="291.4" y2="500.5" stroke="#000" stroke-width="2.2"/>
<text transform="translate(283.06,511.3) scale(0.8300,1)" font-size="12.300" font-weight="bold" fill="#000">750</text>
<line x1="33.5" y1="495" x2="39" y2="495" stroke="#000" stroke-width="2.2"/>
<text transform="translate(20.23,498.5) scale(0.8300,1)" font-size="12.300" font-weight="bold" fill="#000">0.0</text>
<line x1="35" y1="475.2" x2="39" y2="475.2" stroke="#000" stroke-width="2.2"/>
<line x1="33.5" y1="455.4" x2="39" y2="455.4" stroke="#000" stroke-width="2.2"/>
<text transform="translate(20.28,458.9) scale(0.8300,1)" font-size="12.300" font-weight="bold" fill="#000">0.2</text>
<line x1="35" y1="435.6" x2="39" y2="435.6" stroke="#000" stroke-width="2.2"/>
<line x1="33.5" y1="415.8" x2="39" y2="415.8" stroke="#000" stroke-width="2.2"/>
<text transform="translate(20.03,419.3) scale(0.8300,1)" font-size="12.300" font-weight="bold" fill="#000">0.4</text>
<line x1="35" y1="396" x2="39" y2="396" stroke="#000" stroke-width="2.2"/>
<line x1="33.5" y1="376.2" x2="39" y2="376.2" stroke="#000" stroke-width="2.2"/>
<text transform="translate(20.14,379.7) scale(0.8300,1)" font-size="12.300" font-weight="bold" fill="#000">0.6</text>
<line x1="35" y1="356.4" x2="39" y2="356.4" stroke="#000" stroke-width="2.2"/>
<line x1="33.5" y1="336.6" x2="39" y2="336.6" stroke="#000" stroke-width="2.2"/>
<text transform="translate(20.18,340.1) scale(0.8300,1)" font-size="12.300" font-weight="bold" fill="#000">0.8</text>
<line x1="35" y1="316.8" x2="39" y2="316.8" stroke="#000" stroke-width="2.2"/>
<line x1="33.5" y1="297" x2="39" y2="297" stroke="#000" stroke-width="2.2"/>
<text transform="translate(20.23,300.5) scale(0.8300,1)" font-size="12.300" font-weight="bold" fill="#000">1.0</text>
<line x1="35" y1="277.2" x2="39" y2="277.2" stroke="#000" stroke-width="2.2"/>
<text transform="translate(49.75,303.72) scale(1.0254,1)" font-size="23.381" font-weight="normal" fill="#000">(c)</text>
<text transform="translate(118.84,530.2) scale(0.8426,1)" font-size="13.130" font-weight="bold" fill="#000">Wavelength (nm)</text>
<text transform="translate(9.8,434.33) rotate(-90) scale(1.0001,0.8000)" font-size="13.200" font-weight="bold" fill="#000">Absorbance (a.u)</text>
<path d="M341.8,486.46 342.43,486.54 343.06,486.61 343.69,486.69 344.32,486.76 344.95,486.84 345.58,486.91 346.21,486.98 346.84,487.05 347.47,487.12 348.11,487.19 348.74,487.26 349.37,487.33 350,487.4 350.63,487.46 351.26,487.53 351.89,487.59 352.52,487.66 353.15,487.72 353.78,487.78 354.41,487.84 355.04,487.91 355.67,487.96 356.3,488.02 356.93,488.08 357.56,488.14 358.19,488.2 358.82,488.25 359.45,488.3 360.08,488.36 360.72,488.41 361.35,488.46 361.98,488.51 362.61,488.56 363.24,488.61 363.87,488.66 364.5,488.71 365.13,488.75 365.76,488.8 366.39,488.84 367.02,488.89 367.65,488.93 368.28,488.97 368.91,489.01 369.54,489.05 370.17,489.09 370.8,489.12 371.43,489.16 372.06,489.2 372.69,489.23 373.32,489.26 373.96,489.3 374.59,489.33 375.22,489.36 375.85,489.39 376.48,489.41 377.11,489.44 377.74,489.47 378.37,489.49 379,489.51 379.63,489.54 380.26,489.56 380.89,489.58 381.52,489.6 382.15,489.61 382.78,489.63 383.41,489.65 384.04,489.66 384.67,489.67 385.3,489.69 385.94,489.7 386.57,489.71 387.2,489.71 387.83,489.72 388.46,489.73 389.09,489.73 389.72,489.73 390.35,489.73 390.98,489.73 391.61,489.73 392.24,489.73 392.87,489.73 393.5,489.72 394.13,489.71 394.76,489.7 395.39,489.68 396.02,489.67 396.65,489.65 397.28,489.62 397.91,489.6 398.55,489.58 399.18,489.55 399.81,489.52 400.44,489.49 401.07,489.45 401.7,489.42 402.33,489.38 402.96,489.34 403.59,489.3 404.22,489.25 404.85,489.2 405.48,489.16 406.11,489.11 406.74,489.05 407.37,489 408,488.94 408.63,488.88 409.26,488.82 409.89,488.76 410.52,488.69 411.15,488.63 411.79,488.56 412.42,488.48 413.05,488.41 413.68,488.33 414.31,488.25 414.94,488.17 415.57,488.09 416.2,488 416.83,487.91 417.46,487.82 418.09,487.72 418.72,487.62 419.35,487.52 419.98,487.42 420.61,487.31 421.24,487.2 421.87,487.08 422.5,486.96 423.13,486.84 423.76,486.71 424.4,486.58 425.03,486.45 425.66,486.31 426.29,486.17 426.92,486.02 427.55,485.87 428.18,485.71 428.81,485.55 429.44,485.39 430.07,485.22 430.7,485.04 431.33,484.86 431.96,484.67 432.59,484.48 433.22,484.28 433.85,484.07 434.48,483.86 435.11,483.64 435.74,483.42 436.38,483.19 437.01,482.95 437.64,482.71 438.27,482.45 438.9,482.19 439.53,481.92 440.16,481.63 440.79,481.34 441.42,481.04 442.05,480.73 442.68,480.41 443.31,480.09 443.94,479.75 444.57,479.4 445.2,479.04 445.83,478.67 446.46,478.29 447.09,477.9 447.72,477.51 448.35,477.1 448.99,476.68 449.62,476.25 450.25,475.81 450.88,475.36 451.51,474.9 452.14,474.43 452.77,473.96 453.4,473.47 454.03,472.97 454.66,472.46 455.29,471.95 455.92,471.42 456.55,470.88 457.18,470.34 457.81,469.79 458.44,469.22 459.07,468.65 459.7,468.06 460.33,467.47 460.96,466.87 461.6,466.25 462.23,465.63 462.86,464.99 463.49,464.35 464.12,463.69 464.75,463.01 465.38,462.33 466.01,461.63 466.64,460.91 467.27,460.18 467.9,459.43 468.53,458.66 469.16,457.87 469.79,457.05 470.42,456.21 471.05,455.35 471.68,454.46 472.31,453.53 472.94,452.58 473.57,451.59 474.21,450.56 474.84,449.49 475.47,448.38 476.1,447.23 476.73,446.02 477.36,444.77 477.99,443.47 478.62,442.11 479.25,440.69 479.88,439.22 480.51,437.68 481.14,436.09 481.77,434.43 482.4,432.71 483.03,430.92 483.66,429.07 484.29,427.16 484.92,425.19 485.55,423.16 486.18,421.07 486.81,418.93 487.45,416.77 488.08,414.62 488.71,412.49 489.34,410.39 489.97,408.31 490.6,406.27 491.23,404.28 491.86,402.32 492.49,400.41 493.12,398.55 493.75,396.74 494.38,394.97 495.01,393.25 495.64,391.57 496.27,389.95 496.9,388.36 497.53,386.82 498.16,385.31 498.79,383.85 499.43,382.42 500.06,381.03 500.69,379.68 501.32,378.37 501.95,377.1 502.58,375.86 503.21,374.67 503.84,373.53 504.47,372.43 505.1,371.39 505.73,370.41 506.36,369.5 506.99,368.66 507.62,367.9 508.25,367.23 508.88,366.65 509.51,366.16 510.14,365.78 510.77,365.5 511.4,365.29 512.03,365.12 512.67,364.98 513.3,364.85 513.93,364.72 514.56,364.58 515.19,364.41 515.82,364.21 516.45,363.94 517.08,363.6 517.71,363.18 518.34,362.65 518.97,362.01 519.6,361.24 520.23,360.32 520.86,359.25 521.49,358.01 522.12,356.6 522.75,355.01 523.38,353.24 524.01,351.28 524.64,349.15 525.28,346.83 525.91,344.35 526.54,341.71 527.17,338.92 527.8,336.01 528.43,332.98 529.06,329.88 529.69,326.71 530.32,323.52 530.95,320.32 531.58,317.17 532.21,314.07 532.84,311.09 533.47,308.24 534.1,305.57 534.73,303.12 535.36,300.91 535.99,298.99 536.62,297.38 537.25,296.11 537.89,295.22 538.52,294.72 539.15,294.64 539.78,294.99 540.41,295.78 541.04,297.03 541.67,298.91 542.3,301.61 542.93,305.1 543.56,309.35 544.19,314.31 544.82,319.93 545.45,326.15 546.08,332.88 546.71,340.05 547.34,347.57 547.97,355.36 548.6,363.33 549.23,371.39 549.87,379.46 550.5,387.47 551.13,395.35 551.76,403.02 552.39,410.43 553.02,417.54 553.65,424.31 554.28,430.7 554.91,436.69 555.54,442.27 556.17,447.43 556.8,452.18 557.43,456.5 558.06,460.43 558.69,463.97 559.32,467.15 559.95,469.97 560.58,472.48 561.21,474.69 561.84,476.62 562.48,478.31" fill="none" stroke="#000000" stroke-width="1.6" stroke-linejoin="round"/>
<path d="M341.8,486.46 342.43,486.54 343.06,486.61 343.69,486.69 344.32,486.76 344.95,486.84 345.58,486.91 346.21,486.98 346.84,487.06 347.47,487.13 348.11,487.2 348.74,487.27 349.37,487.34 350,487.4 350.63,487.47 351.26,487.54 351.89,487.6 352.52,487.66 353.15,487.73 353.78,487.79 354.41,487.85 355.04,487.91 355.67,487.97 356.3,488.03 356.93,488.09 357.56,488.15 358.19,488.2 358.82,488.26 359.45,488.31 360.08,488.37 360.72,488.42 361.35,488.47 361.98,488.52 362.61,488.57 363.24,488.62 363.87,488.67 364.5,488.71 365.13,488.76 365.76,488.81 366.39,488.85 367.02,488.89 367.65,488.93 368.28,488.98 368.91,489.02 369.54,489.05 370.17,489.09 370.8,489.13 371.43,489.17 372.06,489.2 372.69,489.23 373.32,489.27 373.96,489.3 374.59,489.33 375.22,489.36 375.85,489.39 376.48,489.42 377.11,489.44 377.74,489.47 378.37,489.49 379,489.52 379.63,489.54 380.26,489.56 380.89,489.58 381.52,489.6 382.15,489.62 382.78,489.63 383.41,489.65 384.04,489.66 384.67,489.68 385.3,489.69 385.94,489.7 386.57,489.71 387.2,489.71 387.83,489.72 388.46,489.73 389.09,489.73 389.72,489.73 390.35,489.73 390.98,489.73 391.61,489.73 392.24,489.73 392.87,489.73 393.5,489.72 394.13,489.71 394.76,489.7 395.39,489.68 396.02,489.66 396.65,489.64 397.28,489.62 397.91,489.6 398.55,489.57 399.18,489.54 399.81,489.51 400.44,489.48 401.07,489.44 401.7,489.41 402.33,489.37 402.96,489.33 403.59,489.28 404.22,489.24 404.85,489.19 405.48,489.14 406.11,489.09 406.74,489.03 407.37,488.98 408,488.92 408.63,488.86 409.26,488.8 409.89,488.73 410.52,488.67 411.15,488.6 411.79,488.53 412.42,488.45 413.05,488.38 413.68,488.3 414.31,488.22 414.94,488.13 415.57,488.05 416.2,487.96 416.83,487.87 417.46,487.77 418.09,487.68 418.72,487.58 419.35,487.48 419.98,487.37 420.61,487.26 421.24,487.15 421.87,487.03 422.5,486.92 423.13,486.79 423.76,486.67 424.4,486.54 425.03,486.4 425.66,486.27 426.29,486.12 426.92,485.98 427.55,485.83 428.18,485.67 428.81,485.51 429.44,485.35 430.07,485.18 430.7,485 431.33,484.83 431.96,484.64 432.59,484.45 433.22,484.25 433.85,484.05 434.48,483.85 435.11,483.63 435.74,483.41 436.38,483.19 437.01,482.96 437.64,482.72 438.27,482.47 438.9,482.21 439.53,481.95 440.16,481.67 440.79,481.39 441.42,481.1 442.05,480.8 442.68,480.48 443.31,480.17 443.94,479.84 444.57,479.5 445.2,479.15 445.83,478.79 446.46,478.42 447.09,478.05 447.72,477.66 448.35,477.26 448.99,476.86 449.62,476.44 450.25,476.02 450.88,475.58 451.51,475.14 452.14,474.69 452.77,474.22 453.4,473.75 454.03,473.27 454.66,472.78 455.29,472.28 455.92,471.77 456.55,471.25 457.18,470.73 457.81,470.19 458.44,469.64 459.07,469.09 459.7,468.52 460.33,467.95 460.96,467.37 461.6,466.77 462.23,466.17 462.86,465.55 463.49,464.92 464.12,464.28 464.75,463.63 465.38,462.96 466.01,462.28 466.64,461.58 467.27,460.86 467.9,460.12 468.53,459.37 469.16,458.59 469.79,457.79 470.42,456.97 471.05,456.11 471.68,455.23 472.31,454.31 472.94,453.37 473.57,452.38 474.21,451.36 474.84,450.29 475.47,449.18 476.1,448.02 476.73,446.82 477.36,445.56 477.99,444.25 478.62,442.89 479.25,441.46 479.88,439.98 480.51,438.43 481.14,436.82 481.77,435.15 482.4,433.41 483.03,431.61 483.66,429.75 484.29,427.83 484.92,425.84 485.55,423.79 486.18,421.69 486.81,419.54 487.45,417.37 488.08,415.21 488.71,413.08 489.34,410.98 489.97,408.92 490.6,406.9 491.23,404.93 491.86,403.01 492.49,401.13 493.12,399.31 493.75,397.54 494.38,395.81 495.01,394.14 495.64,392.52 496.27,390.94 496.9,389.41 497.53,387.92 498.16,386.47 498.79,385.06 499.43,383.68 500.06,382.35 500.69,381.04 501.32,379.77 501.95,378.54 502.58,377.35 503.21,376.19 503.84,375.08 504.47,374.01 505.1,372.99 505.73,372.03 506.36,371.14 506.99,370.31 507.62,369.56 508.25,368.9 508.88,368.32 509.51,367.84 510.14,367.47 510.77,367.2 511.4,367 512.03,366.84 512.67,366.72 513.3,366.61 513.93,366.51 514.56,366.4 515.19,366.27 515.82,366.11 516.45,365.89 517.08,365.61 517.71,365.25 518.34,364.79 518.97,364.23 519.6,363.54 520.23,362.72 520.86,361.75 521.49,360.62 522.12,359.34 522.75,357.88 523.38,356.25 524.01,354.44 524.64,352.46 525.28,350.31 525.91,348 526.54,345.54 527.17,342.94 527.8,340.21 528.43,337.38 529.06,334.47 529.69,331.51 530.32,328.51 530.95,325.52 531.58,322.55 532.21,319.65 532.84,316.85 533.47,314.19 534.1,311.69 534.73,309.39 535.36,307.33 535.99,305.54 536.62,304.05 537.25,302.89 537.89,302.09 538.52,301.66 539.15,301.63 539.78,302.01 540.41,302.82 541.04,304.06 541.67,305.91 542.3,308.53 542.93,311.92 543.56,316.04 544.19,320.83 544.82,326.26 545.45,332.26 546.08,338.75 546.71,345.66 547.34,352.91 547.97,360.41 548.6,368.08 549.23,375.84 549.87,383.61 550.5,391.32 551.13,398.9 551.76,406.28 552.39,413.41 553.02,420.25 553.65,426.76 554.28,432.91 554.91,438.67 555.54,444.04 556.17,449 556.8,453.56 557.43,457.73 558.06,461.5 558.69,464.91 559.32,467.96 559.95,470.68 560.58,473.09 561.21,475.21 561.84,477.08 562.48,478.7" fill="none" stroke="#F5862C" stroke-width="1.6" stroke-linejoin="round"/>
<path d="M341.8,486.46 342.43,486.55 343.06,486.65 343.69,486.74 344.32,486.83 344.95,486.92 345.58,487 346.21,487.09 346.84,487.17 347.47,487.25 348.11,487.33 348.74,487.41 349.37,487.49 350,487.56 350.63,487.64 351.26,487.71 351.89,487.78 352.52,487.85 353.15,487.91 353.78,487.98 354.41,488.05 355.04,488.11 355.67,488.17 356.3,488.23 356.93,488.29 357.56,488.35 358.19,488.4 358.82,488.46 359.45,488.51 360.08,488.57 360.72,488.62 361.35,488.67 361.98,488.71 362.61,488.76 363.24,488.81 363.87,488.85 364.5,488.89 365.13,488.94 365.76,488.98 366.39,489.02 367.02,489.06 367.65,489.09 368.28,489.13 368.91,489.16 369.54,489.2 370.17,489.23 370.8,489.26 371.43,489.29 372.06,489.32 372.69,489.35 373.32,489.37 373.96,489.4 374.59,489.42 375.22,489.45 375.85,489.47 376.48,489.49 377.11,489.51 377.74,489.53 378.37,489.55 379,489.57 379.63,489.59 380.26,489.6 380.89,489.62 381.52,489.63 382.15,489.64 382.78,489.66 383.41,489.67 384.04,489.68 384.67,489.69 385.3,489.69 385.94,489.7 386.57,489.71 387.2,489.71 387.83,489.72 388.46,489.72 389.09,489.73 389.72,489.73 390.35,489.73 390.98,489.73 391.61,489.73 392.24,489.73 392.87,489.73 393.5,489.72 394.13,489.7 394.76,489.68 395.39,489.66 396.02,489.63 396.65,489.6 397.28,489.56 397.91,489.52 398.55,489.47 399.18,489.43 399.81,489.37 400.44,489.31 401.07,489.25 401.7,489.19 402.33,489.12 402.96,489.05 403.59,488.98 404.22,488.9 404.85,488.82 405.48,488.74 406.11,488.66 406.74,488.57 407.37,488.48 408,488.39 408.63,488.29 409.26,488.2 409.89,488.1 410.52,488 411.15,487.9 411.79,487.8 412.42,487.69 413.05,487.59 413.68,487.48 414.31,487.37 414.94,487.26 415.57,487.15 416.2,487.04 416.83,486.92 417.46,486.81 418.09,486.69 418.72,486.58 419.35,486.46 419.98,486.35 420.61,486.23 421.24,486.11 421.87,485.99 422.5,485.87 423.13,485.75 423.76,485.63 424.4,485.51 425.03,485.39 425.66,485.27 426.29,485.15 426.92,485.03 427.55,484.91 428.18,484.79 428.81,484.67 429.44,484.55 430.07,484.42 430.7,484.3 431.33,484.18 431.96,484.06 432.59,483.93 433.22,483.81 433.85,483.69 434.48,483.56 435.11,483.44 435.74,483.31 436.38,483.19 437.01,483.06 437.64,482.93 438.27,482.8 438.9,482.66 439.53,482.52 440.16,482.37 440.79,482.22 441.42,482.06 442.05,481.9 442.68,481.73 443.31,481.56 443.94,481.38 444.57,481.2 445.2,481.01 445.83,480.81 446.46,480.61 447.09,480.4 447.72,480.18 448.35,479.96 448.99,479.73 449.62,479.49 450.25,479.25 450.88,479 451.51,478.74 452.14,478.48 452.77,478.2 453.4,477.92 454.03,477.64 454.66,477.34 455.29,477.04 455.92,476.73 456.55,476.41 457.18,476.09 457.81,475.76 458.44,475.42 459.07,475.07 459.7,474.72 460.33,474.36 460.96,473.99 461.6,473.61 462.23,473.23 462.86,472.84 463.49,472.44 464.12,472.04 464.75,471.62 465.38,471.2 466.01,470.78 466.64,470.34 467.27,469.9 467.9,469.45 468.53,468.99 469.16,468.53 469.79,468.05 470.42,467.57 471.05,467.08 471.68,466.57 472.31,466.06 472.94,465.53 473.57,465 474.21,464.45 474.84,463.88 475.47,463.3 476.1,462.71 476.73,462.1 477.36,461.47 477.99,460.82 478.62,460.14 479.25,459.45 479.88,458.73 480.51,457.98 481.14,457.2 481.77,456.4 482.4,455.56 483.03,454.69 483.66,453.79 484.29,452.84 484.92,451.86 485.55,450.84 486.18,449.78 486.81,448.67 487.45,447.52 488.08,446.31 488.71,445.04 489.34,443.71 489.97,442.33 490.6,440.88 491.23,439.37 491.86,437.81 492.49,436.19 493.12,434.51 493.75,432.79 494.38,431.02 495.01,429.21 495.64,427.37 496.27,425.5 496.9,423.62 497.53,421.73 498.16,419.85 498.79,417.98 499.43,416.13 500.06,414.32 500.69,412.56 501.32,410.86 501.95,409.23 502.58,407.67 503.21,406.21 503.84,404.84 504.47,403.58 505.1,402.42 505.73,401.38 506.36,400.44 506.99,399.62 507.62,398.92 508.25,398.32 508.88,397.82 509.51,397.43 510.14,397.12 510.77,396.9 511.4,396.73 512.03,396.57 512.67,396.43 513.3,396.28 513.93,396.13 514.56,395.96 515.19,395.75 515.82,395.51 516.45,395.2 517.08,394.83 517.71,394.39 518.34,393.85 518.97,393.21 519.6,392.45 520.23,391.58 520.86,390.57 521.49,389.43 522.12,388.14 522.75,386.7 523.38,385.11 524.01,383.37 524.64,381.48 525.28,379.45 525.91,377.28 526.54,374.98 527.17,372.56 527.8,370.05 528.43,367.44 529.06,364.77 529.69,362.05 530.32,359.31 530.95,356.57 531.58,353.87 532.21,351.22 532.84,348.66 533.47,346.21 534.1,343.91 534.73,341.79 535.36,339.87 535.99,338.19 536.62,336.76 537.25,335.61 537.89,334.77 538.52,334.26 539.15,334.08 539.78,334.25 540.41,334.79 541.04,335.7 541.67,337.12 542.3,339.2 542.93,341.93 543.56,345.27 544.19,349.19 544.82,353.65 545.45,358.59 546.08,363.94 546.71,369.66 547.34,375.66 547.97,381.88 548.6,388.25 549.23,394.7 549.87,401.16 550.5,407.57 551.13,413.88 551.76,420.02 552.39,425.96 553.02,431.66 553.65,437.08 554.28,442.2 554.91,447.01 555.54,451.48 556.17,455.62 556.8,459.42 557.43,462.89 558.06,466.04 558.69,468.88 559.32,471.43 559.95,473.69 560.58,475.7 561.21,477.47 561.84,479.02 562.48,480.37" fill="none" stroke="#35EEEE" stroke-width="1.6" stroke-linejoin="round"/>
<path d="M341.8,486.9 342.43,486.99 343.06,487.07 343.69,487.16 344.32,487.25 344.95,487.33 345.58,487.42 346.21,487.5 346.84,487.58 347.47,487.66 348.11,487.74 348.74,487.82 349.37,487.89 350,487.97 350.63,488.04 351.26,488.12 351.89,488.19 352.52,488.26 353.15,488.33 353.78,488.4 354.41,488.46 355.04,488.53 355.67,488.59 356.3,488.66 356.93,488.72 357.56,488.78 358.19,488.84 358.82,488.9 359.45,488.95 360.08,489.01 360.72,489.06 361.35,489.12 361.98,489.17 362.61,489.22 363.24,489.27 363.87,489.32 364.5,489.37 365.13,489.42 365.76,489.46 366.39,489.51 367.02,489.55 367.65,489.59 368.28,489.63 368.91,489.67 369.54,489.71 370.17,489.75 370.8,489.79 371.43,489.82 372.06,489.86 372.69,489.89 373.32,489.92 373.96,489.95 374.59,489.98 375.22,490.01 375.85,490.04 376.48,490.07 377.11,490.09 377.74,490.12 378.37,490.14 379,490.16 379.63,490.18 380.26,490.2 380.89,490.22 381.52,490.24 382.15,490.26 382.78,490.27 383.41,490.29 384.04,490.3 384.67,490.31 385.3,490.33 385.94,490.34 386.57,490.35 387.2,490.35 387.83,490.36 388.46,490.37 389.09,490.37 389.72,490.38 390.35,490.38 390.98,490.38 391.61,490.38 392.24,490.38 392.87,490.38 393.5,490.38 394.13,490.37 394.76,490.35 395.39,490.34 396.02,490.31 396.65,490.29 397.28,490.26 397.91,490.24 398.55,490.2 399.18,490.17 399.81,490.13 400.44,490.09 401.07,490.05 401.7,490 402.33,489.95 402.96,489.9 403.59,489.85 404.22,489.79 404.85,489.74 405.48,489.68 406.11,489.62 406.74,489.56 407.37,489.49 408,489.43 408.63,489.36 409.26,489.29 409.89,489.23 410.52,489.16 411.15,489.08 411.79,489.01 412.42,488.94 413.05,488.86 413.68,488.79 414.31,488.71 414.94,488.64 415.57,488.56 416.2,488.48 416.83,488.41 417.46,488.33 418.09,488.25 418.72,488.17 419.35,488.09 419.98,488.02 420.61,487.94 421.24,487.86 421.87,487.78 422.5,487.7 423.13,487.62 423.76,487.54 424.4,487.46 425.03,487.38 425.66,487.31 426.29,487.23 426.92,487.15 427.55,487.07 428.18,487 428.81,486.92 429.44,486.84 430.07,486.77 430.7,486.69 431.33,486.62 431.96,486.54 432.59,486.47 433.22,486.39 433.85,486.32 434.48,486.24 435.11,486.17 435.74,486.1 436.38,486.02 437.01,485.95 437.64,485.87 438.27,485.79 438.9,485.71 439.53,485.62 440.16,485.53 440.79,485.44 441.42,485.34 442.05,485.24 442.68,485.13 443.31,485.02 443.94,484.91 444.57,484.79 445.2,484.66 445.83,484.53 446.46,484.4 447.09,484.26 447.72,484.12 448.35,483.97 448.99,483.81 449.62,483.65 450.25,483.48 450.88,483.31 451.51,483.13 452.14,482.95 452.77,482.76 453.4,482.56 454.03,482.36 454.66,482.15 455.29,481.93 455.92,481.7 456.55,481.47 457.18,481.24 457.81,480.99 458.44,480.74 459.07,480.49 459.7,480.22 460.33,479.95 460.96,479.67 461.6,479.39 462.23,479.1 462.86,478.8 463.49,478.5 464.12,478.19 464.75,477.87 465.38,477.55 466.01,477.22 466.64,476.88 467.27,476.54 467.9,476.19 468.53,475.84 469.16,475.47 469.79,475.11 470.42,474.74 471.05,474.36 471.68,473.97 472.31,473.58 472.94,473.19 473.57,472.78 474.21,472.37 474.84,471.96 475.47,471.54 476.1,471.11 476.73,470.68 477.36,470.23 477.99,469.78 478.62,469.33 479.25,468.86 479.88,468.38 480.51,467.9 481.14,467.4 481.77,466.9 482.4,466.38 483.03,465.85 483.66,465.3 484.29,464.74 484.92,464.17 485.55,463.58 486.18,462.97 486.81,462.34 487.45,461.68 488.08,460.98 488.71,460.22 489.34,459.41 489.97,458.54 490.6,457.62 491.23,456.62 491.86,455.57 492.49,454.44 493.12,453.24 493.75,451.97 494.38,450.63 495.01,449.23 495.64,447.76 496.27,446.23 496.9,444.65 497.53,443.03 498.16,441.38 498.79,439.71 499.43,438.04 500.06,436.39 500.69,434.77 501.32,433.2 501.95,431.69 502.58,430.26 503.21,428.92 503.84,427.68 504.47,426.55 505.1,425.53 505.73,424.63 506.36,423.85 506.99,423.18 507.62,422.61 508.25,422.14 508.88,421.76 509.51,421.46 510.14,421.22 510.77,421.04 511.4,420.88 512.03,420.72 512.67,420.56 513.3,420.39 513.93,420.19 514.56,419.96 515.19,419.69 515.82,419.36 516.45,418.98 517.08,418.53 517.71,418 518.34,417.38 518.97,416.67 519.6,415.85 520.23,414.91 520.86,413.86 521.49,412.68 522.12,411.37 522.75,409.93 523.38,408.35 524.01,406.64 524.64,404.81 525.28,402.84 525.91,400.76 526.54,398.57 527.17,396.27 527.8,393.89 528.43,391.44 529.06,388.93 529.69,386.38 530.32,383.82 530.95,381.26 531.58,378.74 532.21,376.26 532.84,373.87 533.47,371.58 534.1,369.42 534.73,367.41 535.36,365.59 535.99,363.96 536.62,362.57 537.25,361.42 537.89,360.53 538.52,359.93 539.15,359.62 539.78,359.62 540.41,359.94 541.04,360.57 541.67,361.65 542.3,363.29 542.93,365.49 543.56,368.22 544.19,371.45 544.82,375.14 545.45,379.24 546.08,383.71 546.71,388.48 547.34,393.51 547.97,398.72 548.6,404.07 549.23,409.48 549.87,414.91 550.5,420.31 551.13,425.62 551.76,430.79 552.39,435.8 553.02,440.6 553.65,445.17 554.28,449.49 554.91,453.54 555.54,457.32 556.17,460.81 556.8,464.01 557.43,466.94 558.06,469.6 558.69,472 559.32,474.14 559.95,476.05 560.58,477.75 561.21,479.24 561.84,480.55 562.48,481.69" fill="none" stroke="#12128A" stroke-width="1.6" stroke-linejoin="round"/>
<path d="M341.8,485.37 342.43,485.5 343.06,485.62 343.69,485.74 344.32,485.86 344.95,485.98 345.58,486.09 346.21,486.2 346.84,486.31 347.47,486.42 348.11,486.52 348.74,486.62 349.37,486.72 350,486.82 350.63,486.91 351.26,487.01 351.89,487.1 352.52,487.18 353.15,487.27 353.78,487.35 354.41,487.43 355.04,487.51 355.67,487.59 356.3,487.66 356.93,487.73 357.56,487.8 358.19,487.87 358.82,487.93 359.45,488 360.08,488.06 360.72,488.12 361.35,488.18 361.98,488.23 362.61,488.29 363.24,488.34 363.87,488.39 364.5,488.44 365.13,488.49 365.76,488.53 366.39,488.58 367.02,488.62 367.65,488.66 368.28,488.7 368.91,488.74 369.54,488.77 370.17,488.81 370.8,488.84 371.43,488.87 372.06,488.9 372.69,488.93 373.32,488.96 373.96,488.99 374.59,489.01 375.22,489.04 375.85,489.06 376.48,489.08 377.11,489.1 377.74,489.12 378.37,489.14 379,489.15 379.63,489.17 380.26,489.18 380.89,489.2 381.52,489.21 382.15,489.22 382.78,489.23 383.41,489.24 384.04,489.25 384.67,489.26 385.3,489.26 385.94,489.27 386.57,489.28 387.2,489.28 387.83,489.28 388.46,489.29 389.09,489.29 389.72,489.29 390.35,489.29 390.98,489.29 391.61,489.29 392.24,489.29 392.87,489.29 393.5,489.28 394.13,489.25 394.76,489.23 395.39,489.19 396.02,489.14 396.65,489.09 397.28,489.03 397.91,488.97 398.55,488.9 399.18,488.82 399.81,488.74 400.44,488.65 401.07,488.55 401.7,488.45 402.33,488.34 402.96,488.23 403.59,488.12 404.22,488 404.85,487.88 405.48,487.75 406.11,487.62 406.74,487.48 407.37,487.35 408,487.2 408.63,487.06 409.26,486.92 409.89,486.77 410.52,486.62 411.15,486.46 411.79,486.31 412.42,486.15 413.05,486 413.68,485.84 414.31,485.68 414.94,485.52 415.57,485.36 416.2,485.2 416.83,485.04 417.46,484.88 418.09,484.72 418.72,484.56 419.35,484.4 419.98,484.24 420.61,484.08 421.24,483.93 421.87,483.77 422.5,483.62 423.13,483.47 423.76,483.32 424.4,483.18 425.03,483.03 425.66,482.89 426.29,482.75 426.92,482.62 427.55,482.48 428.18,482.35 428.81,482.23 429.44,482.1 430.07,481.98 430.7,481.87 431.33,481.75 431.96,481.65 432.59,481.54 433.22,481.44 433.85,481.35 434.48,481.25 435.11,481.17 435.74,481.09 436.38,481.01 437.01,480.94 437.64,480.86 438.27,480.79 438.9,480.71 439.53,480.64 440.16,480.56 440.79,480.49 441.42,480.41 442.05,480.33 442.68,480.25 443.31,480.17 443.94,480.09 444.57,480 445.2,479.91 445.83,479.82 446.46,479.73 447.09,479.63 447.72,479.53 448.35,479.43 448.99,479.33 449.62,479.22 450.25,479.1 450.88,478.99 451.51,478.87 452.14,478.74 452.77,478.62 453.4,478.48 454.03,478.35 454.66,478.21 455.29,478.06 455.92,477.91 456.55,477.75 457.18,477.59 457.81,477.43 458.44,477.26 459.07,477.08 459.7,476.9 460.33,476.72 460.96,476.53 461.6,476.33 462.23,476.13 462.86,475.92 463.49,475.71 464.12,475.5 464.75,475.27 465.38,475.05 466.01,474.81 466.64,474.57 467.27,474.33 467.9,474.08 468.53,473.83 469.16,473.57 469.79,473.3 470.42,473.03 471.05,472.75 471.68,472.47 472.31,472.17 472.94,471.88 473.57,471.57 474.21,471.26 474.84,470.94 475.47,470.61 476.1,470.27 476.73,469.93 477.36,469.57 477.99,469.2 478.62,468.83 479.25,468.43 479.88,468.03 480.51,467.61 481.14,467.17 481.77,466.72 482.4,466.25 483.03,465.77 483.66,465.26 484.29,464.73 484.92,464.18 485.55,463.6 486.18,463 486.81,462.37 487.45,461.71 488.08,460.99 488.71,460.22 489.34,459.39 489.97,458.51 490.6,457.56 491.23,456.54 491.86,455.46 492.49,454.31 493.12,453.09 493.75,451.81 494.38,450.45 495.01,449.04 495.64,447.56 496.27,446.04 496.9,444.47 497.53,442.87 498.16,441.24 498.79,439.61 499.43,437.97 500.06,436.36 500.69,434.78 501.32,433.24 501.95,431.77 502.58,430.37 503.21,429.06 503.84,427.84 504.47,426.72 505.1,425.71 505.73,424.81 506.36,424.02 506.99,423.33 507.62,422.76 508.25,422.27 508.88,421.89 509.51,421.58 510.14,421.35 510.77,421.18 511.4,421.05 512.03,420.93 512.67,420.81 513.3,420.7 513.93,420.57 514.56,420.43 515.19,420.26 515.82,420.06 516.45,419.81 517.08,419.51 517.71,419.15 518.34,418.72 518.97,418.21 519.6,417.62 520.23,416.93 520.86,416.14 521.49,415.25 522.12,414.24 522.75,413.13 523.38,411.9 524.01,410.55 524.64,409.1 525.28,407.53 525.91,405.86 526.54,404.09 527.17,402.24 527.8,400.3 528.43,398.31 529.06,396.26 529.69,394.18 530.32,392.08 530.95,389.98 531.58,387.91 532.21,385.88 532.84,383.92 533.47,382.05 534.1,380.29 534.73,378.66 535.36,377.18 535.99,375.89 536.62,374.78 537.25,373.9 537.89,373.24 538.52,372.82 539.15,372.66 539.78,372.77 540.41,373.15 541.04,373.82 541.67,374.87 542.3,376.42 542.93,378.45 543.56,380.95 544.19,383.88 544.82,387.22 545.45,390.92 546.08,394.94 546.71,399.23 547.34,403.74 547.97,408.41 548.6,413.19 549.23,418.04 549.87,422.89 550.5,427.71 551.13,432.45 551.76,437.06 552.39,441.53 553.02,445.81 553.65,449.89 554.28,453.74 554.91,457.35 555.54,460.71 556.17,463.82 556.8,466.68 557.43,469.29 558.06,471.66 558.69,473.79 559.32,475.7 559.95,477.41 560.58,478.92 561.21,480.25 561.84,481.41 562.48,482.43" fill="none" stroke="#EE1515" stroke-width="1.6" stroke-linejoin="round"/>
<path d="M341.8,488.64 342.43,488.68 343.06,488.72 343.69,488.76 344.32,488.8 344.95,488.83 345.58,488.87 346.21,488.9 346.84,488.94 347.47,488.97 348.11,489 348.74,489.03 349.37,489.06 350,489.09 350.63,489.12 351.26,489.15 351.89,489.18 352.52,489.2 353.15,489.23 353.78,489.25 354.41,489.27 355.04,489.3 355.67,489.32 356.3,489.34 356.93,489.36 357.56,489.38 358.19,489.4 358.82,489.42 359.45,489.44 360.08,489.45 360.72,489.47 361.35,489.49 361.98,489.5 362.61,489.51 363.24,489.53 363.87,489.54 364.5,489.55 365.13,489.57 365.76,489.58 366.39,489.59 367.02,489.6 367.65,489.61 368.28,489.62 368.91,489.63 369.54,489.64 370.17,489.65 370.8,489.65 371.43,489.66 372.06,489.67 372.69,489.67 373.32,489.68 373.96,489.68 374.59,489.69 375.22,489.69 375.85,489.7 376.48,489.7 377.11,489.71 377.74,489.71 378.37,489.71 379,489.72 379.63,489.72 380.26,489.72 380.89,489.72 381.52,489.73 382.15,489.73 382.78,489.73 383.41,489.73 384.04,489.73 384.67,489.73 385.3,489.73 385.94,489.73 386.57,489.73 387.2,489.73 387.83,489.73 388.46,489.73 389.09,489.73 389.72,489.73 390.35,489.73 390.98,489.73 391.61,489.73 392.24,489.73 392.87,489.73 393.5,489.72 394.13,489.7 394.76,489.68 395.39,489.65 396.02,489.62 396.65,489.58 397.28,489.54 397.91,489.5 398.55,489.44 399.18,489.39 399.81,489.33 400.44,489.26 401.07,489.2 401.7,489.12 402.33,489.05 402.96,488.97 403.59,488.89 404.22,488.8 404.85,488.71 405.48,488.62 406.11,488.52 406.74,488.43 407.37,488.33 408,488.23 408.63,488.12 409.26,488.02 409.89,487.91 410.52,487.8 411.15,487.69 411.79,487.58 412.42,487.46 413.05,487.35 413.68,487.23 414.31,487.12 414.94,487 415.57,486.88 416.2,486.76 416.83,486.64 417.46,486.53 418.09,486.41 418.72,486.29 419.35,486.17 419.98,486.05 420.61,485.93 421.24,485.82 421.87,485.7 422.5,485.58 423.13,485.47 423.76,485.36 424.4,485.24 425.03,485.13 425.66,485.02 426.29,484.91 426.92,484.8 427.55,484.7 428.18,484.59 428.81,484.49 429.44,484.39 430.07,484.29 430.7,484.19 431.33,484.09 431.96,484 432.59,483.91 433.22,483.82 433.85,483.73 434.48,483.65 435.11,483.57 435.74,483.49 436.38,483.41 437.01,483.33 437.64,483.25 438.27,483.17 438.9,483.09 439.53,483.01 440.16,482.93 440.79,482.84 441.42,482.75 442.05,482.66 442.68,482.56 443.31,482.47 443.94,482.37 444.57,482.27 445.2,482.16 445.83,482.05 446.46,481.94 447.09,481.82 447.72,481.7 448.35,481.58 448.99,481.45 449.62,481.32 450.25,481.19 450.88,481.05 451.51,480.9 452.14,480.75 452.77,480.6 453.4,480.44 454.03,480.28 454.66,480.11 455.29,479.94 455.92,479.77 456.55,479.59 457.18,479.4 457.81,479.21 458.44,479.01 459.07,478.81 459.7,478.61 460.33,478.4 460.96,478.18 461.6,477.96 462.23,477.74 462.86,477.51 463.49,477.27 464.12,477.03 464.75,476.79 465.38,476.54 466.01,476.29 466.64,476.03 467.27,475.76 467.9,475.49 468.53,475.22 469.16,474.94 469.79,474.65 470.42,474.36 471.05,474.06 471.68,473.76 472.31,473.45 472.94,473.13 473.57,472.8 474.21,472.47 474.84,472.13 475.47,471.78 476.1,471.42 476.73,471.05 477.36,470.67 477.99,470.28 478.62,469.87 479.25,469.45 479.88,469.02 480.51,468.56 481.14,468.1 481.77,467.61 482.4,467.1 483.03,466.58 483.66,466.03 484.29,465.46 484.92,464.86 485.55,464.24 486.18,463.59 486.81,462.91 487.45,462.2 488.08,461.44 488.71,460.64 489.34,459.78 489.97,458.87 490.6,457.91 491.23,456.9 491.86,455.83 492.49,454.71 493.12,453.53 493.75,452.3 494.38,451.03 495.01,449.71 495.64,448.35 496.27,446.95 496.9,445.53 497.53,444.09 498.16,442.64 498.79,441.19 499.43,439.75 500.06,438.33 500.69,436.95 501.32,435.61 501.95,434.32 502.58,433.1 503.21,431.95 503.84,430.89 504.47,429.9 505.1,429.01 505.73,428.2 506.36,427.49 506.99,426.87 507.62,426.35 508.25,425.91 508.88,425.55 509.51,425.26 510.14,425.05 510.77,424.89 511.4,424.77 512.03,424.67 512.67,424.57 513.3,424.48 513.93,424.38 514.56,424.26 515.19,424.13 515.82,423.97 516.45,423.77 517.08,423.52 517.71,423.23 518.34,422.87 518.97,422.44 519.6,421.93 520.23,421.34 520.86,420.66 521.49,419.89 522.12,419.02 522.75,418.05 523.38,416.97 524.01,415.79 524.64,414.51 525.28,413.13 525.91,411.65 526.54,410.09 527.17,408.44 527.8,406.73 528.43,404.95 529.06,403.13 529.69,401.28 530.32,399.41 530.95,397.55 531.58,395.7 532.21,393.9 532.84,392.15 533.47,390.48 534.1,388.92 534.73,387.47 535.36,386.17 535.99,385.02 536.62,384.05 537.25,383.28 537.89,382.71 538.52,382.37 539.15,382.26 539.78,382.39 540.41,382.77 541.04,383.4 541.67,384.38 542.3,385.82 542.93,387.7 543.56,390.01 544.19,392.71 544.82,395.78 545.45,399.18 546.08,402.87 546.71,406.8 547.34,410.93 547.97,415.21 548.6,419.59 549.23,424.03 549.87,428.48 550.5,432.89 551.13,437.22 551.76,441.45 552.39,445.53 553.02,449.45 553.65,453.18 554.28,456.7 554.91,460.01 555.54,463.08 556.17,465.93 556.8,468.54 557.43,470.93 558.06,473.1 558.69,475.05 559.32,476.8 559.95,478.36 560.58,479.74 561.21,480.96 561.84,482.02 562.48,482.95" fill="none" stroke="#FFF200" stroke-width="1.6" stroke-linejoin="round"/>
<path d="M341.8,486.46 342.43,486.56 343.06,486.66 343.69,486.76 344.32,486.85 344.95,486.94 345.58,487.03 346.21,487.12 346.84,487.21 347.47,487.3 348.11,487.38 348.74,487.46 349.37,487.54 350,487.62 350.63,487.7 351.26,487.77 351.89,487.84 352.52,487.91 353.15,487.98 353.78,488.05 354.41,488.12 355.04,488.18 355.67,488.24 356.3,488.31 356.93,488.36 357.56,488.42 358.19,488.48 358.82,488.53 359.45,488.59 360.08,488.64 360.72,488.69 361.35,488.74 361.98,488.79 362.61,488.83 363.24,488.88 363.87,488.92 364.5,488.96 365.13,489 365.76,489.04 366.39,489.08 367.02,489.12 367.65,489.15 368.28,489.19 368.91,489.22 369.54,489.25 370.17,489.28 370.8,489.31 371.43,489.34 372.06,489.37 372.69,489.39 373.32,489.42 373.96,489.44 374.59,489.46 375.22,489.48 375.85,489.5 376.48,489.52 377.11,489.54 377.74,489.56 378.37,489.58 379,489.59 379.63,489.61 380.26,489.62 380.89,489.63 381.52,489.65 382.15,489.66 382.78,489.67 383.41,489.68 384.04,489.68 384.67,489.69 385.3,489.7 385.94,489.71 386.57,489.71 387.2,489.72 387.83,489.72 388.46,489.72 389.09,489.73 389.72,489.73 390.35,489.73 390.98,489.73 391.61,489.73 392.24,489.73 392.87,489.73 393.5,489.72 394.13,489.7 394.76,489.68 395.39,489.65 396.02,489.62 396.65,489.58 397.28,489.54 397.91,489.49 398.55,489.43 399.18,489.38 399.81,489.31 400.44,489.25 401.07,489.18 401.7,489.1 402.33,489.02 402.96,488.94 403.59,488.86 404.22,488.77 404.85,488.68 405.48,488.58 406.11,488.48 406.74,488.38 407.37,488.28 408,488.18 408.63,488.07 409.26,487.96 409.89,487.85 410.52,487.73 411.15,487.62 411.79,487.5 412.42,487.39 413.05,487.27 413.68,487.15 414.31,487.03 414.94,486.91 415.57,486.78 416.2,486.66 416.83,486.54 417.46,486.42 418.09,486.29 418.72,486.17 419.35,486.05 419.98,485.92 420.61,485.8 421.24,485.68 421.87,485.56 422.5,485.44 423.13,485.32 423.76,485.2 424.4,485.08 425.03,484.97 425.66,484.85 426.29,484.74 426.92,484.63 427.55,484.52 428.18,484.41 428.81,484.3 429.44,484.2 430.07,484.09 430.7,483.99 431.33,483.89 431.96,483.8 432.59,483.7 433.22,483.61 433.85,483.52 434.48,483.43 435.11,483.35 435.74,483.27 436.38,483.19 437.01,483.11 437.64,483.03 438.27,482.95 438.9,482.87 439.53,482.79 440.16,482.71 440.79,482.62 441.42,482.53 442.05,482.44 442.68,482.35 443.31,482.26 443.94,482.16 444.57,482.06 445.2,481.96 445.83,481.86 446.46,481.75 447.09,481.64 447.72,481.52 448.35,481.41 448.99,481.29 449.62,481.17 450.25,481.04 450.88,480.91 451.51,480.78 452.14,480.64 452.77,480.5 453.4,480.36 454.03,480.21 454.66,480.06 455.29,479.9 455.92,479.74 456.55,479.58 457.18,479.42 457.81,479.25 458.44,479.07 459.07,478.89 459.7,478.71 460.33,478.53 460.96,478.34 461.6,478.14 462.23,477.94 462.86,477.74 463.49,477.54 464.12,477.33 464.75,477.11 465.38,476.89 466.01,476.67 466.64,476.44 467.27,476.21 467.9,475.97 468.53,475.73 469.16,475.48 469.79,475.23 470.42,474.97 471.05,474.7 471.68,474.42 472.31,474.14 472.94,473.85 473.57,473.55 474.21,473.24 474.84,472.92 475.47,472.59 476.1,472.24 476.73,471.88 477.36,471.51 477.99,471.13 478.62,470.72 479.25,470.3 479.88,469.86 480.51,469.4 481.14,468.92 481.77,468.41 482.4,467.89 483.03,467.33 483.66,466.76 484.29,466.15 484.92,465.52 485.55,464.85 486.18,464.16 486.81,463.44 487.45,462.69 488.08,461.9 488.71,461.07 489.34,460.21 489.97,459.32 490.6,458.39 491.23,457.43 491.86,456.43 492.49,455.41 493.12,454.35 493.75,453.27 494.38,452.17 495.01,451.05 495.64,449.91 496.27,448.76 496.9,447.6 497.53,446.45 498.16,445.29 498.79,444.15 499.43,443.02 500.06,441.91 500.69,440.83 501.32,439.78 501.95,438.77 502.58,437.8 503.21,436.88 503.84,436.02 504.47,435.2 505.1,434.45 505.73,433.75 506.36,433.11 506.99,432.53 507.62,432.01 508.25,431.55 508.88,431.13 509.51,430.77 510.14,430.46 510.77,430.18 511.4,429.94 512.03,429.71 512.67,429.5 513.3,429.29 513.93,429.08 514.56,428.87 515.19,428.63 515.82,428.36 516.45,428.06 517.08,427.72 517.71,427.32 518.34,426.86 518.97,426.33 519.6,425.73 520.23,425.05 520.86,424.29 521.49,423.44 522.12,422.5 522.75,421.48 523.38,420.38 524.01,419.19 524.64,417.94 525.28,416.61 525.91,415.24 526.54,413.81 527.17,412.36 527.8,410.88 528.43,409.41 529.06,407.96 529.69,406.54 530.32,405.17 530.95,403.88 531.58,402.68 532.21,401.59 532.84,400.63 533.47,399.82 534.1,399.18 534.73,398.72 535.36,398.45 535.99,398.39 536.62,398.55 537.25,398.93 537.89,399.54 538.52,400.44 539.15,401.73 539.78,403.37 540.41,405.36 541.04,407.68 541.67,410.3 542.3,413.19 542.93,416.32 543.56,419.65 544.19,423.14 544.82,426.75 545.45,430.45 546.08,434.18 546.71,437.92 547.34,441.63 547.97,445.28 548.6,448.83 549.23,452.27 549.87,455.56 550.5,458.69 551.13,461.65 551.76,464.42 552.39,467 553.02,469.39 553.65,471.58 554.28,473.59 554.91,475.41 555.54,477.04 556.17,478.51 556.8,479.82 557.43,480.98 558.06,482 558.69,482.9 559.32,483.68 559.95,484.36 560.58,484.95 561.21,485.46 561.84,485.89 562.48,486.26" fill="none" stroke="#808010" stroke-width="1.6" stroke-linejoin="round"/>
<path d="M341.8,485.37 342.43,485.5 343.06,485.62 343.69,485.74 344.32,485.86 344.95,485.97 345.58,486.09 346.21,486.2 346.84,486.3 347.47,486.41 348.11,486.51 348.74,486.61 349.37,486.71 350,486.81 350.63,486.9 351.26,486.99 351.89,487.08 352.52,487.17 353.15,487.25 353.78,487.34 354.41,487.42 355.04,487.49 355.67,487.57 356.3,487.64 356.93,487.72 357.56,487.79 358.19,487.85 358.82,487.92 359.45,487.98 360.08,488.05 360.72,488.11 361.35,488.16 361.98,488.22 362.61,488.27 363.24,488.33 363.87,488.38 364.5,488.43 365.13,488.48 365.76,488.52 366.39,488.57 367.02,488.61 367.65,488.65 368.28,488.69 368.91,488.73 369.54,488.76 370.17,488.8 370.8,488.83 371.43,488.87 372.06,488.9 372.69,488.93 373.32,488.95 373.96,488.98 374.59,489.01 375.22,489.03 375.85,489.05 376.48,489.07 377.11,489.09 377.74,489.11 378.37,489.13 379,489.15 379.63,489.17 380.26,489.18 380.89,489.19 381.52,489.21 382.15,489.22 382.78,489.23 383.41,489.24 384.04,489.25 384.67,489.26 385.3,489.26 385.94,489.27 386.57,489.28 387.2,489.28 387.83,489.29 388.46,489.29 389.09,489.29 389.72,489.29 390.35,489.29 390.98,489.29 391.61,489.29 392.24,489.29 392.87,489.29 393.5,489.28 394.13,489.25 394.76,489.23 395.39,489.19 396.02,489.15 396.65,489.09 397.28,489.04 397.91,488.97 398.55,488.9 399.18,488.83 399.81,488.74 400.44,488.66 401.07,488.56 401.7,488.46 402.33,488.36 402.96,488.25 403.59,488.14 404.22,488.02 404.85,487.9 405.48,487.77 406.11,487.65 406.74,487.51 407.37,487.38 408,487.24 408.63,487.1 409.26,486.95 409.89,486.81 410.52,486.66 411.15,486.51 411.79,486.35 412.42,486.2 413.05,486.04 413.68,485.89 414.31,485.73 414.94,485.57 415.57,485.41 416.2,485.25 416.83,485.09 417.46,484.93 418.09,484.77 418.72,484.62 419.35,484.46 419.98,484.3 420.61,484.14 421.24,483.99 421.87,483.83 422.5,483.68 423.13,483.53 423.76,483.38 424.4,483.23 425.03,483.08 425.66,482.94 426.29,482.8 426.92,482.66 427.55,482.53 428.18,482.39 428.81,482.26 429.44,482.14 430.07,482.01 430.7,481.9 431.33,481.78 431.96,481.67 432.59,481.56 433.22,481.46 433.85,481.36 434.48,481.26 435.11,481.17 435.74,481.09 436.38,481.01 437.01,480.93 437.64,480.86 438.27,480.78 438.9,480.7 439.53,480.63 440.16,480.55 440.79,480.47 441.42,480.4 442.05,480.32 442.68,480.24 443.31,480.16 443.94,480.08 444.57,480 445.2,479.91 445.83,479.83 446.46,479.74 447.09,479.65 447.72,479.57 448.35,479.47 448.99,479.38 449.62,479.29 450.25,479.19 450.88,479.09 451.51,478.99 452.14,478.88 452.77,478.78 453.4,478.67 454.03,478.56 454.66,478.45 455.29,478.33 455.92,478.21 456.55,478.09 457.18,477.97 457.81,477.84 458.44,477.71 459.07,477.58 459.7,477.44 460.33,477.3 460.96,477.16 461.6,477.02 462.23,476.87 462.86,476.72 463.49,476.56 464.12,476.41 464.75,476.24 465.38,476.08 466.01,475.9 466.64,475.73 467.27,475.55 467.9,475.36 468.53,475.17 469.16,474.97 469.79,474.76 470.42,474.55 471.05,474.33 471.68,474.1 472.31,473.86 472.94,473.61 473.57,473.35 474.21,473.07 474.84,472.79 475.47,472.49 476.1,472.17 476.73,471.84 477.36,471.49 477.99,471.12 478.62,470.73 479.25,470.32 479.88,469.89 480.51,469.44 481.14,468.96 481.77,468.46 482.4,467.93 483.03,467.37 483.66,466.78 484.29,466.16 484.92,465.52 485.55,464.84 486.18,464.14 486.81,463.4 487.45,462.64 488.08,461.85 488.71,461.05 489.34,460.22 489.97,459.37 490.6,458.5 491.23,457.62 491.86,456.73 492.49,455.82 493.12,454.9 493.75,453.98 494.38,453.04 495.01,452.11 495.64,451.17 496.27,450.24 496.9,449.31 497.53,448.39 498.16,447.47 498.79,446.57 499.43,445.67 500.06,444.8 500.69,443.95 501.32,443.12 501.95,442.33 502.58,441.56 503.21,440.82 503.84,440.12 504.47,439.45 505.1,438.82 505.73,438.23 506.36,437.68 506.99,437.17 507.62,436.7 508.25,436.26 508.88,435.87 509.51,435.51 510.14,435.18 510.77,434.87 511.4,434.6 512.03,434.34 512.67,434.1 513.3,433.86 513.93,433.62 514.56,433.38 515.19,433.11 515.82,432.81 516.45,432.47 517.08,432.09 517.71,431.66 518.34,431.16 518.97,430.6 519.6,429.97 520.23,429.26 520.86,428.47 521.49,427.61 522.12,426.67 522.75,425.65 523.38,424.57 524.01,423.42 524.64,422.23 525.28,420.99 525.91,419.72 526.54,418.44 527.17,417.17 527.8,415.91 528.43,414.7 529.06,413.54 529.69,412.46 530.32,411.48 530.95,410.61 531.58,409.88 532.21,409.31 532.84,408.9 533.47,408.67 534.1,408.65 534.73,408.82 535.36,409.21 535.99,409.82 536.62,410.7 537.25,411.9 537.89,413.4 538.52,415.21 539.15,417.29 539.78,419.63 540.41,422.2 541.04,424.98 541.67,427.92 542.3,431 542.93,434.19 543.56,437.44 544.19,440.72 544.82,444.01 545.45,447.27 546.08,450.47 546.71,453.58 547.34,456.59 547.97,459.48 548.6,462.22 549.23,464.81 549.87,467.24 550.5,469.5 551.13,471.59 551.76,473.52 552.39,475.27 553.02,476.87 553.65,478.3 554.28,479.59 554.91,480.74 555.54,481.76 556.17,482.66 556.8,483.45 557.43,484.14 558.06,484.73 558.69,485.25 559.32,485.7 559.95,486.09 560.58,486.42 561.21,486.7 561.84,486.94 562.48,487.14" fill="none" stroke="#801080" stroke-width="1.6" stroke-linejoin="round"/>
<line x1="349.4" y1="311.3" x2="407.9" y2="311.3" stroke="#888" stroke-width="1"/>
<line x1="354.5" y1="322.2" x2="374.7" y2="322.2" stroke="#000000" stroke-width="1.8"/>
<text transform="translate(376.55,325.2) scale(0.9200,1)" font-size="9.400" font-weight="normal" fill="#222">MB</text>
<line x1="354.5" y1="334.7" x2="374.7" y2="334.7" stroke="#F5862C" stroke-width="1.8"/>
<text transform="translate(376.4,338) scale(0.9618,1)" font-size="10.200" font-weight="normal" fill="#222">C</text>
<text transform="translate(381.84,341.54) scale(1.1543,1)" font-size="5.928" font-weight="normal" fill="#444">0</text>
<line x1="354.5" y1="350.4" x2="374.7" y2="350.4" stroke="#35EEEE" stroke-width="1.8"/>
<text transform="translate(376.42,353.4) scale(0.9200,1)" font-size="9.400" font-weight="normal" fill="#222">20 min</text>
<line x1="354.5" y1="362.8" x2="374.7" y2="362.8" stroke="#12128A" stroke-width="1.8"/>
<text transform="translate(376.63,365.8) scale(0.9200,1)" font-size="9.400" font-weight="normal" fill="#222">40 min</text>
<line x1="354.5" y1="375.4" x2="374.7" y2="375.4" stroke="#EE1515" stroke-width="1.8"/>
<text transform="translate(376.43,378.4) scale(0.9200,1)" font-size="9.400" font-weight="normal" fill="#222">60 min</text>
<line x1="354.5" y1="388.3" x2="374.7" y2="388.3" stroke="#FFF200" stroke-width="1.8"/>
<text transform="translate(376.47,391.3) scale(0.9200,1)" font-size="9.400" font-weight="normal" fill="#222">80 min</text>
<line x1="354.5" y1="400.7" x2="374.7" y2="400.7" stroke="#808010" stroke-width="1.8"/>
<text transform="translate(376.04,403.7) scale(0.9200,1)" font-size="9.400" font-weight="normal" fill="#222">100 min</text>
<line x1="354.5" y1="413.6" x2="374.7" y2="413.6" stroke="#801080" stroke-width="1.8"/>
<text transform="translate(376.04,416.6) scale(0.9200,1)" font-size="9.400" font-weight="normal" fill="#222">120 min</text>
<rect x="341.8" y="275" width="252.2" height="218" fill="none" stroke="#000" stroke-width="2.2"/>
<line x1="341.8" y1="493" x2="341.8" y2="498.5" stroke="#000" stroke-width="2.2"/>
<text transform="translate(333.76,509.3) scale(0.8300,1)" font-size="12.300" font-weight="bold" fill="#000">350</text>
<line x1="357.56" y1="493" x2="357.56" y2="497" stroke="#000" stroke-width="2.2"/>
<line x1="373.32" y1="493" x2="373.32" y2="498.5" stroke="#000" stroke-width="2.2"/>
<text transform="translate(365.65,509.3) scale(0.8300,1)" font-size="12.300" font-weight="bold" fill="#000">400</text>
<line x1="389.09" y1="493" x2="389.09" y2="497" stroke="#000" stroke-width="2.2"/>
<line x1="404.85" y1="493" x2="404.85" y2="498.5" stroke="#000" stroke-width="2.2"/>
<text transform="translate(397.18,509.3) scale(0.8300,1)" font-size="12.300" font-weight="bold" fill="#000">450</text>
<line x1="420.61" y1="493" x2="420.61" y2="497" stroke="#000" stroke-width="2.2"/>
<line x1="436.38" y1="493" x2="436.38" y2="498.5" stroke="#000" stroke-width="2.2"/>
<text transform="translate(428.3,509.3) scale(0.8300,1)" font-size="12.300" font-weight="bold" fill="#000">500</text>
<line x1="452.14" y1="493" x2="452.14" y2="497" stroke="#000" stroke-width="2.2"/>
<line x1="467.9" y1="493" x2="467.9" y2="498.5" stroke="#000" stroke-width="2.2"/>
<text transform="translate(459.82,509.3) scale(0.8300,1)" font-size="12.300" font-weight="bold" fill="#000">550</text>
<line x1="483.66" y1="493" x2="483.66" y2="497" stroke="#000" stroke-width="2.2"/>
<line x1="499.43" y1="493" x2="499.43" y2="498.5" stroke="#000" stroke-width="2.2"/>
<text transform="translate(491.44,509.3) scale(0.8300,1)" font-size="12.300" font-weight="bold" fill="#000">600</text>
<line x1="515.19" y1="493" x2="515.19" y2="497" stroke="#000" stroke-width="2.2"/>
<line x1="530.95" y1="493" x2="530.95" y2="498.5" stroke="#000" stroke-width="2.2"/>
<text transform="translate(522.96,509.3) scale(0.8300,1)" font-size="12.300" font-weight="bold" fill="#000">650</text>
<line x1="546.71" y1="493" x2="546.71" y2="497" stroke="#000" stroke-width="2.2"/>
<line x1="562.48" y1="493" x2="562.48" y2="498.5" stroke="#000" stroke-width="2.2"/>
<text transform="translate(554.14,509.3) scale(0.8300,1)" font-size="12.300" font-weight="bold" fill="#000">700</text>
<line x1="578.24" y1="493" x2="578.24" y2="497" stroke="#000" stroke-width="2.2"/>
<line x1="594" y1="493" x2="594" y2="498.5" stroke="#000" stroke-width="2.2"/>
<text transform="translate(585.66,509.3) scale(0.8300,1)" font-size="12.300" font-weight="bold" fill="#000">750</text>
<line x1="336.3" y1="493" x2="341.8" y2="493" stroke="#000" stroke-width="2.2"/>
<text transform="translate(323.03,496.5) scale(0.8300,1)" font-size="12.300" font-weight="bold" fill="#000">0.0</text>
<line x1="337.8" y1="471.2" x2="341.8" y2="471.2" stroke="#000" stroke-width="2.2"/>
<line x1="336.3" y1="449.4" x2="341.8" y2="449.4" stroke="#000" stroke-width="2.2"/>
<text transform="translate(323.08,452.9) scale(0.8300,1)" font-size="12.300" font-weight="bold" fill="#000">0.2</text>
<line x1="337.8" y1="427.6" x2="341.8" y2="427.6" stroke="#000" stroke-width="2.2"/>
<line x1="336.3" y1="405.8" x2="341.8" y2="405.8" stroke="#000" stroke-width="2.2"/>
<text transform="translate(322.83,409.3) scale(0.8300,1)" font-size="12.300" font-weight="bold" fill="#000">0.4</text>
<line x1="337.8" y1="384" x2="341.8" y2="384" stroke="#000" stroke-width="2.2"/>
<line x1="336.3" y1="362.2" x2="341.8" y2="362.2" stroke="#000" stroke-width="2.2"/>
<text transform="translate(322.94,365.7) scale(0.8300,1)" font-size="12.300" font-weight="bold" fill="#000">0.6</text>
<line x1="337.8" y1="340.4" x2="341.8" y2="340.4" stroke="#000" stroke-width="2.2"/>
<line x1="336.3" y1="318.6" x2="341.8" y2="318.6" stroke="#000" stroke-width="2.2"/>
<text transform="translate(322.98,322.1) scale(0.8300,1)" font-size="12.300" font-weight="bold" fill="#000">0.8</text>
<line x1="337.8" y1="296.8" x2="341.8" y2="296.8" stroke="#000" stroke-width="2.2"/>
<line x1="336.3" y1="275" x2="341.8" y2="275" stroke="#000" stroke-width="2.2"/>
<text transform="translate(323.03,278.5) scale(0.8300,1)" font-size="12.300" font-weight="bold" fill="#000">1.0</text>
<text transform="translate(350.93,297.82) scale(1.0394,1)" font-size="23.381" font-weight="normal" fill="#000">(d)</text>
<text transform="translate(427.14,527) scale(0.8384,1)" font-size="13.130" font-weight="bold" fill="#000">Wavelength (nm)</text>
<text transform="translate(313.2,414.33) rotate(-90) scale(0.9980,0.8000)" font-size="13.200" font-weight="bold" fill="#000">Absorbance (a.u)</text>
</svg>
</body></html>
